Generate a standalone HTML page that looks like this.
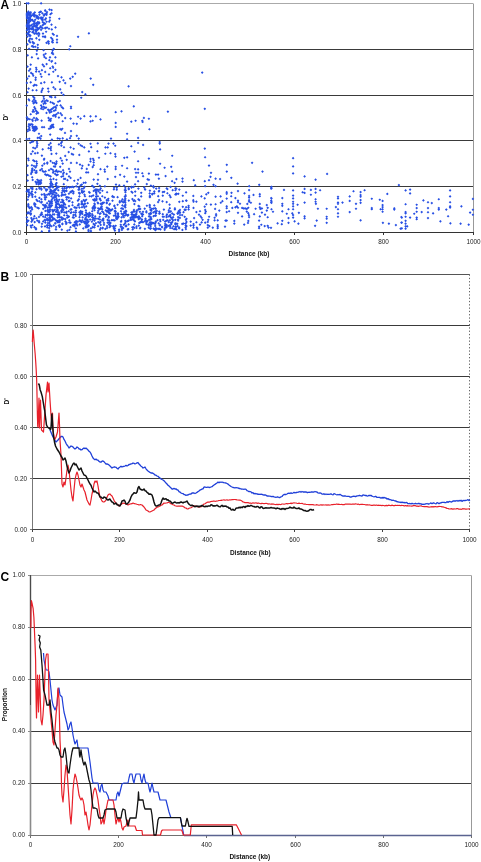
<!DOCTYPE html>
<html><head><meta charset="utf-8"><title>Figure</title>
<style>
html,body{margin:0;padding:0;background:#fff;}
body{width:481px;height:862px;overflow:hidden;font-family:"Liberation Sans",sans-serif;}
svg{display:block;will-change:transform;opacity:0.999;}
text{font-family:"Liberation Sans",sans-serif;fill:#111;}
.t{font-size:6.4px;fill:#222;}
.b{font-size:6.5px;font-weight:bold;}
.L{font-size:12px;font-weight:bold;fill:#000;}
</style></head><body>
<svg width="481" height="862" viewBox="0 0 481 862">
<rect width="481" height="862" fill="#fff"/>

<g id="panelA">
<line x1="26.5" x2="473.0" y1="186.5" y2="186.5" stroke="#3a3a3a" stroke-width="1"/>
<line x1="26.5" x2="473.0" y1="140.5" y2="140.5" stroke="#3a3a3a" stroke-width="1"/>
<line x1="26.5" x2="473.0" y1="95.5" y2="95.5" stroke="#3a3a3a" stroke-width="1"/>
<line x1="26.5" x2="473.0" y1="49.5" y2="49.5" stroke="#3a3a3a" stroke-width="1"/>
<line x1="26.5" x2="473.0" y1="3.5" y2="3.5" stroke="#aaa" stroke-width="1"/>
<line x1="473.5" x2="473.5" y1="3.5" y2="232.5" stroke="#999" stroke-width="1"/>
<line x1="26.5" x2="26.5" y1="3.0" y2="233.0" stroke="#333" stroke-width="1"/>
<line x1="26.0" x2="474.0" y1="232.5" y2="232.5" stroke="#333" stroke-width="1"/>
<line x1="24.0" x2="26.5" y1="232.5" y2="232.5" stroke="#333" stroke-width="1"/>
<text class="t" x="21.30" y="234.50" text-anchor="end">0.0</text>
<line x1="24.0" x2="26.5" y1="186.5" y2="186.5" stroke="#333" stroke-width="1"/>
<text class="t" x="21.30" y="188.50" text-anchor="end">0.2</text>
<line x1="24.0" x2="26.5" y1="140.5" y2="140.5" stroke="#333" stroke-width="1"/>
<text class="t" x="21.30" y="142.50" text-anchor="end">0.4</text>
<line x1="24.0" x2="26.5" y1="95.5" y2="95.5" stroke="#333" stroke-width="1"/>
<text class="t" x="21.30" y="97.50" text-anchor="end">0.6</text>
<line x1="24.0" x2="26.5" y1="49.5" y2="49.5" stroke="#333" stroke-width="1"/>
<text class="t" x="21.30" y="51.50" text-anchor="end">0.8</text>
<line x1="24.0" x2="26.5" y1="3.5" y2="3.5" stroke="#333" stroke-width="1"/>
<text class="t" x="21.30" y="5.50" text-anchor="end">1.0</text>
<line x1="26.5" x2="26.5" y1="232.5" y2="235.0" stroke="#333" stroke-width="1"/>
<text class="t" x="26.50" y="244.40" text-anchor="middle">0</text>
<line x1="115.5" x2="115.5" y1="232.5" y2="235.0" stroke="#333" stroke-width="1"/>
<text class="t" x="115.50" y="244.40" text-anchor="middle">200</text>
<line x1="205.5" x2="205.5" y1="232.5" y2="235.0" stroke="#333" stroke-width="1"/>
<text class="t" x="205.50" y="244.40" text-anchor="middle">400</text>
<line x1="294.5" x2="294.5" y1="232.5" y2="235.0" stroke="#333" stroke-width="1"/>
<text class="t" x="294.50" y="244.40" text-anchor="middle">600</text>
<line x1="383.5" x2="383.5" y1="232.5" y2="235.0" stroke="#333" stroke-width="1"/>
<text class="t" x="383.50" y="244.40" text-anchor="middle">800</text>
<line x1="473.5" x2="473.5" y1="232.5" y2="235.0" stroke="#333" stroke-width="1"/>
<text class="t" x="473.50" y="244.40" text-anchor="middle">1000</text>
<text class="b" x="249" y="256.1" text-anchor="middle">Distance (kb)</text>
<text class="b" transform="translate(7.7,117.3) rotate(-90)" text-anchor="middle">D'</text>
<text class="L" x="0.6" y="9.3">A</text>
<path d="M26.8,2.0l1.35,1.35l-1.35,1.35l-1.35,-1.35zM28.5,2.0l1.35,1.35l-1.35,1.35l-1.35,-1.35zM41.1,2.0l1.35,1.35l-1.35,1.35l-1.35,-1.35zM49.5,8.2l1.35,1.35l-1.35,1.35l-1.35,-1.35zM59.3,17.4l1.35,1.35l-1.35,1.35l-1.35,-1.35zM55.5,26.1l1.35,1.35l-1.35,1.35l-1.35,-1.35zM88.9,32.0l1.35,1.35l-1.35,1.35l-1.35,-1.35zM78.1,35.5l1.35,1.35l-1.35,1.35l-1.35,-1.35zM70.3,44.9l1.35,1.35l-1.35,1.35l-1.35,-1.35zM69.2,48.0l1.35,1.35l-1.35,1.35l-1.35,-1.35zM75.2,72.3l1.35,1.35l-1.35,1.35l-1.35,-1.35zM72.7,75.5l1.35,1.35l-1.35,1.35l-1.35,-1.35zM70.2,77.2l1.35,1.35l-1.35,1.35l-1.35,-1.35zM61.5,76.0l1.35,1.35l-1.35,1.35l-1.35,-1.35zM58.0,74.7l1.35,1.35l-1.35,1.35l-1.35,-1.35zM59.7,80.5l1.35,1.35l-1.35,1.35l-1.35,-1.35zM63.5,79.0l1.35,1.35l-1.35,1.35l-1.35,-1.35zM65.2,81.7l1.35,1.35l-1.35,1.35l-1.35,-1.35zM71.0,84.7l1.35,1.35l-1.35,1.35l-1.35,-1.35zM90.7,77.2l1.35,1.35l-1.35,1.35l-1.35,-1.35zM93.2,83.5l1.35,1.35l-1.35,1.35l-1.35,-1.35zM128.6,85.0l1.35,1.35l-1.35,1.35l-1.35,-1.35zM60.2,88.0l1.35,1.35l-1.35,1.35l-1.35,-1.35zM61.5,91.5l1.35,1.35l-1.35,1.35l-1.35,-1.35zM63.5,93.5l1.35,1.35l-1.35,1.35l-1.35,-1.35zM82.2,90.7l1.35,1.35l-1.35,1.35l-1.35,-1.35zM85.4,93.0l1.35,1.35l-1.35,1.35l-1.35,-1.35zM133.8,105.0l1.35,1.35l-1.35,1.35l-1.35,-1.35zM115.7,110.8l1.35,1.35l-1.35,1.35l-1.35,-1.35zM121.5,110.0l1.35,1.35l-1.35,1.35l-1.35,-1.35zM167.9,110.3l1.35,1.35l-1.35,1.35l-1.35,-1.35zM143.9,116.6l1.35,1.35l-1.35,1.35l-1.35,-1.35zM148.9,117.4l1.35,1.35l-1.35,1.35l-1.35,-1.35zM135.6,119.4l1.35,1.35l-1.35,1.35l-1.35,-1.35zM131.3,120.3l1.35,1.35l-1.35,1.35l-1.35,-1.35zM142.3,119.4l1.35,1.35l-1.35,1.35l-1.35,-1.35zM142.6,120.6l1.35,1.35l-1.35,1.35l-1.35,-1.35zM115.7,121.6l1.35,1.35l-1.35,1.35l-1.35,-1.35zM115.7,125.6l1.35,1.35l-1.35,1.35l-1.35,-1.35zM149.4,127.9l1.35,1.35l-1.35,1.35l-1.35,-1.35zM127.1,132.4l1.35,1.35l-1.35,1.35l-1.35,-1.35zM111.0,137.2l1.35,1.35l-1.35,1.35l-1.35,-1.35zM127.1,137.9l1.35,1.35l-1.35,1.35l-1.35,-1.35zM138.1,136.6l1.35,1.35l-1.35,1.35l-1.35,-1.35zM108.5,142.2l1.35,1.35l-1.35,1.35l-1.35,-1.35zM113.5,142.2l1.35,1.35l-1.35,1.35l-1.35,-1.35zM115.2,144.4l1.35,1.35l-1.35,1.35l-1.35,-1.35zM107.7,146.1l1.35,1.35l-1.35,1.35l-1.35,-1.35zM131.3,144.9l1.35,1.35l-1.35,1.35l-1.35,-1.35zM138.1,141.6l1.35,1.35l-1.35,1.35l-1.35,-1.35zM143.1,143.6l1.35,1.35l-1.35,1.35l-1.35,-1.35zM159.7,140.7l1.35,1.35l-1.35,1.35l-1.35,-1.35zM159.7,142.2l1.35,1.35l-1.35,1.35l-1.35,-1.35zM160.1,148.1l1.35,1.35l-1.35,1.35l-1.35,-1.35zM134.6,150.2l1.35,1.35l-1.35,1.35l-1.35,-1.35zM110.5,151.9l1.35,1.35l-1.35,1.35l-1.35,-1.35zM115.2,152.7l1.35,1.35l-1.35,1.35l-1.35,-1.35zM115.5,155.2l1.35,1.35l-1.35,1.35l-1.35,-1.35zM124.3,156.5l1.35,1.35l-1.35,1.35l-1.35,-1.35zM127.1,156.0l1.35,1.35l-1.35,1.35l-1.35,-1.35zM148.9,157.2l1.35,1.35l-1.35,1.35l-1.35,-1.35zM172.2,154.4l1.35,1.35l-1.35,1.35l-1.35,-1.35zM138.1,159.9l1.35,1.35l-1.35,1.35l-1.35,-1.35zM160.1,162.4l1.35,1.35l-1.35,1.35l-1.35,-1.35zM122.1,164.4l1.35,1.35l-1.35,1.35l-1.35,-1.35zM107.3,165.2l1.35,1.35l-1.35,1.35l-1.35,-1.35zM115.7,165.5l1.35,1.35l-1.35,1.35l-1.35,-1.35zM115.7,167.7l1.35,1.35l-1.35,1.35l-1.35,-1.35zM127.1,166.9l1.35,1.35l-1.35,1.35l-1.35,-1.35zM164.6,166.4l1.35,1.35l-1.35,1.35l-1.35,-1.35zM171.2,165.5l1.35,1.35l-1.35,1.35l-1.35,-1.35zM135.1,167.7l1.35,1.35l-1.35,1.35l-1.35,-1.35zM138.1,168.0l1.35,1.35l-1.35,1.35l-1.35,-1.35zM172.1,170.2l1.35,1.35l-1.35,1.35l-1.35,-1.35zM136.0,171.4l1.35,1.35l-1.35,1.35l-1.35,-1.35zM138.1,171.4l1.35,1.35l-1.35,1.35l-1.35,-1.35zM142.3,171.9l1.35,1.35l-1.35,1.35l-1.35,-1.35zM148.9,172.2l1.35,1.35l-1.35,1.35l-1.35,-1.35zM155.9,173.2l1.35,1.35l-1.35,1.35l-1.35,-1.35zM158.1,173.2l1.35,1.35l-1.35,1.35l-1.35,-1.35zM120.1,173.5l1.35,1.35l-1.35,1.35l-1.35,-1.35zM124.3,175.2l1.35,1.35l-1.35,1.35l-1.35,-1.35zM115.2,175.5l1.35,1.35l-1.35,1.35l-1.35,-1.35zM136.0,175.7l1.35,1.35l-1.35,1.35l-1.35,-1.35zM143.1,174.8l1.35,1.35l-1.35,1.35l-1.35,-1.35zM165.6,174.7l1.35,1.35l-1.35,1.35l-1.35,-1.35zM158.9,177.3l1.35,1.35l-1.35,1.35l-1.35,-1.35zM107.7,177.7l1.35,1.35l-1.35,1.35l-1.35,-1.35zM147.6,178.0l1.35,1.35l-1.35,1.35l-1.35,-1.35zM148.9,178.5l1.35,1.35l-1.35,1.35l-1.35,-1.35zM176.4,177.7l1.35,1.35l-1.35,1.35l-1.35,-1.35zM182.5,177.2l1.35,1.35l-1.35,1.35l-1.35,-1.35zM182.5,180.2l1.35,1.35l-1.35,1.35l-1.35,-1.35zM172.1,179.8l1.35,1.35l-1.35,1.35l-1.35,-1.35zM174.6,181.5l1.35,1.35l-1.35,1.35l-1.35,-1.35zM127.1,180.2l1.35,1.35l-1.35,1.35l-1.35,-1.35zM138.1,179.8l1.35,1.35l-1.35,1.35l-1.35,-1.35zM135.1,183.0l1.35,1.35l-1.35,1.35l-1.35,-1.35zM116.0,183.2l1.35,1.35l-1.35,1.35l-1.35,-1.35zM119.3,184.0l1.35,1.35l-1.35,1.35l-1.35,-1.35zM124.0,184.3l1.35,1.35l-1.35,1.35l-1.35,-1.35zM146.8,182.7l1.35,1.35l-1.35,1.35l-1.35,-1.35zM150.9,184.3l1.35,1.35l-1.35,1.35l-1.35,-1.35zM153.4,184.8l1.35,1.35l-1.35,1.35l-1.35,-1.35zM204.8,107.5l1.35,1.35l-1.35,1.35l-1.35,-1.35zM204.8,147.2l1.35,1.35l-1.35,1.35l-1.35,-1.35zM205.1,155.9l1.35,1.35l-1.35,1.35l-1.35,-1.35zM209.0,164.2l1.35,1.35l-1.35,1.35l-1.35,-1.35zM226.8,163.5l1.35,1.35l-1.35,1.35l-1.35,-1.35zM252.1,161.5l1.35,1.35l-1.35,1.35l-1.35,-1.35zM226.8,170.2l1.35,1.35l-1.35,1.35l-1.35,-1.35zM211.0,171.5l1.35,1.35l-1.35,1.35l-1.35,-1.35zM262.5,170.2l1.35,1.35l-1.35,1.35l-1.35,-1.35zM210.5,175.5l1.35,1.35l-1.35,1.35l-1.35,-1.35zM231.3,176.5l1.35,1.35l-1.35,1.35l-1.35,-1.35zM215.6,177.3l1.35,1.35l-1.35,1.35l-1.35,-1.35zM220.1,177.7l1.35,1.35l-1.35,1.35l-1.35,-1.35zM193.8,178.8l1.35,1.35l-1.35,1.35l-1.35,-1.35zM209.0,178.8l1.35,1.35l-1.35,1.35l-1.35,-1.35zM204.8,179.8l1.35,1.35l-1.35,1.35l-1.35,-1.35zM237.6,182.3l1.35,1.35l-1.35,1.35l-1.35,-1.35zM195.2,184.0l1.35,1.35l-1.35,1.35l-1.35,-1.35zM205.1,184.7l1.35,1.35l-1.35,1.35l-1.35,-1.35zM213.5,183.5l1.35,1.35l-1.35,1.35l-1.35,-1.35zM215.6,184.8l1.35,1.35l-1.35,1.35l-1.35,-1.35zM249.2,184.8l1.35,1.35l-1.35,1.35l-1.35,-1.35zM259.2,183.5l1.35,1.35l-1.35,1.35l-1.35,-1.35zM202.2,71.2l1.35,1.35l-1.35,1.35l-1.35,-1.35zM293.1,156.8l1.35,1.35l-1.35,1.35l-1.35,-1.35zM293.1,165.1l1.35,1.35l-1.35,1.35l-1.35,-1.35zM293.1,172.1l1.35,1.35l-1.35,1.35l-1.35,-1.35zM327.1,172.6l1.35,1.35l-1.35,1.35l-1.35,-1.35zM304.6,175.1l1.35,1.35l-1.35,1.35l-1.35,-1.35zM315.6,178.3l1.35,1.35l-1.35,1.35l-1.35,-1.35zM271.5,185.4l1.35,1.35l-1.35,1.35l-1.35,-1.35zM271.5,187.1l1.35,1.35l-1.35,1.35l-1.35,-1.35zM284.0,188.6l1.35,1.35l-1.35,1.35l-1.35,-1.35zM293.1,189.1l1.35,1.35l-1.35,1.35l-1.35,-1.35zM304.6,187.6l1.35,1.35l-1.35,1.35l-1.35,-1.35zM310.9,188.6l1.35,1.35l-1.35,1.35l-1.35,-1.35zM315.6,187.6l1.35,1.35l-1.35,1.35l-1.35,-1.35zM320.1,188.9l1.35,1.35l-1.35,1.35l-1.35,-1.35zM302.6,190.9l1.35,1.35l-1.35,1.35l-1.35,-1.35zM304.6,191.6l1.35,1.35l-1.35,1.35l-1.35,-1.35zM315.6,191.2l1.35,1.35l-1.35,1.35l-1.35,-1.35zM310.9,193.4l1.35,1.35l-1.35,1.35l-1.35,-1.35zM293.1,194.2l1.35,1.35l-1.35,1.35l-1.35,-1.35zM293.1,197.1l1.35,1.35l-1.35,1.35l-1.35,-1.35zM271.5,197.1l1.35,1.35l-1.35,1.35l-1.35,-1.35zM282.3,196.7l1.35,1.35l-1.35,1.35l-1.35,-1.35zM315.6,197.9l1.35,1.35l-1.35,1.35l-1.35,-1.35zM338.0,195.4l1.35,1.35l-1.35,1.35l-1.35,-1.35zM338.0,197.1l1.35,1.35l-1.35,1.35l-1.35,-1.35zM271.5,199.9l1.35,1.35l-1.35,1.35l-1.35,-1.35zM271.5,201.5l1.35,1.35l-1.35,1.35l-1.35,-1.35zM293.1,200.4l1.35,1.35l-1.35,1.35l-1.35,-1.35zM293.1,202.5l1.35,1.35l-1.35,1.35l-1.35,-1.35zM304.6,201.2l1.35,1.35l-1.35,1.35l-1.35,-1.35zM315.6,200.4l1.35,1.35l-1.35,1.35l-1.35,-1.35zM315.9,202.5l1.35,1.35l-1.35,1.35l-1.35,-1.35zM338.0,201.2l1.35,1.35l-1.35,1.35l-1.35,-1.35zM338.0,202.5l1.35,1.35l-1.35,1.35l-1.35,-1.35zM342.5,201.2l1.35,1.35l-1.35,1.35l-1.35,-1.35zM282.3,202.5l1.35,1.35l-1.35,1.35l-1.35,-1.35zM282.3,204.5l1.35,1.35l-1.35,1.35l-1.35,-1.35zM297.6,203.4l1.35,1.35l-1.35,1.35l-1.35,-1.35zM266.8,203.7l1.35,1.35l-1.35,1.35l-1.35,-1.35zM293.1,205.0l1.35,1.35l-1.35,1.35l-1.35,-1.35zM267.7,206.5l1.35,1.35l-1.35,1.35l-1.35,-1.35zM271.5,207.9l1.35,1.35l-1.35,1.35l-1.35,-1.35zM288.5,207.9l1.35,1.35l-1.35,1.35l-1.35,-1.35zM293.1,207.9l1.35,1.35l-1.35,1.35l-1.35,-1.35zM317.9,207.4l1.35,1.35l-1.35,1.35l-1.35,-1.35zM326.7,207.4l1.35,1.35l-1.35,1.35l-1.35,-1.35zM335.9,205.7l1.35,1.35l-1.35,1.35l-1.35,-1.35zM338.0,207.9l1.35,1.35l-1.35,1.35l-1.35,-1.35zM266.8,209.2l1.35,1.35l-1.35,1.35l-1.35,-1.35zM273.0,210.4l1.35,1.35l-1.35,1.35l-1.35,-1.35zM282.3,210.0l1.35,1.35l-1.35,1.35l-1.35,-1.35zM286.8,212.4l1.35,1.35l-1.35,1.35l-1.35,-1.35zM292.3,212.0l1.35,1.35l-1.35,1.35l-1.35,-1.35zM298.9,211.5l1.35,1.35l-1.35,1.35l-1.35,-1.35zM338.0,212.0l1.35,1.35l-1.35,1.35l-1.35,-1.35zM293.1,213.7l1.35,1.35l-1.35,1.35l-1.35,-1.35zM267.7,215.9l1.35,1.35l-1.35,1.35l-1.35,-1.35zM288.5,216.7l1.35,1.35l-1.35,1.35l-1.35,-1.35zM293.1,216.2l1.35,1.35l-1.35,1.35l-1.35,-1.35zM304.6,215.0l1.35,1.35l-1.35,1.35l-1.35,-1.35zM304.6,217.0l1.35,1.35l-1.35,1.35l-1.35,-1.35zM326.7,215.4l1.35,1.35l-1.35,1.35l-1.35,-1.35zM326.7,217.4l1.35,1.35l-1.35,1.35l-1.35,-1.35zM338.0,215.4l1.35,1.35l-1.35,1.35l-1.35,-1.35zM282.3,219.5l1.35,1.35l-1.35,1.35l-1.35,-1.35zM294.6,220.0l1.35,1.35l-1.35,1.35l-1.35,-1.35zM316.7,219.2l1.35,1.35l-1.35,1.35l-1.35,-1.35zM277.6,222.0l1.35,1.35l-1.35,1.35l-1.35,-1.35zM281.8,222.8l1.35,1.35l-1.35,1.35l-1.35,-1.35zM288.5,221.5l1.35,1.35l-1.35,1.35l-1.35,-1.35zM298.4,222.3l1.35,1.35l-1.35,1.35l-1.35,-1.35zM326.7,221.5l1.35,1.35l-1.35,1.35l-1.35,-1.35zM315.1,224.5l1.35,1.35l-1.35,1.35l-1.35,-1.35zM267.7,224.5l1.35,1.35l-1.35,1.35l-1.35,-1.35zM268.5,226.2l1.35,1.35l-1.35,1.35l-1.35,-1.35zM271.0,226.5l1.35,1.35l-1.35,1.35l-1.35,-1.35zM398.9,183.7l1.35,1.35l-1.35,1.35l-1.35,-1.35zM364.6,188.9l1.35,1.35l-1.35,1.35l-1.35,-1.35zM353.5,189.9l1.35,1.35l-1.35,1.35l-1.35,-1.35zM360.6,190.7l1.35,1.35l-1.35,1.35l-1.35,-1.35zM405.6,189.1l1.35,1.35l-1.35,1.35l-1.35,-1.35zM410.1,188.2l1.35,1.35l-1.35,1.35l-1.35,-1.35zM410.1,192.1l1.35,1.35l-1.35,1.35l-1.35,-1.35zM387.3,192.6l1.35,1.35l-1.35,1.35l-1.35,-1.35zM349.7,195.1l1.35,1.35l-1.35,1.35l-1.35,-1.35zM360.6,193.7l1.35,1.35l-1.35,1.35l-1.35,-1.35zM360.6,195.4l1.35,1.35l-1.35,1.35l-1.35,-1.35zM371.8,197.4l1.35,1.35l-1.35,1.35l-1.35,-1.35zM379.8,198.4l1.35,1.35l-1.35,1.35l-1.35,-1.35zM349.7,199.6l1.35,1.35l-1.35,1.35l-1.35,-1.35zM360.6,198.7l1.35,1.35l-1.35,1.35l-1.35,-1.35zM360.6,201.5l1.35,1.35l-1.35,1.35l-1.35,-1.35zM382.6,199.6l1.35,1.35l-1.35,1.35l-1.35,-1.35zM423.4,199.1l1.35,1.35l-1.35,1.35l-1.35,-1.35zM356.0,202.5l1.35,1.35l-1.35,1.35l-1.35,-1.35zM405.6,202.9l1.35,1.35l-1.35,1.35l-1.35,-1.35zM416.7,203.4l1.35,1.35l-1.35,1.35l-1.35,-1.35zM382.6,203.7l1.35,1.35l-1.35,1.35l-1.35,-1.35zM382.6,205.7l1.35,1.35l-1.35,1.35l-1.35,-1.35zM356.0,207.4l1.35,1.35l-1.35,1.35l-1.35,-1.35zM371.8,206.7l1.35,1.35l-1.35,1.35l-1.35,-1.35zM371.8,207.9l1.35,1.35l-1.35,1.35l-1.35,-1.35zM380.6,207.9l1.35,1.35l-1.35,1.35l-1.35,-1.35zM382.6,207.9l1.35,1.35l-1.35,1.35l-1.35,-1.35zM394.3,207.0l1.35,1.35l-1.35,1.35l-1.35,-1.35zM394.3,208.2l1.35,1.35l-1.35,1.35l-1.35,-1.35zM416.7,206.7l1.35,1.35l-1.35,1.35l-1.35,-1.35zM349.7,210.7l1.35,1.35l-1.35,1.35l-1.35,-1.35zM382.6,210.4l1.35,1.35l-1.35,1.35l-1.35,-1.35zM405.6,210.7l1.35,1.35l-1.35,1.35l-1.35,-1.35zM405.6,212.0l1.35,1.35l-1.35,1.35l-1.35,-1.35zM416.7,210.4l1.35,1.35l-1.35,1.35l-1.35,-1.35zM421.7,210.7l1.35,1.35l-1.35,1.35l-1.35,-1.35zM414.2,212.4l1.35,1.35l-1.35,1.35l-1.35,-1.35zM401.4,215.7l1.35,1.35l-1.35,1.35l-1.35,-1.35zM405.6,215.4l1.35,1.35l-1.35,1.35l-1.35,-1.35zM410.1,216.2l1.35,1.35l-1.35,1.35l-1.35,-1.35zM416.7,216.2l1.35,1.35l-1.35,1.35l-1.35,-1.35zM416.7,217.9l1.35,1.35l-1.35,1.35l-1.35,-1.35zM360.6,219.0l1.35,1.35l-1.35,1.35l-1.35,-1.35zM405.6,219.5l1.35,1.35l-1.35,1.35l-1.35,-1.35zM401.4,221.2l1.35,1.35l-1.35,1.35l-1.35,-1.35zM382.9,221.5l1.35,1.35l-1.35,1.35l-1.35,-1.35zM388.9,222.3l1.35,1.35l-1.35,1.35l-1.35,-1.35zM405.6,222.3l1.35,1.35l-1.35,1.35l-1.35,-1.35zM395.9,223.7l1.35,1.35l-1.35,1.35l-1.35,-1.35zM405.6,225.0l1.35,1.35l-1.35,1.35l-1.35,-1.35zM407.2,225.0l1.35,1.35l-1.35,1.35l-1.35,-1.35zM400.6,227.3l1.35,1.35l-1.35,1.35l-1.35,-1.35zM405.6,227.3l1.35,1.35l-1.35,1.35l-1.35,-1.35zM428.0,200.9l1.35,1.35l-1.35,1.35l-1.35,-1.35zM431.8,201.7l1.35,1.35l-1.35,1.35l-1.35,-1.35zM438.8,197.9l1.35,1.35l-1.35,1.35l-1.35,-1.35zM450.1,189.1l1.35,1.35l-1.35,1.35l-1.35,-1.35zM450.1,195.1l1.35,1.35l-1.35,1.35l-1.35,-1.35zM450.1,200.9l1.35,1.35l-1.35,1.35l-1.35,-1.35zM450.1,205.0l1.35,1.35l-1.35,1.35l-1.35,-1.35zM450.1,206.2l1.35,1.35l-1.35,1.35l-1.35,-1.35zM472.9,197.6l1.35,1.35l-1.35,1.35l-1.35,-1.35zM461.4,205.0l1.35,1.35l-1.35,1.35l-1.35,-1.35zM428.0,206.7l1.35,1.35l-1.35,1.35l-1.35,-1.35zM438.8,206.7l1.35,1.35l-1.35,1.35l-1.35,-1.35zM438.8,208.2l1.35,1.35l-1.35,1.35l-1.35,-1.35zM446.3,208.2l1.35,1.35l-1.35,1.35l-1.35,-1.35zM472.9,208.4l1.35,1.35l-1.35,1.35l-1.35,-1.35zM428.0,210.9l1.35,1.35l-1.35,1.35l-1.35,-1.35zM433.1,212.0l1.35,1.35l-1.35,1.35l-1.35,-1.35zM470.1,211.2l1.35,1.35l-1.35,1.35l-1.35,-1.35zM472.9,213.4l1.35,1.35l-1.35,1.35l-1.35,-1.35zM448.1,214.9l1.35,1.35l-1.35,1.35l-1.35,-1.35zM428.0,216.7l1.35,1.35l-1.35,1.35l-1.35,-1.35zM440.4,220.0l1.35,1.35l-1.35,1.35l-1.35,-1.35zM450.4,222.0l1.35,1.35l-1.35,1.35l-1.35,-1.35zM460.6,222.3l1.35,1.35l-1.35,1.35l-1.35,-1.35zM468.7,223.3l1.35,1.35l-1.35,1.35l-1.35,-1.35zM401.8,216.2l1.35,1.35l-1.35,1.35l-1.35,-1.35zM401.8,221.2l1.35,1.35l-1.35,1.35l-1.35,-1.35zM401.8,227.0l1.35,1.35l-1.35,1.35l-1.35,-1.35zM36.9,49.4l1.35,1.35l-1.35,1.35l-1.35,-1.35zM43.6,48.8l1.35,1.35l-1.35,1.35l-1.35,-1.35zM52.7,49.0l1.35,1.35l-1.35,1.35l-1.35,-1.35zM52.3,51.1l1.35,1.35l-1.35,1.35l-1.35,-1.35zM53.1,52.7l1.35,1.35l-1.35,1.35l-1.35,-1.35zM27.7,54.0l1.35,1.35l-1.35,1.35l-1.35,-1.35zM43.8,53.6l1.35,1.35l-1.35,1.35l-1.35,-1.35zM31.9,56.0l1.35,1.35l-1.35,1.35l-1.35,-1.35zM38.1,57.1l1.35,1.35l-1.35,1.35l-1.35,-1.35zM44.4,55.6l1.35,1.35l-1.35,1.35l-1.35,-1.35zM46.0,56.9l1.35,1.35l-1.35,1.35l-1.35,-1.35zM50.0,56.0l1.35,1.35l-1.35,1.35l-1.35,-1.35zM55.4,56.0l1.35,1.35l-1.35,1.35l-1.35,-1.35zM51.5,60.2l1.35,1.35l-1.35,1.35l-1.35,-1.35zM55.4,61.9l1.35,1.35l-1.35,1.35l-1.35,-1.35zM30.7,63.3l1.35,1.35l-1.35,1.35l-1.35,-1.35zM42.7,63.3l1.35,1.35l-1.35,1.35l-1.35,-1.35zM44.0,65.0l1.35,1.35l-1.35,1.35l-1.35,-1.35zM46.6,62.7l1.35,1.35l-1.35,1.35l-1.35,-1.35zM52.7,65.2l1.35,1.35l-1.35,1.35l-1.35,-1.35zM53.1,66.4l1.35,1.35l-1.35,1.35l-1.35,-1.35zM50.2,66.9l1.35,1.35l-1.35,1.35l-1.35,-1.35zM55.4,68.5l1.35,1.35l-1.35,1.35l-1.35,-1.35zM36.1,66.4l1.35,1.35l-1.35,1.35l-1.35,-1.35zM36.5,68.1l1.35,1.35l-1.35,1.35l-1.35,-1.35zM36.1,70.2l1.35,1.35l-1.35,1.35l-1.35,-1.35zM30.2,67.7l1.35,1.35l-1.35,1.35l-1.35,-1.35zM29.0,69.4l1.35,1.35l-1.35,1.35l-1.35,-1.35zM41.9,68.8l1.35,1.35l-1.35,1.35l-1.35,-1.35zM45.2,70.6l1.35,1.35l-1.35,1.35l-1.35,-1.35zM31.1,71.6l1.35,1.35l-1.35,1.35l-1.35,-1.35zM32.7,72.7l1.35,1.35l-1.35,1.35l-1.35,-1.35zM33.2,74.4l1.35,1.35l-1.35,1.35l-1.35,-1.35zM40.6,72.7l1.35,1.35l-1.35,1.35l-1.35,-1.35zM49.0,73.1l1.35,1.35l-1.35,1.35l-1.35,-1.35zM29.0,74.9l1.35,1.35l-1.35,1.35l-1.35,-1.35zM27.3,77.3l1.35,1.35l-1.35,1.35l-1.35,-1.35zM41.5,75.4l1.35,1.35l-1.35,1.35l-1.35,-1.35zM35.6,78.5l1.35,1.35l-1.35,1.35l-1.35,-1.35zM30.7,81.0l1.35,1.35l-1.35,1.35l-1.35,-1.35zM41.1,81.8l1.35,1.35l-1.35,1.35l-1.35,-1.35zM44.4,81.0l1.35,1.35l-1.35,1.35l-1.35,-1.35zM51.9,81.0l1.35,1.35l-1.35,1.35l-1.35,-1.35zM34.8,83.5l1.35,1.35l-1.35,1.35l-1.35,-1.35zM33.6,84.3l1.35,1.35l-1.35,1.35l-1.35,-1.35zM36.5,83.9l1.35,1.35l-1.35,1.35l-1.35,-1.35zM28.6,87.2l1.35,1.35l-1.35,1.35l-1.35,-1.35zM32.7,88.9l1.35,1.35l-1.35,1.35l-1.35,-1.35zM36.5,88.9l1.35,1.35l-1.35,1.35l-1.35,-1.35zM42.7,87.2l1.35,1.35l-1.35,1.35l-1.35,-1.35zM41.9,88.9l1.35,1.35l-1.35,1.35l-1.35,-1.35zM41.5,90.6l1.35,1.35l-1.35,1.35l-1.35,-1.35zM48.1,87.2l1.35,1.35l-1.35,1.35l-1.35,-1.35zM48.5,90.2l1.35,1.35l-1.35,1.35l-1.35,-1.35zM53.5,86.0l1.35,1.35l-1.35,1.35l-1.35,-1.35zM55.2,87.7l1.35,1.35l-1.35,1.35l-1.35,-1.35zM33.2,95.4l1.35,1.35l-1.35,1.35l-1.35,-1.35zM34.4,96.6l1.35,1.35l-1.35,1.35l-1.35,-1.35zM34.0,98.3l1.35,1.35l-1.35,1.35l-1.35,-1.35zM32.7,100.0l1.35,1.35l-1.35,1.35l-1.35,-1.35zM34.8,100.8l1.35,1.35l-1.35,1.35l-1.35,-1.35zM36.5,101.6l1.35,1.35l-1.35,1.35l-1.35,-1.35zM33.6,102.0l1.35,1.35l-1.35,1.35l-1.35,-1.35zM35.6,99.6l1.35,1.35l-1.35,1.35l-1.35,-1.35zM43.6,95.4l1.35,1.35l-1.35,1.35l-1.35,-1.35zM44.0,97.5l1.35,1.35l-1.35,1.35l-1.35,-1.35zM42.7,99.6l1.35,1.35l-1.35,1.35l-1.35,-1.35zM44.8,100.0l1.35,1.35l-1.35,1.35l-1.35,-1.35zM46.5,99.1l1.35,1.35l-1.35,1.35l-1.35,-1.35zM47.7,99.6l1.35,1.35l-1.35,1.35l-1.35,-1.35zM44.4,101.6l1.35,1.35l-1.35,1.35l-1.35,-1.35zM45.6,102.0l1.35,1.35l-1.35,1.35l-1.35,-1.35zM41.9,100.4l1.35,1.35l-1.35,1.35l-1.35,-1.35zM43.6,102.5l1.35,1.35l-1.35,1.35l-1.35,-1.35zM51.5,95.8l1.35,1.35l-1.35,1.35l-1.35,-1.35zM55.2,95.8l1.35,1.35l-1.35,1.35l-1.35,-1.35zM50.6,100.8l1.35,1.35l-1.35,1.35l-1.35,-1.35zM52.7,101.6l1.35,1.35l-1.35,1.35l-1.35,-1.35zM54.0,102.5l1.35,1.35l-1.35,1.35l-1.35,-1.35zM58.1,100.4l1.35,1.35l-1.35,1.35l-1.35,-1.35zM59.8,99.6l1.35,1.35l-1.35,1.35l-1.35,-1.35zM60.6,104.1l1.35,1.35l-1.35,1.35l-1.35,-1.35zM61.9,105.8l1.35,1.35l-1.35,1.35l-1.35,-1.35zM63.1,107.0l1.35,1.35l-1.35,1.35l-1.35,-1.35zM34.4,105.8l1.35,1.35l-1.35,1.35l-1.35,-1.35zM35.2,107.5l1.35,1.35l-1.35,1.35l-1.35,-1.35zM33.2,108.7l1.35,1.35l-1.35,1.35l-1.35,-1.35zM34.0,110.4l1.35,1.35l-1.35,1.35l-1.35,-1.35zM36.1,109.5l1.35,1.35l-1.35,1.35l-1.35,-1.35zM37.3,110.8l1.35,1.35l-1.35,1.35l-1.35,-1.35zM38.1,111.6l1.35,1.35l-1.35,1.35l-1.35,-1.35zM36.5,112.4l1.35,1.35l-1.35,1.35l-1.35,-1.35zM32.7,110.4l1.35,1.35l-1.35,1.35l-1.35,-1.35zM30.7,112.9l1.35,1.35l-1.35,1.35l-1.35,-1.35zM41.1,104.1l1.35,1.35l-1.35,1.35l-1.35,-1.35zM41.9,105.8l1.35,1.35l-1.35,1.35l-1.35,-1.35zM43.6,105.4l1.35,1.35l-1.35,1.35l-1.35,-1.35zM44.8,106.6l1.35,1.35l-1.35,1.35l-1.35,-1.35zM43.1,107.9l1.35,1.35l-1.35,1.35l-1.35,-1.35zM46.0,106.2l1.35,1.35l-1.35,1.35l-1.35,-1.35zM48.1,108.3l1.35,1.35l-1.35,1.35l-1.35,-1.35zM49.0,109.5l1.35,1.35l-1.35,1.35l-1.35,-1.35zM50.2,108.7l1.35,1.35l-1.35,1.35l-1.35,-1.35zM51.5,107.9l1.35,1.35l-1.35,1.35l-1.35,-1.35zM52.7,107.0l1.35,1.35l-1.35,1.35l-1.35,-1.35zM53.5,106.2l1.35,1.35l-1.35,1.35l-1.35,-1.35zM55.2,105.4l1.35,1.35l-1.35,1.35l-1.35,-1.35zM56.0,106.6l1.35,1.35l-1.35,1.35l-1.35,-1.35zM55.6,108.7l1.35,1.35l-1.35,1.35l-1.35,-1.35zM54.0,109.5l1.35,1.35l-1.35,1.35l-1.35,-1.35zM51.5,110.4l1.35,1.35l-1.35,1.35l-1.35,-1.35zM49.8,111.2l1.35,1.35l-1.35,1.35l-1.35,-1.35zM56.9,104.1l1.35,1.35l-1.35,1.35l-1.35,-1.35zM46.5,111.6l1.35,1.35l-1.35,1.35l-1.35,-1.35zM54.0,113.7l1.35,1.35l-1.35,1.35l-1.35,-1.35zM55.2,114.1l1.35,1.35l-1.35,1.35l-1.35,-1.35zM56.4,112.9l1.35,1.35l-1.35,1.35l-1.35,-1.35zM55.6,115.4l1.35,1.35l-1.35,1.35l-1.35,-1.35zM58.1,111.6l1.35,1.35l-1.35,1.35l-1.35,-1.35zM60.6,112.0l1.35,1.35l-1.35,1.35l-1.35,-1.35zM61.9,113.7l1.35,1.35l-1.35,1.35l-1.35,-1.35zM58.9,116.2l1.35,1.35l-1.35,1.35l-1.35,-1.35zM53.1,114.5l1.35,1.35l-1.35,1.35l-1.35,-1.35zM26.9,115.8l1.35,1.35l-1.35,1.35l-1.35,-1.35zM28.2,117.4l1.35,1.35l-1.35,1.35l-1.35,-1.35zM29.8,117.9l1.35,1.35l-1.35,1.35l-1.35,-1.35zM32.3,118.3l1.35,1.35l-1.35,1.35l-1.35,-1.35zM34.0,116.6l1.35,1.35l-1.35,1.35l-1.35,-1.35zM36.5,117.0l1.35,1.35l-1.35,1.35l-1.35,-1.35zM37.7,118.3l1.35,1.35l-1.35,1.35l-1.35,-1.35zM32.7,119.5l1.35,1.35l-1.35,1.35l-1.35,-1.35zM35.6,119.1l1.35,1.35l-1.35,1.35l-1.35,-1.35zM27.3,118.3l1.35,1.35l-1.35,1.35l-1.35,-1.35zM41.6,119.3l1.35,1.35l-1.35,1.35l-1.35,-1.35zM48.5,116.6l1.35,1.35l-1.35,1.35l-1.35,-1.35zM49.8,118.3l1.35,1.35l-1.35,1.35l-1.35,-1.35zM51.0,117.4l1.35,1.35l-1.35,1.35l-1.35,-1.35zM50.6,119.5l1.35,1.35l-1.35,1.35l-1.35,-1.35zM49.0,119.1l1.35,1.35l-1.35,1.35l-1.35,-1.35zM29.0,122.8l1.35,1.35l-1.35,1.35l-1.35,-1.35zM30.2,123.7l1.35,1.35l-1.35,1.35l-1.35,-1.35zM28.6,124.9l1.35,1.35l-1.35,1.35l-1.35,-1.35zM29.4,126.6l1.35,1.35l-1.35,1.35l-1.35,-1.35zM28.2,128.3l1.35,1.35l-1.35,1.35l-1.35,-1.35zM27.7,129.9l1.35,1.35l-1.35,1.35l-1.35,-1.35zM29.8,128.7l1.35,1.35l-1.35,1.35l-1.35,-1.35zM31.1,122.8l1.35,1.35l-1.35,1.35l-1.35,-1.35zM32.7,126.6l1.35,1.35l-1.35,1.35l-1.35,-1.35zM34.0,125.8l1.35,1.35l-1.35,1.35l-1.35,-1.35zM35.2,125.3l1.35,1.35l-1.35,1.35l-1.35,-1.35zM36.5,125.8l1.35,1.35l-1.35,1.35l-1.35,-1.35zM33.6,127.8l1.35,1.35l-1.35,1.35l-1.35,-1.35zM34.8,127.4l1.35,1.35l-1.35,1.35l-1.35,-1.35zM36.1,127.0l1.35,1.35l-1.35,1.35l-1.35,-1.35zM33.2,129.1l1.35,1.35l-1.35,1.35l-1.35,-1.35zM34.4,129.5l1.35,1.35l-1.35,1.35l-1.35,-1.35zM35.6,128.7l1.35,1.35l-1.35,1.35l-1.35,-1.35zM36.9,127.4l1.35,1.35l-1.35,1.35l-1.35,-1.35zM42.1,125.8l1.35,1.35l-1.35,1.35l-1.35,-1.35zM44.1,125.8l1.35,1.35l-1.35,1.35l-1.35,-1.35zM49.0,127.4l1.35,1.35l-1.35,1.35l-1.35,-1.35zM50.2,127.0l1.35,1.35l-1.35,1.35l-1.35,-1.35zM51.5,126.2l1.35,1.35l-1.35,1.35l-1.35,-1.35zM52.7,124.9l1.35,1.35l-1.35,1.35l-1.35,-1.35zM53.1,123.3l1.35,1.35l-1.35,1.35l-1.35,-1.35zM51.9,123.7l1.35,1.35l-1.35,1.35l-1.35,-1.35zM50.6,124.9l1.35,1.35l-1.35,1.35l-1.35,-1.35zM53.5,125.8l1.35,1.35l-1.35,1.35l-1.35,-1.35zM60.2,127.8l1.35,1.35l-1.35,1.35l-1.35,-1.35zM61.4,128.3l1.35,1.35l-1.35,1.35l-1.35,-1.35zM62.3,127.4l1.35,1.35l-1.35,1.35l-1.35,-1.35zM62.7,119.9l1.35,1.35l-1.35,1.35l-1.35,-1.35zM39.0,132.4l1.35,1.35l-1.35,1.35l-1.35,-1.35zM50.2,133.2l1.35,1.35l-1.35,1.35l-1.35,-1.35zM37.7,136.6l1.35,1.35l-1.35,1.35l-1.35,-1.35zM39.4,136.2l1.35,1.35l-1.35,1.35l-1.35,-1.35zM40.6,137.4l1.35,1.35l-1.35,1.35l-1.35,-1.35zM51.9,138.2l1.35,1.35l-1.35,1.35l-1.35,-1.35zM57.7,137.0l1.35,1.35l-1.35,1.35l-1.35,-1.35zM59.8,137.4l1.35,1.35l-1.35,1.35l-1.35,-1.35zM62.7,137.0l1.35,1.35l-1.35,1.35l-1.35,-1.35zM65.2,116.7l1.35,1.35l-1.35,1.35l-1.35,-1.35zM65.0,131.6l1.35,1.35l-1.35,1.35l-1.35,-1.35zM26.8,104.2l1.35,1.35l-1.35,1.35l-1.35,-1.35zM26.8,137.7l1.35,1.35l-1.35,1.35l-1.35,-1.35zM81.2,96.4l1.35,1.35l-1.35,1.35l-1.35,-1.35zM71.0,105.4l1.35,1.35l-1.35,1.35l-1.35,-1.35zM71.0,106.9l1.35,1.35l-1.35,1.35l-1.35,-1.35zM78.1,115.4l1.35,1.35l-1.35,1.35l-1.35,-1.35zM84.3,114.8l1.35,1.35l-1.35,1.35l-1.35,-1.35zM90.5,115.0l1.35,1.35l-1.35,1.35l-1.35,-1.35zM95.9,115.0l1.35,1.35l-1.35,1.35l-1.35,-1.35zM70.6,117.2l1.35,1.35l-1.35,1.35l-1.35,-1.35zM80.6,117.2l1.35,1.35l-1.35,1.35l-1.35,-1.35zM100.5,118.1l1.35,1.35l-1.35,1.35l-1.35,-1.35zM90.5,120.1l1.35,1.35l-1.35,1.35l-1.35,-1.35zM92.7,119.4l1.35,1.35l-1.35,1.35l-1.35,-1.35zM73.5,122.2l1.35,1.35l-1.35,1.35l-1.35,-1.35zM76.8,122.5l1.35,1.35l-1.35,1.35l-1.35,-1.35zM71.0,129.7l1.35,1.35l-1.35,1.35l-1.35,-1.35zM71.0,134.7l1.35,1.35l-1.35,1.35l-1.35,-1.35zM76.8,134.5l1.35,1.35l-1.35,1.35l-1.35,-1.35zM78.7,137.2l1.35,1.35l-1.35,1.35l-1.35,-1.35zM66.9,138.1l1.35,1.35l-1.35,1.35l-1.35,-1.35zM70.0,136.8l1.35,1.35l-1.35,1.35l-1.35,-1.35zM30.2,141.4l1.35,1.35l-1.35,1.35l-1.35,-1.35zM31.9,140.6l1.35,1.35l-1.35,1.35l-1.35,-1.35zM33.2,140.1l1.35,1.35l-1.35,1.35l-1.35,-1.35zM36.9,140.6l1.35,1.35l-1.35,1.35l-1.35,-1.35zM37.3,142.2l1.35,1.35l-1.35,1.35l-1.35,-1.35zM37.1,143.9l1.35,1.35l-1.35,1.35l-1.35,-1.35zM36.9,145.6l1.35,1.35l-1.35,1.35l-1.35,-1.35zM49.0,143.5l1.35,1.35l-1.35,1.35l-1.35,-1.35zM50.6,141.8l1.35,1.35l-1.35,1.35l-1.35,-1.35zM51.0,145.6l1.35,1.35l-1.35,1.35l-1.35,-1.35zM48.5,146.8l1.35,1.35l-1.35,1.35l-1.35,-1.35zM58.9,143.1l1.35,1.35l-1.35,1.35l-1.35,-1.35zM61.0,141.8l1.35,1.35l-1.35,1.35l-1.35,-1.35zM61.4,144.3l1.35,1.35l-1.35,1.35l-1.35,-1.35zM61.9,140.6l1.35,1.35l-1.35,1.35l-1.35,-1.35zM33.2,146.4l1.35,1.35l-1.35,1.35l-1.35,-1.35zM32.7,150.1l1.35,1.35l-1.35,1.35l-1.35,-1.35zM31.1,152.6l1.35,1.35l-1.35,1.35l-1.35,-1.35zM37.7,151.6l1.35,1.35l-1.35,1.35l-1.35,-1.35zM42.7,148.0l1.35,1.35l-1.35,1.35l-1.35,-1.35zM41.9,154.3l1.35,1.35l-1.35,1.35l-1.35,-1.35zM51.0,148.9l1.35,1.35l-1.35,1.35l-1.35,-1.35zM51.5,152.6l1.35,1.35l-1.35,1.35l-1.35,-1.35zM56.3,152.2l1.35,1.35l-1.35,1.35l-1.35,-1.35zM50.6,147.2l1.35,1.35l-1.35,1.35l-1.35,-1.35zM28.2,157.2l1.35,1.35l-1.35,1.35l-1.35,-1.35zM28.6,158.9l1.35,1.35l-1.35,1.35l-1.35,-1.35zM33.2,158.9l1.35,1.35l-1.35,1.35l-1.35,-1.35zM34.4,159.7l1.35,1.35l-1.35,1.35l-1.35,-1.35zM36.5,160.1l1.35,1.35l-1.35,1.35l-1.35,-1.35zM44.0,158.3l1.35,1.35l-1.35,1.35l-1.35,-1.35zM50.6,159.7l1.35,1.35l-1.35,1.35l-1.35,-1.35zM52.7,161.4l1.35,1.35l-1.35,1.35l-1.35,-1.35zM54.4,161.8l1.35,1.35l-1.35,1.35l-1.35,-1.35zM60.6,156.8l1.35,1.35l-1.35,1.35l-1.35,-1.35zM61.9,159.3l1.35,1.35l-1.35,1.35l-1.35,-1.35zM62.7,162.2l1.35,1.35l-1.35,1.35l-1.35,-1.35zM36.9,162.2l1.35,1.35l-1.35,1.35l-1.35,-1.35zM44.4,162.2l1.35,1.35l-1.35,1.35l-1.35,-1.35zM31.9,163.9l1.35,1.35l-1.35,1.35l-1.35,-1.35zM34.0,164.7l1.35,1.35l-1.35,1.35l-1.35,-1.35zM36.5,164.3l1.35,1.35l-1.35,1.35l-1.35,-1.35zM42.3,164.3l1.35,1.35l-1.35,1.35l-1.35,-1.35zM54.0,165.1l1.35,1.35l-1.35,1.35l-1.35,-1.35zM60.2,165.5l1.35,1.35l-1.35,1.35l-1.35,-1.35zM32.3,167.2l1.35,1.35l-1.35,1.35l-1.35,-1.35zM31.9,169.3l1.35,1.35l-1.35,1.35l-1.35,-1.35zM31.5,170.9l1.35,1.35l-1.35,1.35l-1.35,-1.35zM34.4,168.8l1.35,1.35l-1.35,1.35l-1.35,-1.35zM36.5,169.7l1.35,1.35l-1.35,1.35l-1.35,-1.35zM40.2,168.8l1.35,1.35l-1.35,1.35l-1.35,-1.35zM41.9,167.6l1.35,1.35l-1.35,1.35l-1.35,-1.35zM42.7,169.7l1.35,1.35l-1.35,1.35l-1.35,-1.35zM44.0,170.5l1.35,1.35l-1.35,1.35l-1.35,-1.35zM45.6,170.1l1.35,1.35l-1.35,1.35l-1.35,-1.35zM49.0,168.8l1.35,1.35l-1.35,1.35l-1.35,-1.35zM51.0,167.6l1.35,1.35l-1.35,1.35l-1.35,-1.35zM52.7,168.4l1.35,1.35l-1.35,1.35l-1.35,-1.35zM53.5,170.1l1.35,1.35l-1.35,1.35l-1.35,-1.35zM55.6,169.7l1.35,1.35l-1.35,1.35l-1.35,-1.35zM57.3,170.5l1.35,1.35l-1.35,1.35l-1.35,-1.35zM58.9,170.1l1.35,1.35l-1.35,1.35l-1.35,-1.35zM61.0,170.5l1.35,1.35l-1.35,1.35l-1.35,-1.35zM63.1,168.8l1.35,1.35l-1.35,1.35l-1.35,-1.35zM53.1,171.3l1.35,1.35l-1.35,1.35l-1.35,-1.35zM31.1,172.6l1.35,1.35l-1.35,1.35l-1.35,-1.35zM36.5,171.3l1.35,1.35l-1.35,1.35l-1.35,-1.35zM45.2,173.0l1.35,1.35l-1.35,1.35l-1.35,-1.35zM46.5,173.8l1.35,1.35l-1.35,1.35l-1.35,-1.35zM47.7,173.4l1.35,1.35l-1.35,1.35l-1.35,-1.35zM49.0,174.3l1.35,1.35l-1.35,1.35l-1.35,-1.35zM50.6,175.1l1.35,1.35l-1.35,1.35l-1.35,-1.35zM63.1,172.6l1.35,1.35l-1.35,1.35l-1.35,-1.35zM63.1,174.7l1.35,1.35l-1.35,1.35l-1.35,-1.35zM53.5,177.6l1.35,1.35l-1.35,1.35l-1.35,-1.35zM27.7,179.2l1.35,1.35l-1.35,1.35l-1.35,-1.35zM32.7,178.6l1.35,1.35l-1.35,1.35l-1.35,-1.35zM37.3,178.4l1.35,1.35l-1.35,1.35l-1.35,-1.35zM39.0,179.2l1.35,1.35l-1.35,1.35l-1.35,-1.35zM41.1,178.8l1.35,1.35l-1.35,1.35l-1.35,-1.35zM51.0,178.4l1.35,1.35l-1.35,1.35l-1.35,-1.35zM35.6,180.5l1.35,1.35l-1.35,1.35l-1.35,-1.35zM36.9,181.3l1.35,1.35l-1.35,1.35l-1.35,-1.35zM38.1,180.5l1.35,1.35l-1.35,1.35l-1.35,-1.35zM39.4,181.3l1.35,1.35l-1.35,1.35l-1.35,-1.35zM40.6,180.5l1.35,1.35l-1.35,1.35l-1.35,-1.35zM36.5,182.6l1.35,1.35l-1.35,1.35l-1.35,-1.35zM38.6,183.0l1.35,1.35l-1.35,1.35l-1.35,-1.35zM40.2,182.6l1.35,1.35l-1.35,1.35l-1.35,-1.35zM41.1,181.7l1.35,1.35l-1.35,1.35l-1.35,-1.35zM51.0,180.5l1.35,1.35l-1.35,1.35l-1.35,-1.35zM51.9,182.2l1.35,1.35l-1.35,1.35l-1.35,-1.35zM50.6,183.8l1.35,1.35l-1.35,1.35l-1.35,-1.35zM52.7,183.4l1.35,1.35l-1.35,1.35l-1.35,-1.35zM55.6,183.4l1.35,1.35l-1.35,1.35l-1.35,-1.35zM51.5,185.1l1.35,1.35l-1.35,1.35l-1.35,-1.35zM58.9,185.5l1.35,1.35l-1.35,1.35l-1.35,-1.35zM78.7,142.4l1.35,1.35l-1.35,1.35l-1.35,-1.35zM80.6,143.9l1.35,1.35l-1.35,1.35l-1.35,-1.35zM82.2,144.9l1.35,1.35l-1.35,1.35l-1.35,-1.35zM84.3,146.1l1.35,1.35l-1.35,1.35l-1.35,-1.35zM90.5,142.4l1.35,1.35l-1.35,1.35l-1.35,-1.35zM91.2,145.8l1.35,1.35l-1.35,1.35l-1.35,-1.35zM97.8,142.0l1.35,1.35l-1.35,1.35l-1.35,-1.35zM105.5,146.1l1.35,1.35l-1.35,1.35l-1.35,-1.35zM70.6,146.1l1.35,1.35l-1.35,1.35l-1.35,-1.35zM73.7,147.4l1.35,1.35l-1.35,1.35l-1.35,-1.35zM68.7,150.7l1.35,1.35l-1.35,1.35l-1.35,-1.35zM71.8,152.6l1.35,1.35l-1.35,1.35l-1.35,-1.35zM73.1,153.2l1.35,1.35l-1.35,1.35l-1.35,-1.35zM79.3,153.6l1.35,1.35l-1.35,1.35l-1.35,-1.35zM88.9,150.1l1.35,1.35l-1.35,1.35l-1.35,-1.35zM97.4,149.9l1.35,1.35l-1.35,1.35l-1.35,-1.35zM105.3,152.4l1.35,1.35l-1.35,1.35l-1.35,-1.35zM90.5,157.6l1.35,1.35l-1.35,1.35l-1.35,-1.35zM93.0,157.4l1.35,1.35l-1.35,1.35l-1.35,-1.35zM93.7,158.8l1.35,1.35l-1.35,1.35l-1.35,-1.35zM90.5,160.1l1.35,1.35l-1.35,1.35l-1.35,-1.35zM93.7,161.1l1.35,1.35l-1.35,1.35l-1.35,-1.35zM99.0,156.4l1.35,1.35l-1.35,1.35l-1.35,-1.35zM71.0,161.6l1.35,1.35l-1.35,1.35l-1.35,-1.35zM76.8,161.6l1.35,1.35l-1.35,1.35l-1.35,-1.35zM80.0,163.2l1.35,1.35l-1.35,1.35l-1.35,-1.35zM82.4,164.5l1.35,1.35l-1.35,1.35l-1.35,-1.35zM81.8,167.0l1.35,1.35l-1.35,1.35l-1.35,-1.35zM88.7,163.6l1.35,1.35l-1.35,1.35l-1.35,-1.35zM93.7,163.8l1.35,1.35l-1.35,1.35l-1.35,-1.35zM92.7,165.7l1.35,1.35l-1.35,1.35l-1.35,-1.35zM69.0,167.6l1.35,1.35l-1.35,1.35l-1.35,-1.35zM70.0,170.3l1.35,1.35l-1.35,1.35l-1.35,-1.35zM86.8,167.6l1.35,1.35l-1.35,1.35l-1.35,-1.35zM86.2,171.1l1.35,1.35l-1.35,1.35l-1.35,-1.35zM88.1,171.1l1.35,1.35l-1.35,1.35l-1.35,-1.35zM100.5,167.8l1.35,1.35l-1.35,1.35l-1.35,-1.35zM104.6,168.2l1.35,1.35l-1.35,1.35l-1.35,-1.35zM104.9,170.3l1.35,1.35l-1.35,1.35l-1.35,-1.35zM69.0,175.1l1.35,1.35l-1.35,1.35l-1.35,-1.35zM70.6,176.6l1.35,1.35l-1.35,1.35l-1.35,-1.35zM98.0,172.8l1.35,1.35l-1.35,1.35l-1.35,-1.35zM67.5,178.8l1.35,1.35l-1.35,1.35l-1.35,-1.35zM74.3,179.4l1.35,1.35l-1.35,1.35l-1.35,-1.35zM78.1,178.5l1.35,1.35l-1.35,1.35l-1.35,-1.35zM80.6,176.6l1.35,1.35l-1.35,1.35l-1.35,-1.35zM93.7,178.2l1.35,1.35l-1.35,1.35l-1.35,-1.35zM98.0,178.5l1.35,1.35l-1.35,1.35l-1.35,-1.35zM77.5,182.3l1.35,1.35l-1.35,1.35l-1.35,-1.35zM83.7,181.5l1.35,1.35l-1.35,1.35l-1.35,-1.35zM85.6,181.3l1.35,1.35l-1.35,1.35l-1.35,-1.35zM81.8,183.2l1.35,1.35l-1.35,1.35l-1.35,-1.35zM80.6,184.0l1.35,1.35l-1.35,1.35l-1.35,-1.35zM97.4,182.5l1.35,1.35l-1.35,1.35l-1.35,-1.35zM92.2,184.4l1.35,1.35l-1.35,1.35l-1.35,-1.35zM99.9,184.4l1.35,1.35l-1.35,1.35l-1.35,-1.35zM104.9,185.0l1.35,1.35l-1.35,1.35l-1.35,-1.35zM76.2,185.0l1.35,1.35l-1.35,1.35l-1.35,-1.35zM208.3,191.5l1.35,1.35l-1.35,1.35l-1.35,-1.35zM206.3,193.0l1.35,1.35l-1.35,1.35l-1.35,-1.35zM193.3,194.6l1.35,1.35l-1.35,1.35l-1.35,-1.35zM201.4,195.1l1.35,1.35l-1.35,1.35l-1.35,-1.35zM215.6,195.3l1.35,1.35l-1.35,1.35l-1.35,-1.35zM220.6,195.1l1.35,1.35l-1.35,1.35l-1.35,-1.35zM226.7,190.8l1.35,1.35l-1.35,1.35l-1.35,-1.35zM226.7,192.5l1.35,1.35l-1.35,1.35l-1.35,-1.35zM231.5,191.5l1.35,1.35l-1.35,1.35l-1.35,-1.35zM231.2,194.9l1.35,1.35l-1.35,1.35l-1.35,-1.35zM204.7,197.0l1.35,1.35l-1.35,1.35l-1.35,-1.35zM226.7,197.2l1.35,1.35l-1.35,1.35l-1.35,-1.35zM235.4,196.7l1.35,1.35l-1.35,1.35l-1.35,-1.35zM193.3,198.8l1.35,1.35l-1.35,1.35l-1.35,-1.35zM193.5,200.3l1.35,1.35l-1.35,1.35l-1.35,-1.35zM196.4,200.3l1.35,1.35l-1.35,1.35l-1.35,-1.35zM222.4,199.8l1.35,1.35l-1.35,1.35l-1.35,-1.35zM220.8,201.4l1.35,1.35l-1.35,1.35l-1.35,-1.35zM231.2,200.8l1.35,1.35l-1.35,1.35l-1.35,-1.35zM186.5,199.3l1.35,1.35l-1.35,1.35l-1.35,-1.35zM206.3,202.9l1.35,1.35l-1.35,1.35l-1.35,-1.35zM210.9,203.2l1.35,1.35l-1.35,1.35l-1.35,-1.35zM215.6,202.9l1.35,1.35l-1.35,1.35l-1.35,-1.35zM188.6,204.5l1.35,1.35l-1.35,1.35l-1.35,-1.35zM188.6,206.0l1.35,1.35l-1.35,1.35l-1.35,-1.35zM188.6,208.1l1.35,1.35l-1.35,1.35l-1.35,-1.35zM204.7,205.3l1.35,1.35l-1.35,1.35l-1.35,-1.35zM226.7,205.0l1.35,1.35l-1.35,1.35l-1.35,-1.35zM226.7,206.8l1.35,1.35l-1.35,1.35l-1.35,-1.35zM232.3,206.6l1.35,1.35l-1.35,1.35l-1.35,-1.35zM235.4,206.0l1.35,1.35l-1.35,1.35l-1.35,-1.35zM193.5,206.6l1.35,1.35l-1.35,1.35l-1.35,-1.35zM215.1,207.6l1.35,1.35l-1.35,1.35l-1.35,-1.35zM205.2,208.6l1.35,1.35l-1.35,1.35l-1.35,-1.35zM205.8,210.2l1.35,1.35l-1.35,1.35l-1.35,-1.35zM200.0,209.9l1.35,1.35l-1.35,1.35l-1.35,-1.35zM196.4,210.7l1.35,1.35l-1.35,1.35l-1.35,-1.35zM219.3,209.2l1.35,1.35l-1.35,1.35l-1.35,-1.35zM229.1,209.9l1.35,1.35l-1.35,1.35l-1.35,-1.35zM226.7,210.7l1.35,1.35l-1.35,1.35l-1.35,-1.35zM205.2,211.8l1.35,1.35l-1.35,1.35l-1.35,-1.35zM199.0,213.3l1.35,1.35l-1.35,1.35l-1.35,-1.35zM216.1,212.8l1.35,1.35l-1.35,1.35l-1.35,-1.35zM216.1,214.4l1.35,1.35l-1.35,1.35l-1.35,-1.35zM200.6,214.9l1.35,1.35l-1.35,1.35l-1.35,-1.35zM201.6,216.4l1.35,1.35l-1.35,1.35l-1.35,-1.35zM209.1,215.4l1.35,1.35l-1.35,1.35l-1.35,-1.35zM194.1,216.7l1.35,1.35l-1.35,1.35l-1.35,-1.35zM214.6,216.4l1.35,1.35l-1.35,1.35l-1.35,-1.35zM186.5,217.5l1.35,1.35l-1.35,1.35l-1.35,-1.35zM202.6,218.5l1.35,1.35l-1.35,1.35l-1.35,-1.35zM208.3,218.5l1.35,1.35l-1.35,1.35l-1.35,-1.35zM214.6,219.0l1.35,1.35l-1.35,1.35l-1.35,-1.35zM217.7,219.0l1.35,1.35l-1.35,1.35l-1.35,-1.35zM225.5,219.2l1.35,1.35l-1.35,1.35l-1.35,-1.35zM226.7,219.2l1.35,1.35l-1.35,1.35l-1.35,-1.35zM234.3,219.6l1.35,1.35l-1.35,1.35l-1.35,-1.35zM190.7,220.3l1.35,1.35l-1.35,1.35l-1.35,-1.35zM196.4,220.9l1.35,1.35l-1.35,1.35l-1.35,-1.35zM201.6,221.1l1.35,1.35l-1.35,1.35l-1.35,-1.35zM205.2,221.3l1.35,1.35l-1.35,1.35l-1.35,-1.35zM207.8,220.6l1.35,1.35l-1.35,1.35l-1.35,-1.35zM186.5,220.6l1.35,1.35l-1.35,1.35l-1.35,-1.35zM234.3,222.2l1.35,1.35l-1.35,1.35l-1.35,-1.35zM193.5,222.7l1.35,1.35l-1.35,1.35l-1.35,-1.35zM200.0,223.2l1.35,1.35l-1.35,1.35l-1.35,-1.35zM190.7,224.2l1.35,1.35l-1.35,1.35l-1.35,-1.35zM193.5,224.2l1.35,1.35l-1.35,1.35l-1.35,-1.35zM207.8,223.7l1.35,1.35l-1.35,1.35l-1.35,-1.35zM209.4,224.7l1.35,1.35l-1.35,1.35l-1.35,-1.35zM217.7,223.7l1.35,1.35l-1.35,1.35l-1.35,-1.35zM217.7,225.3l1.35,1.35l-1.35,1.35l-1.35,-1.35zM225.0,225.3l1.35,1.35l-1.35,1.35l-1.35,-1.35zM186.5,224.7l1.35,1.35l-1.35,1.35l-1.35,-1.35zM196.9,226.3l1.35,1.35l-1.35,1.35l-1.35,-1.35zM197.4,227.6l1.35,1.35l-1.35,1.35l-1.35,-1.35zM193.5,226.3l1.35,1.35l-1.35,1.35l-1.35,-1.35zM207.8,226.3l1.35,1.35l-1.35,1.35l-1.35,-1.35zM212.8,226.3l1.35,1.35l-1.35,1.35l-1.35,-1.35zM217.7,226.8l1.35,1.35l-1.35,1.35l-1.35,-1.35zM238.0,189.7l1.35,1.35l-1.35,1.35l-1.35,-1.35zM249.1,188.7l1.35,1.35l-1.35,1.35l-1.35,-1.35zM244.5,192.0l1.35,1.35l-1.35,1.35l-1.35,-1.35zM253.5,193.6l1.35,1.35l-1.35,1.35l-1.35,-1.35zM259.8,192.8l1.35,1.35l-1.35,1.35l-1.35,-1.35zM259.8,194.9l1.35,1.35l-1.35,1.35l-1.35,-1.35zM249.1,194.6l1.35,1.35l-1.35,1.35l-1.35,-1.35zM249.1,196.2l1.35,1.35l-1.35,1.35l-1.35,-1.35zM271.2,186.3l1.35,1.35l-1.35,1.35l-1.35,-1.35zM271.2,187.3l1.35,1.35l-1.35,1.35l-1.35,-1.35zM271.2,196.7l1.35,1.35l-1.35,1.35l-1.35,-1.35zM238.0,199.3l1.35,1.35l-1.35,1.35l-1.35,-1.35zM238.0,200.8l1.35,1.35l-1.35,1.35l-1.35,-1.35zM249.1,198.8l1.35,1.35l-1.35,1.35l-1.35,-1.35zM249.1,200.3l1.35,1.35l-1.35,1.35l-1.35,-1.35zM250.9,201.4l1.35,1.35l-1.35,1.35l-1.35,-1.35zM271.2,199.3l1.35,1.35l-1.35,1.35l-1.35,-1.35zM271.2,201.2l1.35,1.35l-1.35,1.35l-1.35,-1.35zM240.0,202.4l1.35,1.35l-1.35,1.35l-1.35,-1.35zM247.3,202.6l1.35,1.35l-1.35,1.35l-1.35,-1.35zM259.8,202.6l1.35,1.35l-1.35,1.35l-1.35,-1.35zM236.9,205.0l1.35,1.35l-1.35,1.35l-1.35,-1.35zM238.0,206.4l1.35,1.35l-1.35,1.35l-1.35,-1.35zM242.1,206.6l1.35,1.35l-1.35,1.35l-1.35,-1.35zM243.7,207.1l1.35,1.35l-1.35,1.35l-1.35,-1.35zM245.2,207.1l1.35,1.35l-1.35,1.35l-1.35,-1.35zM246.8,207.6l1.35,1.35l-1.35,1.35l-1.35,-1.35zM248.3,206.4l1.35,1.35l-1.35,1.35l-1.35,-1.35zM255.6,207.4l1.35,1.35l-1.35,1.35l-1.35,-1.35zM259.8,206.0l1.35,1.35l-1.35,1.35l-1.35,-1.35zM260.3,207.6l1.35,1.35l-1.35,1.35l-1.35,-1.35zM261.9,207.1l1.35,1.35l-1.35,1.35l-1.35,-1.35zM238.0,211.5l1.35,1.35l-1.35,1.35l-1.35,-1.35zM246.8,210.2l1.35,1.35l-1.35,1.35l-1.35,-1.35zM248.3,211.8l1.35,1.35l-1.35,1.35l-1.35,-1.35zM254.1,212.8l1.35,1.35l-1.35,1.35l-1.35,-1.35zM261.9,211.2l1.35,1.35l-1.35,1.35l-1.35,-1.35zM265.0,213.3l1.35,1.35l-1.35,1.35l-1.35,-1.35zM242.1,215.1l1.35,1.35l-1.35,1.35l-1.35,-1.35zM248.9,213.8l1.35,1.35l-1.35,1.35l-1.35,-1.35zM249.1,215.7l1.35,1.35l-1.35,1.35l-1.35,-1.35zM259.8,215.1l1.35,1.35l-1.35,1.35l-1.35,-1.35zM248.3,219.6l1.35,1.35l-1.35,1.35l-1.35,-1.35zM248.0,221.6l1.35,1.35l-1.35,1.35l-1.35,-1.35zM259.1,219.2l1.35,1.35l-1.35,1.35l-1.35,-1.35zM244.2,223.2l1.35,1.35l-1.35,1.35l-1.35,-1.35zM261.3,223.4l1.35,1.35l-1.35,1.35l-1.35,-1.35zM259.1,225.3l1.35,1.35l-1.35,1.35l-1.35,-1.35zM259.1,226.8l1.35,1.35l-1.35,1.35l-1.35,-1.35zM264.7,224.7l1.35,1.35l-1.35,1.35l-1.35,-1.35zM28.2,19.5l1.35,1.35l-1.35,1.35l-1.35,-1.35zM27.0,12.0l1.35,1.35l-1.35,1.35l-1.35,-1.35zM27.0,24.2l1.35,1.35l-1.35,1.35l-1.35,-1.35zM27.0,32.4l1.35,1.35l-1.35,1.35l-1.35,-1.35zM27.7,20.5l1.35,1.35l-1.35,1.35l-1.35,-1.35zM27.1,23.4l1.35,1.35l-1.35,1.35l-1.35,-1.35zM27.0,12.7l1.35,1.35l-1.35,1.35l-1.35,-1.35zM27.0,15.2l1.35,1.35l-1.35,1.35l-1.35,-1.35zM27.0,25.3l1.35,1.35l-1.35,1.35l-1.35,-1.35zM30.8,24.3l1.35,1.35l-1.35,1.35l-1.35,-1.35zM30.8,10.9l1.35,1.35l-1.35,1.35l-1.35,-1.35zM30.8,15.2l1.35,1.35l-1.35,1.35l-1.35,-1.35zM29.1,16.9l1.35,1.35l-1.35,1.35l-1.35,-1.35zM27.4,23.9l1.35,1.35l-1.35,1.35l-1.35,-1.35zM29.2,12.2l1.35,1.35l-1.35,1.35l-1.35,-1.35zM29.2,19.0l1.35,1.35l-1.35,1.35l-1.35,-1.35zM29.1,23.8l1.35,1.35l-1.35,1.35l-1.35,-1.35zM29.4,26.7l1.35,1.35l-1.35,1.35l-1.35,-1.35zM29.4,20.3l1.35,1.35l-1.35,1.35l-1.35,-1.35zM28.1,32.7l1.35,1.35l-1.35,1.35l-1.35,-1.35zM28.1,18.7l1.35,1.35l-1.35,1.35l-1.35,-1.35zM28.1,15.9l1.35,1.35l-1.35,1.35l-1.35,-1.35zM27.6,11.7l1.35,1.35l-1.35,1.35l-1.35,-1.35zM28.1,31.5l1.35,1.35l-1.35,1.35l-1.35,-1.35zM28.1,27.9l1.35,1.35l-1.35,1.35l-1.35,-1.35zM28.0,12.6l1.35,1.35l-1.35,1.35l-1.35,-1.35zM28.6,13.4l1.35,1.35l-1.35,1.35l-1.35,-1.35zM28.6,21.9l1.35,1.35l-1.35,1.35l-1.35,-1.35zM27.0,28.8l1.35,1.35l-1.35,1.35l-1.35,-1.35zM29.2,18.2l1.35,1.35l-1.35,1.35l-1.35,-1.35zM29.2,18.4l1.35,1.35l-1.35,1.35l-1.35,-1.35zM28.9,11.4l1.35,1.35l-1.35,1.35l-1.35,-1.35zM28.9,12.0l1.35,1.35l-1.35,1.35l-1.35,-1.35zM27.9,11.2l1.35,1.35l-1.35,1.35l-1.35,-1.35zM29.7,34.5l1.35,1.35l-1.35,1.35l-1.35,-1.35zM29.7,30.2l1.35,1.35l-1.35,1.35l-1.35,-1.35zM29.7,16.8l1.35,1.35l-1.35,1.35l-1.35,-1.35zM28.4,10.2l1.35,1.35l-1.35,1.35l-1.35,-1.35zM28.4,21.2l1.35,1.35l-1.35,1.35l-1.35,-1.35zM27.5,22.0l1.35,1.35l-1.35,1.35l-1.35,-1.35zM27.7,12.9l1.35,1.35l-1.35,1.35l-1.35,-1.35zM27.7,15.8l1.35,1.35l-1.35,1.35l-1.35,-1.35zM28.4,11.7l1.35,1.35l-1.35,1.35l-1.35,-1.35zM28.4,20.9l1.35,1.35l-1.35,1.35l-1.35,-1.35zM29.1,30.1l1.35,1.35l-1.35,1.35l-1.35,-1.35zM30.4,27.3l1.35,1.35l-1.35,1.35l-1.35,-1.35zM30.4,34.3l1.35,1.35l-1.35,1.35l-1.35,-1.35zM29.7,33.6l1.35,1.35l-1.35,1.35l-1.35,-1.35zM29.7,13.4l1.35,1.35l-1.35,1.35l-1.35,-1.35zM27.5,26.1l1.35,1.35l-1.35,1.35l-1.35,-1.35zM26.9,14.2l1.35,1.35l-1.35,1.35l-1.35,-1.35zM26.9,16.7l1.35,1.35l-1.35,1.35l-1.35,-1.35zM26.9,13.3l1.35,1.35l-1.35,1.35l-1.35,-1.35zM29.0,23.8l1.35,1.35l-1.35,1.35l-1.35,-1.35zM29.0,33.5l1.35,1.35l-1.35,1.35l-1.35,-1.35zM29.0,26.9l1.35,1.35l-1.35,1.35l-1.35,-1.35zM29.0,26.0l1.35,1.35l-1.35,1.35l-1.35,-1.35zM29.0,28.1l1.35,1.35l-1.35,1.35l-1.35,-1.35zM29.0,21.1l1.35,1.35l-1.35,1.35l-1.35,-1.35zM30.5,19.5l1.35,1.35l-1.35,1.35l-1.35,-1.35zM30.5,19.6l1.35,1.35l-1.35,1.35l-1.35,-1.35zM30.5,12.2l1.35,1.35l-1.35,1.35l-1.35,-1.35zM29.5,14.4l1.35,1.35l-1.35,1.35l-1.35,-1.35zM30.9,13.7l1.35,1.35l-1.35,1.35l-1.35,-1.35zM30.9,18.2l1.35,1.35l-1.35,1.35l-1.35,-1.35zM27.0,23.8l1.35,1.35l-1.35,1.35l-1.35,-1.35zM29.1,25.0l1.35,1.35l-1.35,1.35l-1.35,-1.35zM29.1,11.4l1.35,1.35l-1.35,1.35l-1.35,-1.35zM27.7,13.4l1.35,1.35l-1.35,1.35l-1.35,-1.35zM27.7,16.0l1.35,1.35l-1.35,1.35l-1.35,-1.35zM28.3,21.5l1.35,1.35l-1.35,1.35l-1.35,-1.35zM28.3,12.5l1.35,1.35l-1.35,1.35l-1.35,-1.35zM28.8,21.7l1.35,1.35l-1.35,1.35l-1.35,-1.35zM28.8,17.4l1.35,1.35l-1.35,1.35l-1.35,-1.35zM27.4,28.2l1.35,1.35l-1.35,1.35l-1.35,-1.35zM34.4,22.0l1.35,1.35l-1.35,1.35l-1.35,-1.35zM32.4,18.6l1.35,1.35l-1.35,1.35l-1.35,-1.35zM32.4,25.8l1.35,1.35l-1.35,1.35l-1.35,-1.35zM32.4,30.8l1.35,1.35l-1.35,1.35l-1.35,-1.35zM36.3,32.2l1.35,1.35l-1.35,1.35l-1.35,-1.35zM36.3,29.6l1.35,1.35l-1.35,1.35l-1.35,-1.35zM35.9,22.1l1.35,1.35l-1.35,1.35l-1.35,-1.35zM35.9,30.6l1.35,1.35l-1.35,1.35l-1.35,-1.35zM33.5,22.4l1.35,1.35l-1.35,1.35l-1.35,-1.35zM36.5,24.7l1.35,1.35l-1.35,1.35l-1.35,-1.35zM36.5,24.1l1.35,1.35l-1.35,1.35l-1.35,-1.35zM36.5,28.4l1.35,1.35l-1.35,1.35l-1.35,-1.35zM36.7,15.0l1.35,1.35l-1.35,1.35l-1.35,-1.35zM34.4,32.4l1.35,1.35l-1.35,1.35l-1.35,-1.35zM36.5,16.4l1.35,1.35l-1.35,1.35l-1.35,-1.35zM36.5,25.9l1.35,1.35l-1.35,1.35l-1.35,-1.35zM37.7,28.4l1.35,1.35l-1.35,1.35l-1.35,-1.35zM37.7,26.6l1.35,1.35l-1.35,1.35l-1.35,-1.35zM33.4,12.4l1.35,1.35l-1.35,1.35l-1.35,-1.35zM33.4,12.9l1.35,1.35l-1.35,1.35l-1.35,-1.35zM34.3,15.1l1.35,1.35l-1.35,1.35l-1.35,-1.35zM34.3,24.4l1.35,1.35l-1.35,1.35l-1.35,-1.35zM37.3,21.2l1.35,1.35l-1.35,1.35l-1.35,-1.35zM35.6,29.0l1.35,1.35l-1.35,1.35l-1.35,-1.35zM31.8,27.9l1.35,1.35l-1.35,1.35l-1.35,-1.35zM31.8,27.2l1.35,1.35l-1.35,1.35l-1.35,-1.35zM34.3,20.2l1.35,1.35l-1.35,1.35l-1.35,-1.35zM35.5,28.3l1.35,1.35l-1.35,1.35l-1.35,-1.35zM37.8,20.8l1.35,1.35l-1.35,1.35l-1.35,-1.35zM37.8,27.0l1.35,1.35l-1.35,1.35l-1.35,-1.35zM31.6,14.4l1.35,1.35l-1.35,1.35l-1.35,-1.35zM31.9,23.6l1.35,1.35l-1.35,1.35l-1.35,-1.35zM34.3,24.1l1.35,1.35l-1.35,1.35l-1.35,-1.35zM35.2,25.1l1.35,1.35l-1.35,1.35l-1.35,-1.35zM35.2,18.4l1.35,1.35l-1.35,1.35l-1.35,-1.35zM34.8,11.1l1.35,1.35l-1.35,1.35l-1.35,-1.35zM36.6,22.2l1.35,1.35l-1.35,1.35l-1.35,-1.35zM37.5,32.4l1.35,1.35l-1.35,1.35l-1.35,-1.35zM37.5,14.9l1.35,1.35l-1.35,1.35l-1.35,-1.35zM37.1,16.2l1.35,1.35l-1.35,1.35l-1.35,-1.35zM33.1,27.5l1.35,1.35l-1.35,1.35l-1.35,-1.35zM33.3,19.9l1.35,1.35l-1.35,1.35l-1.35,-1.35zM33.3,13.5l1.35,1.35l-1.35,1.35l-1.35,-1.35zM33.3,30.7l1.35,1.35l-1.35,1.35l-1.35,-1.35zM33.5,25.2l1.35,1.35l-1.35,1.35l-1.35,-1.35zM33.5,28.6l1.35,1.35l-1.35,1.35l-1.35,-1.35zM34.6,13.5l1.35,1.35l-1.35,1.35l-1.35,-1.35zM34.6,14.0l1.35,1.35l-1.35,1.35l-1.35,-1.35zM34.6,21.9l1.35,1.35l-1.35,1.35l-1.35,-1.35zM37.1,24.0l1.35,1.35l-1.35,1.35l-1.35,-1.35zM36.4,14.4l1.35,1.35l-1.35,1.35l-1.35,-1.35zM34.3,22.9l1.35,1.35l-1.35,1.35l-1.35,-1.35zM42.6,18.8l1.35,1.35l-1.35,1.35l-1.35,-1.35zM42.6,17.8l1.35,1.35l-1.35,1.35l-1.35,-1.35zM42.6,24.0l1.35,1.35l-1.35,1.35l-1.35,-1.35zM50.4,12.9l1.35,1.35l-1.35,1.35l-1.35,-1.35zM41.9,18.3l1.35,1.35l-1.35,1.35l-1.35,-1.35zM45.9,17.0l1.35,1.35l-1.35,1.35l-1.35,-1.35zM46.6,20.4l1.35,1.35l-1.35,1.35l-1.35,-1.35zM46.6,11.8l1.35,1.35l-1.35,1.35l-1.35,-1.35zM46.6,13.5l1.35,1.35l-1.35,1.35l-1.35,-1.35zM45.1,18.3l1.35,1.35l-1.35,1.35l-1.35,-1.35zM45.1,12.9l1.35,1.35l-1.35,1.35l-1.35,-1.35zM45.3,27.0l1.35,1.35l-1.35,1.35l-1.35,-1.35zM45.3,26.4l1.35,1.35l-1.35,1.35l-1.35,-1.35zM40.8,10.5l1.35,1.35l-1.35,1.35l-1.35,-1.35zM40.8,10.2l1.35,1.35l-1.35,1.35l-1.35,-1.35zM44.2,21.7l1.35,1.35l-1.35,1.35l-1.35,-1.35zM44.0,21.7l1.35,1.35l-1.35,1.35l-1.35,-1.35zM49.0,27.4l1.35,1.35l-1.35,1.35l-1.35,-1.35zM47.0,10.7l1.35,1.35l-1.35,1.35l-1.35,-1.35zM47.0,26.2l1.35,1.35l-1.35,1.35l-1.35,-1.35zM51.5,23.3l1.35,1.35l-1.35,1.35l-1.35,-1.35zM39.3,11.1l1.35,1.35l-1.35,1.35l-1.35,-1.35zM39.3,21.7l1.35,1.35l-1.35,1.35l-1.35,-1.35zM41.1,28.5l1.35,1.35l-1.35,1.35l-1.35,-1.35zM41.1,16.1l1.35,1.35l-1.35,1.35l-1.35,-1.35zM43.9,14.3l1.35,1.35l-1.35,1.35l-1.35,-1.35zM43.9,22.8l1.35,1.35l-1.35,1.35l-1.35,-1.35zM38.3,17.3l1.35,1.35l-1.35,1.35l-1.35,-1.35zM38.3,22.4l1.35,1.35l-1.35,1.35l-1.35,-1.35zM38.3,15.7l1.35,1.35l-1.35,1.35l-1.35,-1.35zM45.2,18.4l1.35,1.35l-1.35,1.35l-1.35,-1.35zM45.2,9.0l1.35,1.35l-1.35,1.35l-1.35,-1.35zM51.8,28.1l1.35,1.35l-1.35,1.35l-1.35,-1.35zM39.5,13.4l1.35,1.35l-1.35,1.35l-1.35,-1.35zM39.5,26.7l1.35,1.35l-1.35,1.35l-1.35,-1.35zM40.5,24.9l1.35,1.35l-1.35,1.35l-1.35,-1.35zM49.9,16.2l1.35,1.35l-1.35,1.35l-1.35,-1.35zM49.9,18.9l1.35,1.35l-1.35,1.35l-1.35,-1.35zM45.2,22.4l1.35,1.35l-1.35,1.35l-1.35,-1.35zM45.2,9.5l1.35,1.35l-1.35,1.35l-1.35,-1.35zM38.8,16.6l1.35,1.35l-1.35,1.35l-1.35,-1.35zM39.0,21.0l1.35,1.35l-1.35,1.35l-1.35,-1.35zM49.2,20.4l1.35,1.35l-1.35,1.35l-1.35,-1.35zM41.1,25.8l1.35,1.35l-1.35,1.35l-1.35,-1.35zM41.1,17.2l1.35,1.35l-1.35,1.35l-1.35,-1.35zM42.7,16.4l1.35,1.35l-1.35,1.35l-1.35,-1.35zM42.7,26.9l1.35,1.35l-1.35,1.35l-1.35,-1.35zM42.7,20.7l1.35,1.35l-1.35,1.35l-1.35,-1.35zM38.6,27.4l1.35,1.35l-1.35,1.35l-1.35,-1.35zM51.6,8.7l1.35,1.35l-1.35,1.35l-1.35,-1.35zM51.6,11.9l1.35,1.35l-1.35,1.35l-1.35,-1.35zM42.4,18.8l1.35,1.35l-1.35,1.35l-1.35,-1.35zM42.4,12.0l1.35,1.35l-1.35,1.35l-1.35,-1.35zM44.2,13.3l1.35,1.35l-1.35,1.35l-1.35,-1.35zM36.4,37.0l1.35,1.35l-1.35,1.35l-1.35,-1.35zM36.4,36.8l1.35,1.35l-1.35,1.35l-1.35,-1.35zM34.0,41.8l1.35,1.35l-1.35,1.35l-1.35,-1.35zM32.0,37.7l1.35,1.35l-1.35,1.35l-1.35,-1.35zM32.0,44.8l1.35,1.35l-1.35,1.35l-1.35,-1.35zM33.5,42.1l1.35,1.35l-1.35,1.35l-1.35,-1.35zM33.5,45.5l1.35,1.35l-1.35,1.35l-1.35,-1.35zM37.8,43.5l1.35,1.35l-1.35,1.35l-1.35,-1.35zM37.8,46.5l1.35,1.35l-1.35,1.35l-1.35,-1.35zM32.7,40.7l1.35,1.35l-1.35,1.35l-1.35,-1.35zM32.8,45.0l1.35,1.35l-1.35,1.35l-1.35,-1.35zM30.1,41.0l1.35,1.35l-1.35,1.35l-1.35,-1.35zM30.1,37.2l1.35,1.35l-1.35,1.35l-1.35,-1.35zM35.3,45.4l1.35,1.35l-1.35,1.35l-1.35,-1.35zM48.7,40.3l1.35,1.35l-1.35,1.35l-1.35,-1.35zM48.7,42.2l1.35,1.35l-1.35,1.35l-1.35,-1.35zM38.7,31.7l1.35,1.35l-1.35,1.35l-1.35,-1.35zM45.1,35.8l1.35,1.35l-1.35,1.35l-1.35,-1.35zM45.1,35.1l1.35,1.35l-1.35,1.35l-1.35,-1.35zM53.8,33.4l1.35,1.35l-1.35,1.35l-1.35,-1.35zM53.8,47.5l1.35,1.35l-1.35,1.35l-1.35,-1.35zM43.0,32.2l1.35,1.35l-1.35,1.35l-1.35,-1.35zM43.0,35.2l1.35,1.35l-1.35,1.35l-1.35,-1.35zM39.3,38.5l1.35,1.35l-1.35,1.35l-1.35,-1.35zM39.3,32.6l1.35,1.35l-1.35,1.35l-1.35,-1.35zM46.1,30.4l1.35,1.35l-1.35,1.35l-1.35,-1.35zM51.1,36.4l1.35,1.35l-1.35,1.35l-1.35,-1.35zM38.7,34.5l1.35,1.35l-1.35,1.35l-1.35,-1.35zM48.1,40.1l1.35,1.35l-1.35,1.35l-1.35,-1.35zM46.5,41.5l1.35,1.35l-1.35,1.35l-1.35,-1.35zM29.1,39.7l1.35,1.35l-1.35,1.35l-1.35,-1.35zM29.1,38.9l1.35,1.35l-1.35,1.35l-1.35,-1.35zM29.1,47.5l1.35,1.35l-1.35,1.35l-1.35,-1.35zM27.4,43.0l1.35,1.35l-1.35,1.35l-1.35,-1.35zM27.4,35.2l1.35,1.35l-1.35,1.35l-1.35,-1.35zM57.0,34.6l1.35,1.35l-1.35,1.35l-1.35,-1.35zM57.0,38.3l1.35,1.35l-1.35,1.35l-1.35,-1.35zM57.0,41.1l1.35,1.35l-1.35,1.35l-1.35,-1.35zM52.8,39.0l1.35,1.35l-1.35,1.35l-1.35,-1.35zM52.8,32.5l1.35,1.35l-1.35,1.35l-1.35,-1.35zM52.8,41.1l1.35,1.35l-1.35,1.35l-1.35,-1.35zM52.1,40.6l1.35,1.35l-1.35,1.35l-1.35,-1.35zM52.1,37.5l1.35,1.35l-1.35,1.35l-1.35,-1.35zM45.6,52.4l1.35,1.35l-1.35,1.35l-1.35,-1.35zM27.6,90.9l1.35,1.35l-1.35,1.35l-1.35,-1.35zM27.6,65.2l1.35,1.35l-1.35,1.35l-1.35,-1.35zM35.7,76.3l1.35,1.35l-1.35,1.35l-1.35,-1.35zM39.1,70.2l1.35,1.35l-1.35,1.35l-1.35,-1.35zM26.9,81.6l1.35,1.35l-1.35,1.35l-1.35,-1.35zM36.7,52.7l1.35,1.35l-1.35,1.35l-1.35,-1.35zM52.0,59.7l1.35,1.35l-1.35,1.35l-1.35,-1.35zM52.0,51.9l1.35,1.35l-1.35,1.35l-1.35,-1.35zM49.3,58.8l1.35,1.35l-1.35,1.35l-1.35,-1.35zM53.3,70.4l1.35,1.35l-1.35,1.35l-1.35,-1.35zM41.2,134.7l1.35,1.35l-1.35,1.35l-1.35,-1.35zM41.2,107.3l1.35,1.35l-1.35,1.35l-1.35,-1.35zM28.7,98.1l1.35,1.35l-1.35,1.35l-1.35,-1.35zM32.5,123.3l1.35,1.35l-1.35,1.35l-1.35,-1.35zM32.5,125.1l1.35,1.35l-1.35,1.35l-1.35,-1.35zM50.0,95.2l1.35,1.35l-1.35,1.35l-1.35,-1.35zM29.2,137.4l1.35,1.35l-1.35,1.35l-1.35,-1.35zM29.2,99.0l1.35,1.35l-1.35,1.35l-1.35,-1.35zM35.1,147.0l1.35,1.35l-1.35,1.35l-1.35,-1.35zM35.1,152.0l1.35,1.35l-1.35,1.35l-1.35,-1.35zM44.2,157.5l1.35,1.35l-1.35,1.35l-1.35,-1.35zM44.2,162.5l1.35,1.35l-1.35,1.35l-1.35,-1.35zM47.3,162.2l1.35,1.35l-1.35,1.35l-1.35,-1.35zM47.3,161.2l1.35,1.35l-1.35,1.35l-1.35,-1.35zM27.6,164.3l1.35,1.35l-1.35,1.35l-1.35,-1.35zM27.6,173.8l1.35,1.35l-1.35,1.35l-1.35,-1.35zM63.8,171.2l1.35,1.35l-1.35,1.35l-1.35,-1.35zM63.8,182.8l1.35,1.35l-1.35,1.35l-1.35,-1.35zM61.4,175.4l1.35,1.35l-1.35,1.35l-1.35,-1.35zM32.2,168.4l1.35,1.35l-1.35,1.35l-1.35,-1.35zM32.2,170.6l1.35,1.35l-1.35,1.35l-1.35,-1.35zM32.2,175.9l1.35,1.35l-1.35,1.35l-1.35,-1.35zM50.4,182.2l1.35,1.35l-1.35,1.35l-1.35,-1.35zM50.4,178.1l1.35,1.35l-1.35,1.35l-1.35,-1.35zM35.6,171.3l1.35,1.35l-1.35,1.35l-1.35,-1.35zM35.6,166.1l1.35,1.35l-1.35,1.35l-1.35,-1.35zM66.7,158.5l1.35,1.35l-1.35,1.35l-1.35,-1.35zM66.7,172.6l1.35,1.35l-1.35,1.35l-1.35,-1.35zM65.2,154.6l1.35,1.35l-1.35,1.35l-1.35,-1.35zM65.2,177.6l1.35,1.35l-1.35,1.35l-1.35,-1.35zM64.0,177.6l1.35,1.35l-1.35,1.35l-1.35,-1.35zM64.0,145.9l1.35,1.35l-1.35,1.35l-1.35,-1.35zM45.3,203.7l1.35,1.35l-1.35,1.35l-1.35,-1.35zM32.6,186.7l1.35,1.35l-1.35,1.35l-1.35,-1.35zM32.6,193.3l1.35,1.35l-1.35,1.35l-1.35,-1.35zM44.2,192.7l1.35,1.35l-1.35,1.35l-1.35,-1.35zM35.4,202.8l1.35,1.35l-1.35,1.35l-1.35,-1.35zM35.4,191.1l1.35,1.35l-1.35,1.35l-1.35,-1.35zM27.8,198.3l1.35,1.35l-1.35,1.35l-1.35,-1.35zM27.8,188.4l1.35,1.35l-1.35,1.35l-1.35,-1.35zM46.2,195.8l1.35,1.35l-1.35,1.35l-1.35,-1.35zM46.2,189.2l1.35,1.35l-1.35,1.35l-1.35,-1.35zM34.3,203.4l1.35,1.35l-1.35,1.35l-1.35,-1.35zM34.3,201.9l1.35,1.35l-1.35,1.35l-1.35,-1.35zM39.4,196.6l1.35,1.35l-1.35,1.35l-1.35,-1.35zM39.4,200.0l1.35,1.35l-1.35,1.35l-1.35,-1.35zM39.4,186.4l1.35,1.35l-1.35,1.35l-1.35,-1.35zM41.4,197.9l1.35,1.35l-1.35,1.35l-1.35,-1.35zM41.4,188.2l1.35,1.35l-1.35,1.35l-1.35,-1.35zM44.2,186.3l1.35,1.35l-1.35,1.35l-1.35,-1.35zM44.2,204.3l1.35,1.35l-1.35,1.35l-1.35,-1.35zM29.3,193.8l1.35,1.35l-1.35,1.35l-1.35,-1.35zM29.3,191.1l1.35,1.35l-1.35,1.35l-1.35,-1.35zM31.9,193.6l1.35,1.35l-1.35,1.35l-1.35,-1.35zM31.9,190.2l1.35,1.35l-1.35,1.35l-1.35,-1.35zM36.5,187.8l1.35,1.35l-1.35,1.35l-1.35,-1.35zM36.5,198.5l1.35,1.35l-1.35,1.35l-1.35,-1.35zM28.3,203.8l1.35,1.35l-1.35,1.35l-1.35,-1.35zM28.3,195.5l1.35,1.35l-1.35,1.35l-1.35,-1.35zM28.3,189.8l1.35,1.35l-1.35,1.35l-1.35,-1.35zM44.9,194.1l1.35,1.35l-1.35,1.35l-1.35,-1.35zM44.9,196.5l1.35,1.35l-1.35,1.35l-1.35,-1.35zM31.7,192.3l1.35,1.35l-1.35,1.35l-1.35,-1.35zM28.6,192.9l1.35,1.35l-1.35,1.35l-1.35,-1.35zM43.0,203.4l1.35,1.35l-1.35,1.35l-1.35,-1.35zM41.8,193.2l1.35,1.35l-1.35,1.35l-1.35,-1.35zM41.8,200.6l1.35,1.35l-1.35,1.35l-1.35,-1.35zM31.0,192.2l1.35,1.35l-1.35,1.35l-1.35,-1.35zM31.0,186.6l1.35,1.35l-1.35,1.35l-1.35,-1.35zM32.4,187.9l1.35,1.35l-1.35,1.35l-1.35,-1.35zM32.4,195.6l1.35,1.35l-1.35,1.35l-1.35,-1.35zM39.4,187.2l1.35,1.35l-1.35,1.35l-1.35,-1.35zM44.7,193.5l1.35,1.35l-1.35,1.35l-1.35,-1.35zM44.7,194.4l1.35,1.35l-1.35,1.35l-1.35,-1.35zM45.9,187.9l1.35,1.35l-1.35,1.35l-1.35,-1.35zM35.3,205.1l1.35,1.35l-1.35,1.35l-1.35,-1.35zM35.3,195.3l1.35,1.35l-1.35,1.35l-1.35,-1.35zM28.3,202.8l1.35,1.35l-1.35,1.35l-1.35,-1.35zM28.3,205.2l1.35,1.35l-1.35,1.35l-1.35,-1.35zM28.3,190.4l1.35,1.35l-1.35,1.35l-1.35,-1.35zM29.0,188.5l1.35,1.35l-1.35,1.35l-1.35,-1.35zM46.2,204.6l1.35,1.35l-1.35,1.35l-1.35,-1.35zM41.2,187.1l1.35,1.35l-1.35,1.35l-1.35,-1.35zM41.2,201.2l1.35,1.35l-1.35,1.35l-1.35,-1.35zM26.8,190.1l1.35,1.35l-1.35,1.35l-1.35,-1.35zM45.2,205.0l1.35,1.35l-1.35,1.35l-1.35,-1.35zM45.2,198.1l1.35,1.35l-1.35,1.35l-1.35,-1.35zM37.4,199.6l1.35,1.35l-1.35,1.35l-1.35,-1.35zM29.0,211.9l1.35,1.35l-1.35,1.35l-1.35,-1.35zM45.7,213.7l1.35,1.35l-1.35,1.35l-1.35,-1.35zM31.3,205.8l1.35,1.35l-1.35,1.35l-1.35,-1.35zM31.3,216.7l1.35,1.35l-1.35,1.35l-1.35,-1.35zM31.3,226.1l1.35,1.35l-1.35,1.35l-1.35,-1.35zM32.4,218.9l1.35,1.35l-1.35,1.35l-1.35,-1.35zM32.4,223.8l1.35,1.35l-1.35,1.35l-1.35,-1.35zM36.3,216.9l1.35,1.35l-1.35,1.35l-1.35,-1.35zM27.4,220.1l1.35,1.35l-1.35,1.35l-1.35,-1.35zM27.4,212.0l1.35,1.35l-1.35,1.35l-1.35,-1.35zM27.2,223.8l1.35,1.35l-1.35,1.35l-1.35,-1.35zM27.2,219.0l1.35,1.35l-1.35,1.35l-1.35,-1.35zM28.4,219.4l1.35,1.35l-1.35,1.35l-1.35,-1.35zM45.3,215.8l1.35,1.35l-1.35,1.35l-1.35,-1.35zM40.7,213.1l1.35,1.35l-1.35,1.35l-1.35,-1.35zM40.7,213.8l1.35,1.35l-1.35,1.35l-1.35,-1.35zM26.9,220.8l1.35,1.35l-1.35,1.35l-1.35,-1.35zM26.9,216.0l1.35,1.35l-1.35,1.35l-1.35,-1.35zM30.9,212.1l1.35,1.35l-1.35,1.35l-1.35,-1.35zM43.2,215.2l1.35,1.35l-1.35,1.35l-1.35,-1.35zM32.1,208.0l1.35,1.35l-1.35,1.35l-1.35,-1.35zM32.1,218.5l1.35,1.35l-1.35,1.35l-1.35,-1.35zM39.0,215.6l1.35,1.35l-1.35,1.35l-1.35,-1.35zM45.0,225.1l1.35,1.35l-1.35,1.35l-1.35,-1.35zM29.7,206.9l1.35,1.35l-1.35,1.35l-1.35,-1.35zM29.7,206.2l1.35,1.35l-1.35,1.35l-1.35,-1.35zM38.7,206.8l1.35,1.35l-1.35,1.35l-1.35,-1.35zM38.7,207.0l1.35,1.35l-1.35,1.35l-1.35,-1.35zM34.7,220.7l1.35,1.35l-1.35,1.35l-1.35,-1.35zM34.7,226.1l1.35,1.35l-1.35,1.35l-1.35,-1.35zM45.4,209.6l1.35,1.35l-1.35,1.35l-1.35,-1.35zM45.4,219.1l1.35,1.35l-1.35,1.35l-1.35,-1.35zM37.3,206.4l1.35,1.35l-1.35,1.35l-1.35,-1.35zM37.3,219.3l1.35,1.35l-1.35,1.35l-1.35,-1.35zM34.4,225.8l1.35,1.35l-1.35,1.35l-1.35,-1.35zM34.4,214.8l1.35,1.35l-1.35,1.35l-1.35,-1.35zM29.0,211.5l1.35,1.35l-1.35,1.35l-1.35,-1.35zM33.8,217.2l1.35,1.35l-1.35,1.35l-1.35,-1.35zM42.0,213.0l1.35,1.35l-1.35,1.35l-1.35,-1.35zM42.0,222.5l1.35,1.35l-1.35,1.35l-1.35,-1.35zM43.2,207.5l1.35,1.35l-1.35,1.35l-1.35,-1.35zM43.2,220.1l1.35,1.35l-1.35,1.35l-1.35,-1.35zM30.7,224.5l1.35,1.35l-1.35,1.35l-1.35,-1.35zM30.7,209.7l1.35,1.35l-1.35,1.35l-1.35,-1.35zM30.7,213.2l1.35,1.35l-1.35,1.35l-1.35,-1.35zM44.7,218.6l1.35,1.35l-1.35,1.35l-1.35,-1.35zM31.8,206.6l1.35,1.35l-1.35,1.35l-1.35,-1.35zM31.8,206.5l1.35,1.35l-1.35,1.35l-1.35,-1.35zM28.1,211.0l1.35,1.35l-1.35,1.35l-1.35,-1.35zM41.7,212.7l1.35,1.35l-1.35,1.35l-1.35,-1.35zM41.7,211.3l1.35,1.35l-1.35,1.35l-1.35,-1.35zM41.7,225.3l1.35,1.35l-1.35,1.35l-1.35,-1.35zM39.1,221.0l1.35,1.35l-1.35,1.35l-1.35,-1.35zM39.1,219.8l1.35,1.35l-1.35,1.35l-1.35,-1.35zM45.3,205.8l1.35,1.35l-1.35,1.35l-1.35,-1.35zM45.3,221.2l1.35,1.35l-1.35,1.35l-1.35,-1.35zM45.1,206.2l1.35,1.35l-1.35,1.35l-1.35,-1.35zM31.5,220.3l1.35,1.35l-1.35,1.35l-1.35,-1.35zM56.1,201.5l1.35,1.35l-1.35,1.35l-1.35,-1.35zM56.1,204.0l1.35,1.35l-1.35,1.35l-1.35,-1.35zM63.1,204.3l1.35,1.35l-1.35,1.35l-1.35,-1.35zM50.5,202.1l1.35,1.35l-1.35,1.35l-1.35,-1.35zM50.5,201.1l1.35,1.35l-1.35,1.35l-1.35,-1.35zM58.9,202.9l1.35,1.35l-1.35,1.35l-1.35,-1.35zM58.9,194.7l1.35,1.35l-1.35,1.35l-1.35,-1.35zM62.5,187.0l1.35,1.35l-1.35,1.35l-1.35,-1.35zM62.5,189.4l1.35,1.35l-1.35,1.35l-1.35,-1.35zM62.5,200.7l1.35,1.35l-1.35,1.35l-1.35,-1.35zM51.7,198.6l1.35,1.35l-1.35,1.35l-1.35,-1.35zM56.4,192.0l1.35,1.35l-1.35,1.35l-1.35,-1.35zM56.4,205.3l1.35,1.35l-1.35,1.35l-1.35,-1.35zM56.4,203.4l1.35,1.35l-1.35,1.35l-1.35,-1.35zM66.6,198.1l1.35,1.35l-1.35,1.35l-1.35,-1.35zM66.6,189.6l1.35,1.35l-1.35,1.35l-1.35,-1.35zM55.2,188.9l1.35,1.35l-1.35,1.35l-1.35,-1.35zM55.2,188.1l1.35,1.35l-1.35,1.35l-1.35,-1.35zM56.0,200.6l1.35,1.35l-1.35,1.35l-1.35,-1.35zM63.7,201.3l1.35,1.35l-1.35,1.35l-1.35,-1.35zM52.7,196.9l1.35,1.35l-1.35,1.35l-1.35,-1.35zM52.7,193.0l1.35,1.35l-1.35,1.35l-1.35,-1.35zM61.6,194.3l1.35,1.35l-1.35,1.35l-1.35,-1.35zM50.5,188.5l1.35,1.35l-1.35,1.35l-1.35,-1.35zM64.5,189.2l1.35,1.35l-1.35,1.35l-1.35,-1.35zM64.5,186.7l1.35,1.35l-1.35,1.35l-1.35,-1.35zM64.5,190.5l1.35,1.35l-1.35,1.35l-1.35,-1.35zM51.7,190.1l1.35,1.35l-1.35,1.35l-1.35,-1.35zM51.7,201.8l1.35,1.35l-1.35,1.35l-1.35,-1.35zM51.7,198.7l1.35,1.35l-1.35,1.35l-1.35,-1.35zM66.6,185.4l1.35,1.35l-1.35,1.35l-1.35,-1.35zM64.5,202.5l1.35,1.35l-1.35,1.35l-1.35,-1.35zM65.1,203.2l1.35,1.35l-1.35,1.35l-1.35,-1.35zM51.5,189.2l1.35,1.35l-1.35,1.35l-1.35,-1.35zM66.3,189.3l1.35,1.35l-1.35,1.35l-1.35,-1.35zM66.3,186.9l1.35,1.35l-1.35,1.35l-1.35,-1.35zM66.3,195.8l1.35,1.35l-1.35,1.35l-1.35,-1.35zM50.4,190.7l1.35,1.35l-1.35,1.35l-1.35,-1.35zM50.4,201.2l1.35,1.35l-1.35,1.35l-1.35,-1.35zM50.4,204.6l1.35,1.35l-1.35,1.35l-1.35,-1.35zM48.9,199.8l1.35,1.35l-1.35,1.35l-1.35,-1.35zM48.9,192.5l1.35,1.35l-1.35,1.35l-1.35,-1.35zM48.9,186.1l1.35,1.35l-1.35,1.35l-1.35,-1.35zM53.6,189.5l1.35,1.35l-1.35,1.35l-1.35,-1.35zM51.9,200.3l1.35,1.35l-1.35,1.35l-1.35,-1.35zM51.9,204.0l1.35,1.35l-1.35,1.35l-1.35,-1.35zM51.9,202.0l1.35,1.35l-1.35,1.35l-1.35,-1.35zM63.2,199.2l1.35,1.35l-1.35,1.35l-1.35,-1.35zM63.2,189.1l1.35,1.35l-1.35,1.35l-1.35,-1.35zM53.0,186.0l1.35,1.35l-1.35,1.35l-1.35,-1.35zM56.7,186.6l1.35,1.35l-1.35,1.35l-1.35,-1.35zM56.7,187.4l1.35,1.35l-1.35,1.35l-1.35,-1.35zM54.7,188.5l1.35,1.35l-1.35,1.35l-1.35,-1.35zM54.7,196.2l1.35,1.35l-1.35,1.35l-1.35,-1.35zM54.7,198.7l1.35,1.35l-1.35,1.35l-1.35,-1.35zM54.8,193.7l1.35,1.35l-1.35,1.35l-1.35,-1.35zM54.8,191.1l1.35,1.35l-1.35,1.35l-1.35,-1.35zM53.0,191.7l1.35,1.35l-1.35,1.35l-1.35,-1.35zM58.1,193.8l1.35,1.35l-1.35,1.35l-1.35,-1.35zM58.1,185.7l1.35,1.35l-1.35,1.35l-1.35,-1.35zM62.1,198.5l1.35,1.35l-1.35,1.35l-1.35,-1.35zM62.1,193.3l1.35,1.35l-1.35,1.35l-1.35,-1.35zM54.9,194.2l1.35,1.35l-1.35,1.35l-1.35,-1.35zM49.9,202.1l1.35,1.35l-1.35,1.35l-1.35,-1.35zM54.9,194.8l1.35,1.35l-1.35,1.35l-1.35,-1.35zM54.9,188.7l1.35,1.35l-1.35,1.35l-1.35,-1.35zM47.1,188.3l1.35,1.35l-1.35,1.35l-1.35,-1.35zM47.1,201.8l1.35,1.35l-1.35,1.35l-1.35,-1.35zM47.1,193.4l1.35,1.35l-1.35,1.35l-1.35,-1.35zM58.3,200.4l1.35,1.35l-1.35,1.35l-1.35,-1.35zM58.3,188.9l1.35,1.35l-1.35,1.35l-1.35,-1.35zM53.8,196.0l1.35,1.35l-1.35,1.35l-1.35,-1.35zM65.3,193.2l1.35,1.35l-1.35,1.35l-1.35,-1.35zM61.9,191.5l1.35,1.35l-1.35,1.35l-1.35,-1.35zM63.5,205.3l1.35,1.35l-1.35,1.35l-1.35,-1.35zM56.5,197.7l1.35,1.35l-1.35,1.35l-1.35,-1.35zM59.5,203.8l1.35,1.35l-1.35,1.35l-1.35,-1.35zM59.2,198.4l1.35,1.35l-1.35,1.35l-1.35,-1.35zM63.9,193.6l1.35,1.35l-1.35,1.35l-1.35,-1.35zM63.9,202.6l1.35,1.35l-1.35,1.35l-1.35,-1.35zM63.4,217.3l1.35,1.35l-1.35,1.35l-1.35,-1.35zM47.6,208.9l1.35,1.35l-1.35,1.35l-1.35,-1.35zM47.6,213.1l1.35,1.35l-1.35,1.35l-1.35,-1.35zM47.6,208.8l1.35,1.35l-1.35,1.35l-1.35,-1.35zM66.2,206.6l1.35,1.35l-1.35,1.35l-1.35,-1.35zM58.0,219.4l1.35,1.35l-1.35,1.35l-1.35,-1.35zM53.3,218.0l1.35,1.35l-1.35,1.35l-1.35,-1.35zM53.3,217.0l1.35,1.35l-1.35,1.35l-1.35,-1.35zM59.3,219.0l1.35,1.35l-1.35,1.35l-1.35,-1.35zM59.3,212.0l1.35,1.35l-1.35,1.35l-1.35,-1.35zM51.8,219.2l1.35,1.35l-1.35,1.35l-1.35,-1.35zM51.8,214.9l1.35,1.35l-1.35,1.35l-1.35,-1.35zM55.6,205.8l1.35,1.35l-1.35,1.35l-1.35,-1.35zM66.5,210.5l1.35,1.35l-1.35,1.35l-1.35,-1.35zM66.5,221.3l1.35,1.35l-1.35,1.35l-1.35,-1.35zM62.4,222.8l1.35,1.35l-1.35,1.35l-1.35,-1.35zM62.4,222.3l1.35,1.35l-1.35,1.35l-1.35,-1.35zM54.8,208.4l1.35,1.35l-1.35,1.35l-1.35,-1.35zM55.4,222.1l1.35,1.35l-1.35,1.35l-1.35,-1.35zM56.9,206.6l1.35,1.35l-1.35,1.35l-1.35,-1.35zM49.4,221.6l1.35,1.35l-1.35,1.35l-1.35,-1.35zM49.4,216.2l1.35,1.35l-1.35,1.35l-1.35,-1.35zM47.9,224.0l1.35,1.35l-1.35,1.35l-1.35,-1.35zM47.9,219.1l1.35,1.35l-1.35,1.35l-1.35,-1.35zM47.9,221.7l1.35,1.35l-1.35,1.35l-1.35,-1.35zM47.3,226.1l1.35,1.35l-1.35,1.35l-1.35,-1.35zM61.4,209.7l1.35,1.35l-1.35,1.35l-1.35,-1.35zM66.4,211.6l1.35,1.35l-1.35,1.35l-1.35,-1.35zM66.4,222.3l1.35,1.35l-1.35,1.35l-1.35,-1.35zM62.7,207.1l1.35,1.35l-1.35,1.35l-1.35,-1.35zM53.8,209.0l1.35,1.35l-1.35,1.35l-1.35,-1.35zM53.8,224.0l1.35,1.35l-1.35,1.35l-1.35,-1.35zM52.3,208.7l1.35,1.35l-1.35,1.35l-1.35,-1.35zM52.3,216.0l1.35,1.35l-1.35,1.35l-1.35,-1.35zM65.2,217.8l1.35,1.35l-1.35,1.35l-1.35,-1.35zM59.1,212.3l1.35,1.35l-1.35,1.35l-1.35,-1.35zM47.5,214.0l1.35,1.35l-1.35,1.35l-1.35,-1.35zM59.5,219.6l1.35,1.35l-1.35,1.35l-1.35,-1.35zM59.5,224.0l1.35,1.35l-1.35,1.35l-1.35,-1.35zM50.2,208.1l1.35,1.35l-1.35,1.35l-1.35,-1.35zM50.2,216.6l1.35,1.35l-1.35,1.35l-1.35,-1.35zM59.5,225.5l1.35,1.35l-1.35,1.35l-1.35,-1.35zM59.5,215.0l1.35,1.35l-1.35,1.35l-1.35,-1.35zM57.2,210.9l1.35,1.35l-1.35,1.35l-1.35,-1.35zM57.5,220.8l1.35,1.35l-1.35,1.35l-1.35,-1.35zM57.5,213.3l1.35,1.35l-1.35,1.35l-1.35,-1.35zM54.3,217.5l1.35,1.35l-1.35,1.35l-1.35,-1.35zM54.3,213.1l1.35,1.35l-1.35,1.35l-1.35,-1.35zM62.1,210.4l1.35,1.35l-1.35,1.35l-1.35,-1.35zM62.1,218.3l1.35,1.35l-1.35,1.35l-1.35,-1.35zM66.0,222.5l1.35,1.35l-1.35,1.35l-1.35,-1.35zM66.0,210.9l1.35,1.35l-1.35,1.35l-1.35,-1.35zM59.6,224.7l1.35,1.35l-1.35,1.35l-1.35,-1.35zM59.6,224.0l1.35,1.35l-1.35,1.35l-1.35,-1.35zM59.6,220.7l1.35,1.35l-1.35,1.35l-1.35,-1.35zM61.7,208.8l1.35,1.35l-1.35,1.35l-1.35,-1.35zM59.1,214.3l1.35,1.35l-1.35,1.35l-1.35,-1.35zM59.1,213.2l1.35,1.35l-1.35,1.35l-1.35,-1.35zM47.8,210.4l1.35,1.35l-1.35,1.35l-1.35,-1.35zM47.8,219.1l1.35,1.35l-1.35,1.35l-1.35,-1.35zM47.2,217.3l1.35,1.35l-1.35,1.35l-1.35,-1.35zM52.9,213.0l1.35,1.35l-1.35,1.35l-1.35,-1.35zM52.9,210.3l1.35,1.35l-1.35,1.35l-1.35,-1.35zM52.9,217.7l1.35,1.35l-1.35,1.35l-1.35,-1.35zM58.6,213.2l1.35,1.35l-1.35,1.35l-1.35,-1.35zM63.4,208.5l1.35,1.35l-1.35,1.35l-1.35,-1.35zM65.5,220.2l1.35,1.35l-1.35,1.35l-1.35,-1.35zM55.8,218.8l1.35,1.35l-1.35,1.35l-1.35,-1.35zM64.2,213.9l1.35,1.35l-1.35,1.35l-1.35,-1.35zM64.2,211.1l1.35,1.35l-1.35,1.35l-1.35,-1.35zM47.0,224.0l1.35,1.35l-1.35,1.35l-1.35,-1.35zM47.0,217.9l1.35,1.35l-1.35,1.35l-1.35,-1.35zM47.0,217.6l1.35,1.35l-1.35,1.35l-1.35,-1.35zM58.8,220.7l1.35,1.35l-1.35,1.35l-1.35,-1.35zM58.8,210.8l1.35,1.35l-1.35,1.35l-1.35,-1.35zM58.8,224.2l1.35,1.35l-1.35,1.35l-1.35,-1.35zM47.7,206.3l1.35,1.35l-1.35,1.35l-1.35,-1.35zM47.7,209.5l1.35,1.35l-1.35,1.35l-1.35,-1.35zM47.7,209.0l1.35,1.35l-1.35,1.35l-1.35,-1.35zM65.0,206.0l1.35,1.35l-1.35,1.35l-1.35,-1.35zM57.8,208.7l1.35,1.35l-1.35,1.35l-1.35,-1.35zM50.8,218.9l1.35,1.35l-1.35,1.35l-1.35,-1.35zM50.8,219.0l1.35,1.35l-1.35,1.35l-1.35,-1.35zM50.8,214.2l1.35,1.35l-1.35,1.35l-1.35,-1.35zM79.1,191.7l1.35,1.35l-1.35,1.35l-1.35,-1.35zM79.1,191.5l1.35,1.35l-1.35,1.35l-1.35,-1.35zM79.1,186.3l1.35,1.35l-1.35,1.35l-1.35,-1.35zM84.6,199.9l1.35,1.35l-1.35,1.35l-1.35,-1.35zM84.6,185.5l1.35,1.35l-1.35,1.35l-1.35,-1.35zM83.7,187.0l1.35,1.35l-1.35,1.35l-1.35,-1.35zM83.7,198.7l1.35,1.35l-1.35,1.35l-1.35,-1.35zM70.3,190.7l1.35,1.35l-1.35,1.35l-1.35,-1.35zM79.7,192.2l1.35,1.35l-1.35,1.35l-1.35,-1.35zM81.8,199.9l1.35,1.35l-1.35,1.35l-1.35,-1.35zM81.8,190.8l1.35,1.35l-1.35,1.35l-1.35,-1.35zM77.9,199.3l1.35,1.35l-1.35,1.35l-1.35,-1.35zM77.9,204.1l1.35,1.35l-1.35,1.35l-1.35,-1.35zM86.2,198.4l1.35,1.35l-1.35,1.35l-1.35,-1.35zM86.2,205.0l1.35,1.35l-1.35,1.35l-1.35,-1.35zM71.1,185.7l1.35,1.35l-1.35,1.35l-1.35,-1.35zM71.1,190.7l1.35,1.35l-1.35,1.35l-1.35,-1.35zM71.1,190.2l1.35,1.35l-1.35,1.35l-1.35,-1.35zM81.7,200.6l1.35,1.35l-1.35,1.35l-1.35,-1.35zM73.3,192.1l1.35,1.35l-1.35,1.35l-1.35,-1.35zM73.3,190.2l1.35,1.35l-1.35,1.35l-1.35,-1.35zM85.0,194.9l1.35,1.35l-1.35,1.35l-1.35,-1.35zM85.0,202.5l1.35,1.35l-1.35,1.35l-1.35,-1.35zM85.0,199.6l1.35,1.35l-1.35,1.35l-1.35,-1.35zM84.0,204.8l1.35,1.35l-1.35,1.35l-1.35,-1.35zM84.0,190.1l1.35,1.35l-1.35,1.35l-1.35,-1.35zM84.5,193.3l1.35,1.35l-1.35,1.35l-1.35,-1.35zM78.5,203.9l1.35,1.35l-1.35,1.35l-1.35,-1.35zM78.5,188.3l1.35,1.35l-1.35,1.35l-1.35,-1.35zM78.5,185.9l1.35,1.35l-1.35,1.35l-1.35,-1.35zM68.9,192.4l1.35,1.35l-1.35,1.35l-1.35,-1.35zM69.6,186.0l1.35,1.35l-1.35,1.35l-1.35,-1.35zM69.6,199.6l1.35,1.35l-1.35,1.35l-1.35,-1.35zM81.5,202.8l1.35,1.35l-1.35,1.35l-1.35,-1.35zM82.0,202.0l1.35,1.35l-1.35,1.35l-1.35,-1.35zM83.2,203.3l1.35,1.35l-1.35,1.35l-1.35,-1.35zM81.9,187.5l1.35,1.35l-1.35,1.35l-1.35,-1.35zM81.9,189.5l1.35,1.35l-1.35,1.35l-1.35,-1.35zM69.0,204.7l1.35,1.35l-1.35,1.35l-1.35,-1.35zM85.0,202.2l1.35,1.35l-1.35,1.35l-1.35,-1.35zM79.4,195.1l1.35,1.35l-1.35,1.35l-1.35,-1.35zM79.4,188.1l1.35,1.35l-1.35,1.35l-1.35,-1.35zM82.6,191.4l1.35,1.35l-1.35,1.35l-1.35,-1.35zM73.5,185.8l1.35,1.35l-1.35,1.35l-1.35,-1.35zM73.5,190.6l1.35,1.35l-1.35,1.35l-1.35,-1.35zM72.5,203.9l1.35,1.35l-1.35,1.35l-1.35,-1.35zM72.5,201.0l1.35,1.35l-1.35,1.35l-1.35,-1.35zM78.8,202.7l1.35,1.35l-1.35,1.35l-1.35,-1.35zM78.8,198.0l1.35,1.35l-1.35,1.35l-1.35,-1.35zM67.4,186.0l1.35,1.35l-1.35,1.35l-1.35,-1.35zM67.4,195.9l1.35,1.35l-1.35,1.35l-1.35,-1.35zM68.8,199.7l1.35,1.35l-1.35,1.35l-1.35,-1.35zM68.8,196.3l1.35,1.35l-1.35,1.35l-1.35,-1.35zM71.1,197.1l1.35,1.35l-1.35,1.35l-1.35,-1.35zM72.5,185.4l1.35,1.35l-1.35,1.35l-1.35,-1.35zM72.5,189.5l1.35,1.35l-1.35,1.35l-1.35,-1.35zM82.0,205.8l1.35,1.35l-1.35,1.35l-1.35,-1.35zM76.6,219.9l1.35,1.35l-1.35,1.35l-1.35,-1.35zM76.6,222.6l1.35,1.35l-1.35,1.35l-1.35,-1.35zM86.1,212.8l1.35,1.35l-1.35,1.35l-1.35,-1.35zM86.1,222.7l1.35,1.35l-1.35,1.35l-1.35,-1.35zM86.1,211.1l1.35,1.35l-1.35,1.35l-1.35,-1.35zM85.7,222.4l1.35,1.35l-1.35,1.35l-1.35,-1.35zM85.7,224.9l1.35,1.35l-1.35,1.35l-1.35,-1.35zM71.4,208.0l1.35,1.35l-1.35,1.35l-1.35,-1.35zM79.5,215.8l1.35,1.35l-1.35,1.35l-1.35,-1.35zM86.6,221.8l1.35,1.35l-1.35,1.35l-1.35,-1.35zM86.6,218.6l1.35,1.35l-1.35,1.35l-1.35,-1.35zM86.6,213.0l1.35,1.35l-1.35,1.35l-1.35,-1.35zM74.8,223.9l1.35,1.35l-1.35,1.35l-1.35,-1.35zM74.8,221.0l1.35,1.35l-1.35,1.35l-1.35,-1.35zM75.2,213.3l1.35,1.35l-1.35,1.35l-1.35,-1.35zM72.9,224.1l1.35,1.35l-1.35,1.35l-1.35,-1.35zM72.9,216.0l1.35,1.35l-1.35,1.35l-1.35,-1.35zM74.4,225.0l1.35,1.35l-1.35,1.35l-1.35,-1.35zM69.3,221.1l1.35,1.35l-1.35,1.35l-1.35,-1.35zM69.3,221.1l1.35,1.35l-1.35,1.35l-1.35,-1.35zM69.3,218.9l1.35,1.35l-1.35,1.35l-1.35,-1.35zM73.8,216.4l1.35,1.35l-1.35,1.35l-1.35,-1.35zM73.8,223.5l1.35,1.35l-1.35,1.35l-1.35,-1.35zM75.8,220.9l1.35,1.35l-1.35,1.35l-1.35,-1.35zM75.8,209.2l1.35,1.35l-1.35,1.35l-1.35,-1.35zM75.8,214.7l1.35,1.35l-1.35,1.35l-1.35,-1.35zM82.3,210.5l1.35,1.35l-1.35,1.35l-1.35,-1.35zM82.3,212.6l1.35,1.35l-1.35,1.35l-1.35,-1.35zM82.3,218.9l1.35,1.35l-1.35,1.35l-1.35,-1.35zM80.7,209.7l1.35,1.35l-1.35,1.35l-1.35,-1.35zM80.7,211.9l1.35,1.35l-1.35,1.35l-1.35,-1.35zM80.7,220.1l1.35,1.35l-1.35,1.35l-1.35,-1.35zM83.7,220.5l1.35,1.35l-1.35,1.35l-1.35,-1.35zM86.3,218.0l1.35,1.35l-1.35,1.35l-1.35,-1.35zM86.3,212.9l1.35,1.35l-1.35,1.35l-1.35,-1.35zM71.5,211.0l1.35,1.35l-1.35,1.35l-1.35,-1.35zM85.9,209.1l1.35,1.35l-1.35,1.35l-1.35,-1.35zM80.0,213.6l1.35,1.35l-1.35,1.35l-1.35,-1.35zM86.5,220.7l1.35,1.35l-1.35,1.35l-1.35,-1.35zM86.5,214.6l1.35,1.35l-1.35,1.35l-1.35,-1.35zM70.7,211.5l1.35,1.35l-1.35,1.35l-1.35,-1.35zM84.5,206.4l1.35,1.35l-1.35,1.35l-1.35,-1.35zM84.5,213.9l1.35,1.35l-1.35,1.35l-1.35,-1.35zM82.6,216.0l1.35,1.35l-1.35,1.35l-1.35,-1.35zM79.4,206.2l1.35,1.35l-1.35,1.35l-1.35,-1.35zM79.4,211.0l1.35,1.35l-1.35,1.35l-1.35,-1.35zM81.6,220.9l1.35,1.35l-1.35,1.35l-1.35,-1.35zM85.0,220.1l1.35,1.35l-1.35,1.35l-1.35,-1.35zM85.0,217.7l1.35,1.35l-1.35,1.35l-1.35,-1.35zM79.7,219.4l1.35,1.35l-1.35,1.35l-1.35,-1.35zM79.8,223.1l1.35,1.35l-1.35,1.35l-1.35,-1.35zM79.8,219.6l1.35,1.35l-1.35,1.35l-1.35,-1.35zM79.8,218.8l1.35,1.35l-1.35,1.35l-1.35,-1.35zM75.9,211.1l1.35,1.35l-1.35,1.35l-1.35,-1.35zM75.9,220.0l1.35,1.35l-1.35,1.35l-1.35,-1.35zM84.7,221.7l1.35,1.35l-1.35,1.35l-1.35,-1.35zM81.1,210.9l1.35,1.35l-1.35,1.35l-1.35,-1.35zM75.3,206.2l1.35,1.35l-1.35,1.35l-1.35,-1.35zM75.3,223.3l1.35,1.35l-1.35,1.35l-1.35,-1.35zM77.2,224.0l1.35,1.35l-1.35,1.35l-1.35,-1.35zM73.4,213.7l1.35,1.35l-1.35,1.35l-1.35,-1.35zM76.6,206.5l1.35,1.35l-1.35,1.35l-1.35,-1.35zM77.7,220.4l1.35,1.35l-1.35,1.35l-1.35,-1.35zM85.8,216.3l1.35,1.35l-1.35,1.35l-1.35,-1.35zM68.8,215.1l1.35,1.35l-1.35,1.35l-1.35,-1.35zM68.8,209.9l1.35,1.35l-1.35,1.35l-1.35,-1.35zM68.8,215.5l1.35,1.35l-1.35,1.35l-1.35,-1.35zM67.1,216.4l1.35,1.35l-1.35,1.35l-1.35,-1.35zM67.1,214.1l1.35,1.35l-1.35,1.35l-1.35,-1.35zM85.8,226.0l1.35,1.35l-1.35,1.35l-1.35,-1.35zM70.5,221.3l1.35,1.35l-1.35,1.35l-1.35,-1.35zM70.5,208.2l1.35,1.35l-1.35,1.35l-1.35,-1.35zM70.5,225.8l1.35,1.35l-1.35,1.35l-1.35,-1.35zM73.9,210.9l1.35,1.35l-1.35,1.35l-1.35,-1.35zM74.4,206.0l1.35,1.35l-1.35,1.35l-1.35,-1.35zM95.2,198.2l1.35,1.35l-1.35,1.35l-1.35,-1.35zM95.2,199.1l1.35,1.35l-1.35,1.35l-1.35,-1.35zM98.4,189.9l1.35,1.35l-1.35,1.35l-1.35,-1.35zM101.6,205.2l1.35,1.35l-1.35,1.35l-1.35,-1.35zM101.6,205.6l1.35,1.35l-1.35,1.35l-1.35,-1.35zM101.6,205.0l1.35,1.35l-1.35,1.35l-1.35,-1.35zM96.0,188.0l1.35,1.35l-1.35,1.35l-1.35,-1.35zM102.3,194.9l1.35,1.35l-1.35,1.35l-1.35,-1.35zM98.0,202.0l1.35,1.35l-1.35,1.35l-1.35,-1.35zM89.7,194.9l1.35,1.35l-1.35,1.35l-1.35,-1.35zM89.7,191.4l1.35,1.35l-1.35,1.35l-1.35,-1.35zM97.8,201.3l1.35,1.35l-1.35,1.35l-1.35,-1.35zM96.2,190.8l1.35,1.35l-1.35,1.35l-1.35,-1.35zM94.3,205.4l1.35,1.35l-1.35,1.35l-1.35,-1.35zM94.3,199.2l1.35,1.35l-1.35,1.35l-1.35,-1.35zM96.4,192.7l1.35,1.35l-1.35,1.35l-1.35,-1.35zM96.4,198.7l1.35,1.35l-1.35,1.35l-1.35,-1.35zM93.2,194.1l1.35,1.35l-1.35,1.35l-1.35,-1.35zM93.2,198.4l1.35,1.35l-1.35,1.35l-1.35,-1.35zM100.0,188.5l1.35,1.35l-1.35,1.35l-1.35,-1.35zM100.0,191.5l1.35,1.35l-1.35,1.35l-1.35,-1.35zM94.5,202.2l1.35,1.35l-1.35,1.35l-1.35,-1.35zM104.9,196.2l1.35,1.35l-1.35,1.35l-1.35,-1.35zM93.7,185.7l1.35,1.35l-1.35,1.35l-1.35,-1.35zM93.7,185.6l1.35,1.35l-1.35,1.35l-1.35,-1.35zM93.7,204.8l1.35,1.35l-1.35,1.35l-1.35,-1.35zM99.9,197.8l1.35,1.35l-1.35,1.35l-1.35,-1.35zM99.9,197.2l1.35,1.35l-1.35,1.35l-1.35,-1.35zM103.9,201.2l1.35,1.35l-1.35,1.35l-1.35,-1.35zM93.7,189.6l1.35,1.35l-1.35,1.35l-1.35,-1.35zM94.8,188.8l1.35,1.35l-1.35,1.35l-1.35,-1.35zM94.8,203.5l1.35,1.35l-1.35,1.35l-1.35,-1.35zM94.8,197.8l1.35,1.35l-1.35,1.35l-1.35,-1.35zM102.4,201.4l1.35,1.35l-1.35,1.35l-1.35,-1.35zM102.4,202.5l1.35,1.35l-1.35,1.35l-1.35,-1.35zM102.4,189.4l1.35,1.35l-1.35,1.35l-1.35,-1.35zM100.7,187.0l1.35,1.35l-1.35,1.35l-1.35,-1.35zM100.7,202.5l1.35,1.35l-1.35,1.35l-1.35,-1.35zM100.7,199.0l1.35,1.35l-1.35,1.35l-1.35,-1.35zM89.1,190.7l1.35,1.35l-1.35,1.35l-1.35,-1.35zM91.5,195.0l1.35,1.35l-1.35,1.35l-1.35,-1.35zM97.9,194.9l1.35,1.35l-1.35,1.35l-1.35,-1.35zM97.9,188.3l1.35,1.35l-1.35,1.35l-1.35,-1.35zM96.6,188.7l1.35,1.35l-1.35,1.35l-1.35,-1.35zM96.6,197.6l1.35,1.35l-1.35,1.35l-1.35,-1.35zM101.5,202.5l1.35,1.35l-1.35,1.35l-1.35,-1.35zM96.2,195.5l1.35,1.35l-1.35,1.35l-1.35,-1.35zM96.2,191.4l1.35,1.35l-1.35,1.35l-1.35,-1.35zM96.2,194.9l1.35,1.35l-1.35,1.35l-1.35,-1.35zM95.3,189.0l1.35,1.35l-1.35,1.35l-1.35,-1.35zM94.0,185.8l1.35,1.35l-1.35,1.35l-1.35,-1.35zM87.7,201.8l1.35,1.35l-1.35,1.35l-1.35,-1.35zM88.7,215.6l1.35,1.35l-1.35,1.35l-1.35,-1.35zM88.7,224.1l1.35,1.35l-1.35,1.35l-1.35,-1.35zM87.5,218.5l1.35,1.35l-1.35,1.35l-1.35,-1.35zM87.5,212.7l1.35,1.35l-1.35,1.35l-1.35,-1.35zM104.0,212.7l1.35,1.35l-1.35,1.35l-1.35,-1.35zM104.0,221.6l1.35,1.35l-1.35,1.35l-1.35,-1.35zM97.9,211.5l1.35,1.35l-1.35,1.35l-1.35,-1.35zM93.6,217.1l1.35,1.35l-1.35,1.35l-1.35,-1.35zM93.6,222.6l1.35,1.35l-1.35,1.35l-1.35,-1.35zM92.7,214.0l1.35,1.35l-1.35,1.35l-1.35,-1.35zM92.7,216.0l1.35,1.35l-1.35,1.35l-1.35,-1.35zM92.2,212.8l1.35,1.35l-1.35,1.35l-1.35,-1.35zM92.2,209.9l1.35,1.35l-1.35,1.35l-1.35,-1.35zM92.2,215.8l1.35,1.35l-1.35,1.35l-1.35,-1.35zM89.2,212.2l1.35,1.35l-1.35,1.35l-1.35,-1.35zM92.8,225.6l1.35,1.35l-1.35,1.35l-1.35,-1.35zM92.8,207.5l1.35,1.35l-1.35,1.35l-1.35,-1.35zM92.8,226.1l1.35,1.35l-1.35,1.35l-1.35,-1.35zM94.8,223.8l1.35,1.35l-1.35,1.35l-1.35,-1.35zM94.8,216.9l1.35,1.35l-1.35,1.35l-1.35,-1.35zM94.8,206.8l1.35,1.35l-1.35,1.35l-1.35,-1.35zM92.8,206.7l1.35,1.35l-1.35,1.35l-1.35,-1.35zM103.2,218.2l1.35,1.35l-1.35,1.35l-1.35,-1.35zM103.2,219.2l1.35,1.35l-1.35,1.35l-1.35,-1.35zM102.6,218.2l1.35,1.35l-1.35,1.35l-1.35,-1.35zM102.6,218.3l1.35,1.35l-1.35,1.35l-1.35,-1.35zM102.6,218.5l1.35,1.35l-1.35,1.35l-1.35,-1.35zM100.7,223.6l1.35,1.35l-1.35,1.35l-1.35,-1.35zM100.7,207.4l1.35,1.35l-1.35,1.35l-1.35,-1.35zM100.7,206.6l1.35,1.35l-1.35,1.35l-1.35,-1.35zM99.5,207.8l1.35,1.35l-1.35,1.35l-1.35,-1.35zM90.4,214.4l1.35,1.35l-1.35,1.35l-1.35,-1.35zM88.8,213.3l1.35,1.35l-1.35,1.35l-1.35,-1.35zM103.3,217.2l1.35,1.35l-1.35,1.35l-1.35,-1.35zM103.3,211.0l1.35,1.35l-1.35,1.35l-1.35,-1.35zM92.8,206.4l1.35,1.35l-1.35,1.35l-1.35,-1.35zM92.8,206.2l1.35,1.35l-1.35,1.35l-1.35,-1.35zM98.1,224.8l1.35,1.35l-1.35,1.35l-1.35,-1.35zM98.1,206.9l1.35,1.35l-1.35,1.35l-1.35,-1.35zM98.1,217.3l1.35,1.35l-1.35,1.35l-1.35,-1.35zM87.6,221.5l1.35,1.35l-1.35,1.35l-1.35,-1.35zM95.2,214.9l1.35,1.35l-1.35,1.35l-1.35,-1.35zM95.2,206.0l1.35,1.35l-1.35,1.35l-1.35,-1.35zM94.5,226.0l1.35,1.35l-1.35,1.35l-1.35,-1.35zM94.5,219.2l1.35,1.35l-1.35,1.35l-1.35,-1.35zM94.5,208.9l1.35,1.35l-1.35,1.35l-1.35,-1.35zM102.2,207.8l1.35,1.35l-1.35,1.35l-1.35,-1.35zM102.2,218.9l1.35,1.35l-1.35,1.35l-1.35,-1.35zM102.2,210.1l1.35,1.35l-1.35,1.35l-1.35,-1.35zM89.8,214.5l1.35,1.35l-1.35,1.35l-1.35,-1.35zM87.0,225.9l1.35,1.35l-1.35,1.35l-1.35,-1.35zM104.0,223.5l1.35,1.35l-1.35,1.35l-1.35,-1.35zM89.4,211.4l1.35,1.35l-1.35,1.35l-1.35,-1.35zM98.2,220.7l1.35,1.35l-1.35,1.35l-1.35,-1.35zM98.2,209.6l1.35,1.35l-1.35,1.35l-1.35,-1.35zM87.8,220.6l1.35,1.35l-1.35,1.35l-1.35,-1.35zM88.5,220.2l1.35,1.35l-1.35,1.35l-1.35,-1.35zM88.5,215.1l1.35,1.35l-1.35,1.35l-1.35,-1.35zM88.5,224.8l1.35,1.35l-1.35,1.35l-1.35,-1.35zM91.9,220.4l1.35,1.35l-1.35,1.35l-1.35,-1.35zM87.0,223.8l1.35,1.35l-1.35,1.35l-1.35,-1.35zM100.5,207.4l1.35,1.35l-1.35,1.35l-1.35,-1.35zM100.5,212.1l1.35,1.35l-1.35,1.35l-1.35,-1.35zM100.5,220.6l1.35,1.35l-1.35,1.35l-1.35,-1.35zM90.1,218.2l1.35,1.35l-1.35,1.35l-1.35,-1.35zM90.1,212.2l1.35,1.35l-1.35,1.35l-1.35,-1.35zM105.8,215.3l1.35,1.35l-1.35,1.35l-1.35,-1.35zM105.8,209.1l1.35,1.35l-1.35,1.35l-1.35,-1.35zM106.1,213.2l1.35,1.35l-1.35,1.35l-1.35,-1.35zM99.7,215.5l1.35,1.35l-1.35,1.35l-1.35,-1.35zM99.7,221.6l1.35,1.35l-1.35,1.35l-1.35,-1.35zM95.9,221.8l1.35,1.35l-1.35,1.35l-1.35,-1.35zM95.9,217.3l1.35,1.35l-1.35,1.35l-1.35,-1.35zM92.6,218.4l1.35,1.35l-1.35,1.35l-1.35,-1.35zM99.8,212.5l1.35,1.35l-1.35,1.35l-1.35,-1.35zM99.8,218.1l1.35,1.35l-1.35,1.35l-1.35,-1.35zM182.4,228.6l1.35,1.35l-1.35,1.35l-1.35,-1.35zM75.9,230.1l1.35,1.35l-1.35,1.35l-1.35,-1.35zM75.9,227.1l1.35,1.35l-1.35,1.35l-1.35,-1.35zM88.5,228.6l1.35,1.35l-1.35,1.35l-1.35,-1.35zM88.5,229.7l1.35,1.35l-1.35,1.35l-1.35,-1.35zM155.4,228.9l1.35,1.35l-1.35,1.35l-1.35,-1.35zM155.4,227.4l1.35,1.35l-1.35,1.35l-1.35,-1.35zM69.5,228.5l1.35,1.35l-1.35,1.35l-1.35,-1.35zM156.7,227.3l1.35,1.35l-1.35,1.35l-1.35,-1.35zM49.2,226.7l1.35,1.35l-1.35,1.35l-1.35,-1.35zM49.2,230.1l1.35,1.35l-1.35,1.35l-1.35,-1.35zM49.2,229.3l1.35,1.35l-1.35,1.35l-1.35,-1.35zM114.0,227.5l1.35,1.35l-1.35,1.35l-1.35,-1.35zM114.0,226.5l1.35,1.35l-1.35,1.35l-1.35,-1.35zM114.9,227.0l1.35,1.35l-1.35,1.35l-1.35,-1.35zM114.9,229.2l1.35,1.35l-1.35,1.35l-1.35,-1.35zM175.1,227.4l1.35,1.35l-1.35,1.35l-1.35,-1.35zM36.0,228.0l1.35,1.35l-1.35,1.35l-1.35,-1.35zM36.0,227.0l1.35,1.35l-1.35,1.35l-1.35,-1.35zM67.4,229.3l1.35,1.35l-1.35,1.35l-1.35,-1.35zM100.0,228.3l1.35,1.35l-1.35,1.35l-1.35,-1.35zM83.3,227.1l1.35,1.35l-1.35,1.35l-1.35,-1.35zM119.1,229.7l1.35,1.35l-1.35,1.35l-1.35,-1.35zM119.1,228.2l1.35,1.35l-1.35,1.35l-1.35,-1.35zM102.7,227.0l1.35,1.35l-1.35,1.35l-1.35,-1.35zM102.7,227.0l1.35,1.35l-1.35,1.35l-1.35,-1.35zM102.7,226.5l1.35,1.35l-1.35,1.35l-1.35,-1.35zM155.1,227.6l1.35,1.35l-1.35,1.35l-1.35,-1.35zM155.1,228.4l1.35,1.35l-1.35,1.35l-1.35,-1.35zM90.9,229.6l1.35,1.35l-1.35,1.35l-1.35,-1.35zM90.9,227.1l1.35,1.35l-1.35,1.35l-1.35,-1.35zM90.9,229.8l1.35,1.35l-1.35,1.35l-1.35,-1.35zM105.3,227.6l1.35,1.35l-1.35,1.35l-1.35,-1.35zM100.6,226.8l1.35,1.35l-1.35,1.35l-1.35,-1.35zM121.9,227.3l1.35,1.35l-1.35,1.35l-1.35,-1.35zM121.9,228.6l1.35,1.35l-1.35,1.35l-1.35,-1.35zM41.8,230.1l1.35,1.35l-1.35,1.35l-1.35,-1.35zM164.7,228.5l1.35,1.35l-1.35,1.35l-1.35,-1.35zM164.7,227.0l1.35,1.35l-1.35,1.35l-1.35,-1.35zM174.1,227.9l1.35,1.35l-1.35,1.35l-1.35,-1.35zM125.4,202.9l1.35,1.35l-1.35,1.35l-1.35,-1.35zM125.4,206.0l1.35,1.35l-1.35,1.35l-1.35,-1.35zM125.4,190.8l1.35,1.35l-1.35,1.35l-1.35,-1.35zM107.3,206.6l1.35,1.35l-1.35,1.35l-1.35,-1.35zM114.1,186.4l1.35,1.35l-1.35,1.35l-1.35,-1.35zM117.6,195.8l1.35,1.35l-1.35,1.35l-1.35,-1.35zM117.6,203.4l1.35,1.35l-1.35,1.35l-1.35,-1.35zM124.4,199.0l1.35,1.35l-1.35,1.35l-1.35,-1.35zM124.4,205.1l1.35,1.35l-1.35,1.35l-1.35,-1.35zM124.4,200.5l1.35,1.35l-1.35,1.35l-1.35,-1.35zM108.3,197.4l1.35,1.35l-1.35,1.35l-1.35,-1.35zM108.3,199.1l1.35,1.35l-1.35,1.35l-1.35,-1.35zM125.6,193.8l1.35,1.35l-1.35,1.35l-1.35,-1.35zM125.6,194.9l1.35,1.35l-1.35,1.35l-1.35,-1.35zM125.6,188.8l1.35,1.35l-1.35,1.35l-1.35,-1.35zM125.8,189.0l1.35,1.35l-1.35,1.35l-1.35,-1.35zM125.3,186.6l1.35,1.35l-1.35,1.35l-1.35,-1.35zM125.3,197.2l1.35,1.35l-1.35,1.35l-1.35,-1.35zM107.1,190.9l1.35,1.35l-1.35,1.35l-1.35,-1.35zM116.8,186.5l1.35,1.35l-1.35,1.35l-1.35,-1.35zM116.8,188.4l1.35,1.35l-1.35,1.35l-1.35,-1.35zM121.6,199.8l1.35,1.35l-1.35,1.35l-1.35,-1.35zM112.5,194.8l1.35,1.35l-1.35,1.35l-1.35,-1.35zM112.5,199.3l1.35,1.35l-1.35,1.35l-1.35,-1.35zM112.5,195.4l1.35,1.35l-1.35,1.35l-1.35,-1.35zM113.9,188.0l1.35,1.35l-1.35,1.35l-1.35,-1.35zM113.9,195.7l1.35,1.35l-1.35,1.35l-1.35,-1.35zM109.9,202.6l1.35,1.35l-1.35,1.35l-1.35,-1.35zM124.8,195.4l1.35,1.35l-1.35,1.35l-1.35,-1.35zM124.8,188.7l1.35,1.35l-1.35,1.35l-1.35,-1.35zM123.2,226.7l1.35,1.35l-1.35,1.35l-1.35,-1.35zM123.8,223.4l1.35,1.35l-1.35,1.35l-1.35,-1.35zM125.7,224.8l1.35,1.35l-1.35,1.35l-1.35,-1.35zM125.7,220.2l1.35,1.35l-1.35,1.35l-1.35,-1.35zM115.5,213.7l1.35,1.35l-1.35,1.35l-1.35,-1.35zM115.5,211.8l1.35,1.35l-1.35,1.35l-1.35,-1.35zM108.8,209.8l1.35,1.35l-1.35,1.35l-1.35,-1.35zM108.8,211.5l1.35,1.35l-1.35,1.35l-1.35,-1.35zM107.6,218.6l1.35,1.35l-1.35,1.35l-1.35,-1.35zM107.6,209.8l1.35,1.35l-1.35,1.35l-1.35,-1.35zM123.9,215.7l1.35,1.35l-1.35,1.35l-1.35,-1.35zM123.9,212.0l1.35,1.35l-1.35,1.35l-1.35,-1.35zM107.0,224.7l1.35,1.35l-1.35,1.35l-1.35,-1.35zM107.0,213.9l1.35,1.35l-1.35,1.35l-1.35,-1.35zM107.0,210.3l1.35,1.35l-1.35,1.35l-1.35,-1.35zM116.3,216.5l1.35,1.35l-1.35,1.35l-1.35,-1.35zM116.3,217.1l1.35,1.35l-1.35,1.35l-1.35,-1.35zM109.6,208.0l1.35,1.35l-1.35,1.35l-1.35,-1.35zM109.6,225.9l1.35,1.35l-1.35,1.35l-1.35,-1.35zM109.6,221.1l1.35,1.35l-1.35,1.35l-1.35,-1.35zM110.7,224.6l1.35,1.35l-1.35,1.35l-1.35,-1.35zM110.7,209.3l1.35,1.35l-1.35,1.35l-1.35,-1.35zM121.6,216.0l1.35,1.35l-1.35,1.35l-1.35,-1.35zM121.6,212.3l1.35,1.35l-1.35,1.35l-1.35,-1.35zM111.3,208.8l1.35,1.35l-1.35,1.35l-1.35,-1.35zM112.3,208.0l1.35,1.35l-1.35,1.35l-1.35,-1.35zM121.0,209.8l1.35,1.35l-1.35,1.35l-1.35,-1.35zM121.0,220.4l1.35,1.35l-1.35,1.35l-1.35,-1.35zM115.3,214.0l1.35,1.35l-1.35,1.35l-1.35,-1.35zM115.3,209.7l1.35,1.35l-1.35,1.35l-1.35,-1.35zM115.3,206.8l1.35,1.35l-1.35,1.35l-1.35,-1.35zM123.1,212.9l1.35,1.35l-1.35,1.35l-1.35,-1.35zM123.1,214.5l1.35,1.35l-1.35,1.35l-1.35,-1.35zM123.1,207.6l1.35,1.35l-1.35,1.35l-1.35,-1.35zM114.7,219.0l1.35,1.35l-1.35,1.35l-1.35,-1.35zM114.7,209.7l1.35,1.35l-1.35,1.35l-1.35,-1.35zM110.1,222.0l1.35,1.35l-1.35,1.35l-1.35,-1.35zM110.4,224.5l1.35,1.35l-1.35,1.35l-1.35,-1.35zM124.3,223.0l1.35,1.35l-1.35,1.35l-1.35,-1.35zM124.3,210.5l1.35,1.35l-1.35,1.35l-1.35,-1.35zM109.2,219.2l1.35,1.35l-1.35,1.35l-1.35,-1.35zM110.5,221.6l1.35,1.35l-1.35,1.35l-1.35,-1.35zM116.9,217.8l1.35,1.35l-1.35,1.35l-1.35,-1.35zM113.5,224.8l1.35,1.35l-1.35,1.35l-1.35,-1.35zM113.5,225.3l1.35,1.35l-1.35,1.35l-1.35,-1.35zM116.4,215.5l1.35,1.35l-1.35,1.35l-1.35,-1.35zM121.8,225.4l1.35,1.35l-1.35,1.35l-1.35,-1.35zM111.8,218.8l1.35,1.35l-1.35,1.35l-1.35,-1.35zM126.2,210.2l1.35,1.35l-1.35,1.35l-1.35,-1.35zM113.9,225.1l1.35,1.35l-1.35,1.35l-1.35,-1.35zM113.9,214.4l1.35,1.35l-1.35,1.35l-1.35,-1.35zM113.9,226.7l1.35,1.35l-1.35,1.35l-1.35,-1.35zM125.9,209.3l1.35,1.35l-1.35,1.35l-1.35,-1.35zM120.8,223.4l1.35,1.35l-1.35,1.35l-1.35,-1.35zM120.8,225.3l1.35,1.35l-1.35,1.35l-1.35,-1.35zM118.0,213.0l1.35,1.35l-1.35,1.35l-1.35,-1.35zM108.7,216.3l1.35,1.35l-1.35,1.35l-1.35,-1.35zM108.7,207.3l1.35,1.35l-1.35,1.35l-1.35,-1.35zM122.6,207.2l1.35,1.35l-1.35,1.35l-1.35,-1.35zM125.8,220.0l1.35,1.35l-1.35,1.35l-1.35,-1.35zM109.9,212.1l1.35,1.35l-1.35,1.35l-1.35,-1.35zM109.9,224.2l1.35,1.35l-1.35,1.35l-1.35,-1.35zM107.1,226.6l1.35,1.35l-1.35,1.35l-1.35,-1.35zM121.3,207.1l1.35,1.35l-1.35,1.35l-1.35,-1.35zM121.3,219.6l1.35,1.35l-1.35,1.35l-1.35,-1.35zM118.0,211.9l1.35,1.35l-1.35,1.35l-1.35,-1.35zM118.0,216.3l1.35,1.35l-1.35,1.35l-1.35,-1.35zM118.0,214.3l1.35,1.35l-1.35,1.35l-1.35,-1.35zM108.4,207.7l1.35,1.35l-1.35,1.35l-1.35,-1.35zM109.0,219.3l1.35,1.35l-1.35,1.35l-1.35,-1.35zM109.0,223.0l1.35,1.35l-1.35,1.35l-1.35,-1.35zM108.7,215.4l1.35,1.35l-1.35,1.35l-1.35,-1.35zM109.2,211.6l1.35,1.35l-1.35,1.35l-1.35,-1.35zM109.2,211.6l1.35,1.35l-1.35,1.35l-1.35,-1.35zM109.2,221.1l1.35,1.35l-1.35,1.35l-1.35,-1.35zM115.7,210.3l1.35,1.35l-1.35,1.35l-1.35,-1.35zM115.7,224.4l1.35,1.35l-1.35,1.35l-1.35,-1.35zM125.3,221.6l1.35,1.35l-1.35,1.35l-1.35,-1.35zM125.3,219.5l1.35,1.35l-1.35,1.35l-1.35,-1.35zM118.6,215.2l1.35,1.35l-1.35,1.35l-1.35,-1.35zM125.3,214.0l1.35,1.35l-1.35,1.35l-1.35,-1.35zM125.3,211.9l1.35,1.35l-1.35,1.35l-1.35,-1.35zM113.2,224.8l1.35,1.35l-1.35,1.35l-1.35,-1.35zM113.2,218.8l1.35,1.35l-1.35,1.35l-1.35,-1.35zM126.2,224.2l1.35,1.35l-1.35,1.35l-1.35,-1.35zM126.2,224.9l1.35,1.35l-1.35,1.35l-1.35,-1.35zM107.6,209.9l1.35,1.35l-1.35,1.35l-1.35,-1.35zM107.6,221.3l1.35,1.35l-1.35,1.35l-1.35,-1.35zM133.6,199.5l1.35,1.35l-1.35,1.35l-1.35,-1.35zM133.6,185.6l1.35,1.35l-1.35,1.35l-1.35,-1.35zM128.7,186.8l1.35,1.35l-1.35,1.35l-1.35,-1.35zM135.2,199.7l1.35,1.35l-1.35,1.35l-1.35,-1.35zM135.2,190.2l1.35,1.35l-1.35,1.35l-1.35,-1.35zM135.2,194.4l1.35,1.35l-1.35,1.35l-1.35,-1.35zM134.4,198.9l1.35,1.35l-1.35,1.35l-1.35,-1.35zM134.4,202.7l1.35,1.35l-1.35,1.35l-1.35,-1.35zM144.2,186.1l1.35,1.35l-1.35,1.35l-1.35,-1.35zM139.3,205.0l1.35,1.35l-1.35,1.35l-1.35,-1.35zM139.3,198.7l1.35,1.35l-1.35,1.35l-1.35,-1.35zM139.1,198.6l1.35,1.35l-1.35,1.35l-1.35,-1.35zM131.5,185.6l1.35,1.35l-1.35,1.35l-1.35,-1.35zM131.5,190.4l1.35,1.35l-1.35,1.35l-1.35,-1.35zM131.5,186.2l1.35,1.35l-1.35,1.35l-1.35,-1.35zM128.8,199.2l1.35,1.35l-1.35,1.35l-1.35,-1.35zM128.8,187.9l1.35,1.35l-1.35,1.35l-1.35,-1.35zM138.4,204.6l1.35,1.35l-1.35,1.35l-1.35,-1.35zM138.4,187.2l1.35,1.35l-1.35,1.35l-1.35,-1.35zM138.4,198.0l1.35,1.35l-1.35,1.35l-1.35,-1.35zM145.1,188.0l1.35,1.35l-1.35,1.35l-1.35,-1.35zM145.1,188.2l1.35,1.35l-1.35,1.35l-1.35,-1.35zM132.4,197.7l1.35,1.35l-1.35,1.35l-1.35,-1.35zM132.4,191.2l1.35,1.35l-1.35,1.35l-1.35,-1.35zM141.2,191.5l1.35,1.35l-1.35,1.35l-1.35,-1.35zM141.2,195.1l1.35,1.35l-1.35,1.35l-1.35,-1.35zM140.4,220.7l1.35,1.35l-1.35,1.35l-1.35,-1.35zM130.5,216.6l1.35,1.35l-1.35,1.35l-1.35,-1.35zM130.5,218.5l1.35,1.35l-1.35,1.35l-1.35,-1.35zM138.8,224.3l1.35,1.35l-1.35,1.35l-1.35,-1.35zM138.8,207.4l1.35,1.35l-1.35,1.35l-1.35,-1.35zM133.2,217.7l1.35,1.35l-1.35,1.35l-1.35,-1.35zM134.2,215.2l1.35,1.35l-1.35,1.35l-1.35,-1.35zM134.2,226.5l1.35,1.35l-1.35,1.35l-1.35,-1.35zM134.2,210.2l1.35,1.35l-1.35,1.35l-1.35,-1.35zM145.5,218.7l1.35,1.35l-1.35,1.35l-1.35,-1.35zM145.5,217.3l1.35,1.35l-1.35,1.35l-1.35,-1.35zM132.2,213.1l1.35,1.35l-1.35,1.35l-1.35,-1.35zM141.9,218.5l1.35,1.35l-1.35,1.35l-1.35,-1.35zM138.6,216.2l1.35,1.35l-1.35,1.35l-1.35,-1.35zM138.6,208.1l1.35,1.35l-1.35,1.35l-1.35,-1.35zM134.3,214.3l1.35,1.35l-1.35,1.35l-1.35,-1.35zM134.3,223.1l1.35,1.35l-1.35,1.35l-1.35,-1.35zM136.9,215.7l1.35,1.35l-1.35,1.35l-1.35,-1.35zM139.9,221.2l1.35,1.35l-1.35,1.35l-1.35,-1.35zM138.8,224.3l1.35,1.35l-1.35,1.35l-1.35,-1.35zM138.8,217.8l1.35,1.35l-1.35,1.35l-1.35,-1.35zM141.3,212.5l1.35,1.35l-1.35,1.35l-1.35,-1.35zM141.3,220.2l1.35,1.35l-1.35,1.35l-1.35,-1.35zM139.1,215.6l1.35,1.35l-1.35,1.35l-1.35,-1.35zM128.6,223.1l1.35,1.35l-1.35,1.35l-1.35,-1.35zM128.6,219.3l1.35,1.35l-1.35,1.35l-1.35,-1.35zM136.5,210.0l1.35,1.35l-1.35,1.35l-1.35,-1.35zM136.5,224.9l1.35,1.35l-1.35,1.35l-1.35,-1.35zM136.5,212.7l1.35,1.35l-1.35,1.35l-1.35,-1.35zM138.9,214.9l1.35,1.35l-1.35,1.35l-1.35,-1.35zM135.5,212.9l1.35,1.35l-1.35,1.35l-1.35,-1.35zM135.5,214.3l1.35,1.35l-1.35,1.35l-1.35,-1.35zM133.6,218.6l1.35,1.35l-1.35,1.35l-1.35,-1.35zM133.6,215.0l1.35,1.35l-1.35,1.35l-1.35,-1.35zM133.6,213.6l1.35,1.35l-1.35,1.35l-1.35,-1.35zM142.2,214.9l1.35,1.35l-1.35,1.35l-1.35,-1.35zM142.2,213.2l1.35,1.35l-1.35,1.35l-1.35,-1.35zM137.2,216.1l1.35,1.35l-1.35,1.35l-1.35,-1.35zM134.0,208.6l1.35,1.35l-1.35,1.35l-1.35,-1.35zM144.9,227.5l1.35,1.35l-1.35,1.35l-1.35,-1.35zM144.9,219.8l1.35,1.35l-1.35,1.35l-1.35,-1.35zM131.4,211.1l1.35,1.35l-1.35,1.35l-1.35,-1.35zM131.4,215.9l1.35,1.35l-1.35,1.35l-1.35,-1.35zM144.7,207.3l1.35,1.35l-1.35,1.35l-1.35,-1.35zM131.6,213.2l1.35,1.35l-1.35,1.35l-1.35,-1.35zM131.6,218.2l1.35,1.35l-1.35,1.35l-1.35,-1.35zM132.7,228.1l1.35,1.35l-1.35,1.35l-1.35,-1.35zM132.7,217.8l1.35,1.35l-1.35,1.35l-1.35,-1.35zM132.7,217.8l1.35,1.35l-1.35,1.35l-1.35,-1.35zM140.2,216.7l1.35,1.35l-1.35,1.35l-1.35,-1.35zM140.2,207.6l1.35,1.35l-1.35,1.35l-1.35,-1.35zM140.0,227.0l1.35,1.35l-1.35,1.35l-1.35,-1.35zM140.0,221.2l1.35,1.35l-1.35,1.35l-1.35,-1.35zM137.0,215.5l1.35,1.35l-1.35,1.35l-1.35,-1.35zM136.5,226.6l1.35,1.35l-1.35,1.35l-1.35,-1.35zM136.5,210.1l1.35,1.35l-1.35,1.35l-1.35,-1.35zM136.5,210.8l1.35,1.35l-1.35,1.35l-1.35,-1.35zM134.9,216.2l1.35,1.35l-1.35,1.35l-1.35,-1.35zM134.9,220.1l1.35,1.35l-1.35,1.35l-1.35,-1.35zM146.4,221.5l1.35,1.35l-1.35,1.35l-1.35,-1.35zM146.4,222.7l1.35,1.35l-1.35,1.35l-1.35,-1.35zM128.3,213.6l1.35,1.35l-1.35,1.35l-1.35,-1.35zM128.3,227.7l1.35,1.35l-1.35,1.35l-1.35,-1.35zM143.0,210.5l1.35,1.35l-1.35,1.35l-1.35,-1.35zM143.0,220.8l1.35,1.35l-1.35,1.35l-1.35,-1.35zM143.0,213.1l1.35,1.35l-1.35,1.35l-1.35,-1.35zM133.4,225.8l1.35,1.35l-1.35,1.35l-1.35,-1.35zM133.4,215.8l1.35,1.35l-1.35,1.35l-1.35,-1.35zM133.4,210.1l1.35,1.35l-1.35,1.35l-1.35,-1.35zM132.3,211.2l1.35,1.35l-1.35,1.35l-1.35,-1.35zM132.3,225.9l1.35,1.35l-1.35,1.35l-1.35,-1.35zM132.3,215.6l1.35,1.35l-1.35,1.35l-1.35,-1.35zM127.7,219.7l1.35,1.35l-1.35,1.35l-1.35,-1.35zM127.7,214.3l1.35,1.35l-1.35,1.35l-1.35,-1.35zM127.7,228.0l1.35,1.35l-1.35,1.35l-1.35,-1.35zM139.2,221.6l1.35,1.35l-1.35,1.35l-1.35,-1.35zM126.7,213.3l1.35,1.35l-1.35,1.35l-1.35,-1.35zM140.3,226.4l1.35,1.35l-1.35,1.35l-1.35,-1.35zM134.5,219.3l1.35,1.35l-1.35,1.35l-1.35,-1.35zM139.9,210.5l1.35,1.35l-1.35,1.35l-1.35,-1.35zM141.9,212.4l1.35,1.35l-1.35,1.35l-1.35,-1.35zM141.9,220.6l1.35,1.35l-1.35,1.35l-1.35,-1.35zM141.9,218.1l1.35,1.35l-1.35,1.35l-1.35,-1.35zM146.4,211.0l1.35,1.35l-1.35,1.35l-1.35,-1.35zM146.4,219.6l1.35,1.35l-1.35,1.35l-1.35,-1.35zM146.4,209.9l1.35,1.35l-1.35,1.35l-1.35,-1.35zM136.9,209.0l1.35,1.35l-1.35,1.35l-1.35,-1.35zM136.9,208.9l1.35,1.35l-1.35,1.35l-1.35,-1.35zM149.9,195.8l1.35,1.35l-1.35,1.35l-1.35,-1.35zM149.9,195.4l1.35,1.35l-1.35,1.35l-1.35,-1.35zM149.9,194.6l1.35,1.35l-1.35,1.35l-1.35,-1.35zM162.5,200.0l1.35,1.35l-1.35,1.35l-1.35,-1.35zM158.1,200.7l1.35,1.35l-1.35,1.35l-1.35,-1.35zM153.6,186.1l1.35,1.35l-1.35,1.35l-1.35,-1.35zM159.1,186.7l1.35,1.35l-1.35,1.35l-1.35,-1.35zM159.1,189.5l1.35,1.35l-1.35,1.35l-1.35,-1.35zM159.1,198.7l1.35,1.35l-1.35,1.35l-1.35,-1.35zM146.9,204.4l1.35,1.35l-1.35,1.35l-1.35,-1.35zM158.2,194.8l1.35,1.35l-1.35,1.35l-1.35,-1.35zM158.9,190.1l1.35,1.35l-1.35,1.35l-1.35,-1.35zM149.7,203.6l1.35,1.35l-1.35,1.35l-1.35,-1.35zM149.7,192.1l1.35,1.35l-1.35,1.35l-1.35,-1.35zM149.7,204.6l1.35,1.35l-1.35,1.35l-1.35,-1.35zM162.8,194.3l1.35,1.35l-1.35,1.35l-1.35,-1.35zM162.8,190.7l1.35,1.35l-1.35,1.35l-1.35,-1.35zM164.2,190.5l1.35,1.35l-1.35,1.35l-1.35,-1.35zM154.3,190.1l1.35,1.35l-1.35,1.35l-1.35,-1.35zM154.3,192.0l1.35,1.35l-1.35,1.35l-1.35,-1.35zM154.3,204.1l1.35,1.35l-1.35,1.35l-1.35,-1.35zM156.2,187.2l1.35,1.35l-1.35,1.35l-1.35,-1.35zM149.9,189.3l1.35,1.35l-1.35,1.35l-1.35,-1.35zM149.9,206.1l1.35,1.35l-1.35,1.35l-1.35,-1.35zM152.3,193.1l1.35,1.35l-1.35,1.35l-1.35,-1.35zM152.3,192.5l1.35,1.35l-1.35,1.35l-1.35,-1.35zM163.9,215.4l1.35,1.35l-1.35,1.35l-1.35,-1.35zM163.9,208.2l1.35,1.35l-1.35,1.35l-1.35,-1.35zM149.0,218.6l1.35,1.35l-1.35,1.35l-1.35,-1.35zM149.0,215.0l1.35,1.35l-1.35,1.35l-1.35,-1.35zM155.8,211.8l1.35,1.35l-1.35,1.35l-1.35,-1.35zM155.8,207.5l1.35,1.35l-1.35,1.35l-1.35,-1.35zM159.8,224.0l1.35,1.35l-1.35,1.35l-1.35,-1.35zM159.8,211.9l1.35,1.35l-1.35,1.35l-1.35,-1.35zM149.1,212.5l1.35,1.35l-1.35,1.35l-1.35,-1.35zM163.2,218.6l1.35,1.35l-1.35,1.35l-1.35,-1.35zM155.8,210.2l1.35,1.35l-1.35,1.35l-1.35,-1.35zM153.6,214.8l1.35,1.35l-1.35,1.35l-1.35,-1.35zM153.6,227.3l1.35,1.35l-1.35,1.35l-1.35,-1.35zM150.7,217.6l1.35,1.35l-1.35,1.35l-1.35,-1.35zM150.7,211.6l1.35,1.35l-1.35,1.35l-1.35,-1.35zM155.6,226.9l1.35,1.35l-1.35,1.35l-1.35,-1.35zM166.5,226.0l1.35,1.35l-1.35,1.35l-1.35,-1.35zM166.5,219.3l1.35,1.35l-1.35,1.35l-1.35,-1.35zM166.5,214.6l1.35,1.35l-1.35,1.35l-1.35,-1.35zM151.4,217.7l1.35,1.35l-1.35,1.35l-1.35,-1.35zM151.4,209.4l1.35,1.35l-1.35,1.35l-1.35,-1.35zM151.4,222.8l1.35,1.35l-1.35,1.35l-1.35,-1.35zM160.1,218.4l1.35,1.35l-1.35,1.35l-1.35,-1.35zM151.9,207.4l1.35,1.35l-1.35,1.35l-1.35,-1.35zM151.9,222.1l1.35,1.35l-1.35,1.35l-1.35,-1.35zM149.4,215.1l1.35,1.35l-1.35,1.35l-1.35,-1.35zM148.2,223.4l1.35,1.35l-1.35,1.35l-1.35,-1.35zM151.1,220.9l1.35,1.35l-1.35,1.35l-1.35,-1.35zM148.7,226.3l1.35,1.35l-1.35,1.35l-1.35,-1.35zM148.7,224.0l1.35,1.35l-1.35,1.35l-1.35,-1.35zM148.7,223.0l1.35,1.35l-1.35,1.35l-1.35,-1.35zM150.4,208.6l1.35,1.35l-1.35,1.35l-1.35,-1.35zM150.4,212.9l1.35,1.35l-1.35,1.35l-1.35,-1.35zM162.8,212.8l1.35,1.35l-1.35,1.35l-1.35,-1.35zM162.8,215.4l1.35,1.35l-1.35,1.35l-1.35,-1.35zM164.7,226.8l1.35,1.35l-1.35,1.35l-1.35,-1.35zM150.0,221.3l1.35,1.35l-1.35,1.35l-1.35,-1.35zM150.0,221.0l1.35,1.35l-1.35,1.35l-1.35,-1.35zM153.5,207.3l1.35,1.35l-1.35,1.35l-1.35,-1.35zM153.5,221.8l1.35,1.35l-1.35,1.35l-1.35,-1.35zM155.8,214.3l1.35,1.35l-1.35,1.35l-1.35,-1.35zM155.8,220.2l1.35,1.35l-1.35,1.35l-1.35,-1.35zM150.1,212.5l1.35,1.35l-1.35,1.35l-1.35,-1.35zM158.7,222.0l1.35,1.35l-1.35,1.35l-1.35,-1.35zM147.3,219.8l1.35,1.35l-1.35,1.35l-1.35,-1.35zM155.1,210.1l1.35,1.35l-1.35,1.35l-1.35,-1.35zM155.1,222.6l1.35,1.35l-1.35,1.35l-1.35,-1.35zM157.5,218.8l1.35,1.35l-1.35,1.35l-1.35,-1.35zM151.1,222.1l1.35,1.35l-1.35,1.35l-1.35,-1.35zM151.1,212.2l1.35,1.35l-1.35,1.35l-1.35,-1.35zM155.2,214.2l1.35,1.35l-1.35,1.35l-1.35,-1.35zM155.2,206.8l1.35,1.35l-1.35,1.35l-1.35,-1.35zM155.2,224.6l1.35,1.35l-1.35,1.35l-1.35,-1.35zM162.0,226.0l1.35,1.35l-1.35,1.35l-1.35,-1.35zM162.0,225.5l1.35,1.35l-1.35,1.35l-1.35,-1.35zM158.2,227.6l1.35,1.35l-1.35,1.35l-1.35,-1.35zM160.1,223.7l1.35,1.35l-1.35,1.35l-1.35,-1.35zM150.7,222.8l1.35,1.35l-1.35,1.35l-1.35,-1.35zM150.7,208.6l1.35,1.35l-1.35,1.35l-1.35,-1.35zM160.4,228.1l1.35,1.35l-1.35,1.35l-1.35,-1.35zM160.4,219.9l1.35,1.35l-1.35,1.35l-1.35,-1.35zM150.9,208.7l1.35,1.35l-1.35,1.35l-1.35,-1.35zM150.9,227.0l1.35,1.35l-1.35,1.35l-1.35,-1.35zM150.9,215.8l1.35,1.35l-1.35,1.35l-1.35,-1.35zM165.1,222.6l1.35,1.35l-1.35,1.35l-1.35,-1.35zM165.1,224.5l1.35,1.35l-1.35,1.35l-1.35,-1.35zM165.1,220.2l1.35,1.35l-1.35,1.35l-1.35,-1.35zM155.6,221.2l1.35,1.35l-1.35,1.35l-1.35,-1.35zM150.6,224.9l1.35,1.35l-1.35,1.35l-1.35,-1.35zM150.6,223.4l1.35,1.35l-1.35,1.35l-1.35,-1.35zM150.6,217.2l1.35,1.35l-1.35,1.35l-1.35,-1.35zM150.3,212.3l1.35,1.35l-1.35,1.35l-1.35,-1.35zM150.3,218.4l1.35,1.35l-1.35,1.35l-1.35,-1.35zM150.3,227.5l1.35,1.35l-1.35,1.35l-1.35,-1.35zM159.3,212.3l1.35,1.35l-1.35,1.35l-1.35,-1.35zM159.3,227.4l1.35,1.35l-1.35,1.35l-1.35,-1.35zM159.3,210.3l1.35,1.35l-1.35,1.35l-1.35,-1.35zM153.4,211.1l1.35,1.35l-1.35,1.35l-1.35,-1.35zM152.7,221.4l1.35,1.35l-1.35,1.35l-1.35,-1.35zM156.2,211.8l1.35,1.35l-1.35,1.35l-1.35,-1.35zM156.2,211.9l1.35,1.35l-1.35,1.35l-1.35,-1.35zM156.8,209.6l1.35,1.35l-1.35,1.35l-1.35,-1.35zM179.3,188.2l1.35,1.35l-1.35,1.35l-1.35,-1.35zM179.3,200.5l1.35,1.35l-1.35,1.35l-1.35,-1.35zM178.3,192.5l1.35,1.35l-1.35,1.35l-1.35,-1.35zM182.8,194.4l1.35,1.35l-1.35,1.35l-1.35,-1.35zM182.8,205.5l1.35,1.35l-1.35,1.35l-1.35,-1.35zM182.8,199.8l1.35,1.35l-1.35,1.35l-1.35,-1.35zM169.6,203.3l1.35,1.35l-1.35,1.35l-1.35,-1.35zM169.6,194.0l1.35,1.35l-1.35,1.35l-1.35,-1.35zM170.6,185.6l1.35,1.35l-1.35,1.35l-1.35,-1.35zM170.6,195.8l1.35,1.35l-1.35,1.35l-1.35,-1.35zM167.4,191.9l1.35,1.35l-1.35,1.35l-1.35,-1.35zM167.4,187.7l1.35,1.35l-1.35,1.35l-1.35,-1.35zM172.7,188.8l1.35,1.35l-1.35,1.35l-1.35,-1.35zM175.4,193.1l1.35,1.35l-1.35,1.35l-1.35,-1.35zM175.4,188.9l1.35,1.35l-1.35,1.35l-1.35,-1.35zM175.4,186.9l1.35,1.35l-1.35,1.35l-1.35,-1.35zM166.7,187.1l1.35,1.35l-1.35,1.35l-1.35,-1.35zM166.7,200.7l1.35,1.35l-1.35,1.35l-1.35,-1.35zM186.1,191.0l1.35,1.35l-1.35,1.35l-1.35,-1.35zM186.1,199.2l1.35,1.35l-1.35,1.35l-1.35,-1.35zM186.1,205.8l1.35,1.35l-1.35,1.35l-1.35,-1.35zM176.3,192.2l1.35,1.35l-1.35,1.35l-1.35,-1.35zM176.3,193.0l1.35,1.35l-1.35,1.35l-1.35,-1.35zM176.3,187.3l1.35,1.35l-1.35,1.35l-1.35,-1.35zM172.2,226.8l1.35,1.35l-1.35,1.35l-1.35,-1.35zM172.2,220.7l1.35,1.35l-1.35,1.35l-1.35,-1.35zM172.2,212.1l1.35,1.35l-1.35,1.35l-1.35,-1.35zM171.4,222.7l1.35,1.35l-1.35,1.35l-1.35,-1.35zM167.0,224.7l1.35,1.35l-1.35,1.35l-1.35,-1.35zM167.0,213.1l1.35,1.35l-1.35,1.35l-1.35,-1.35zM170.2,224.8l1.35,1.35l-1.35,1.35l-1.35,-1.35zM170.2,226.6l1.35,1.35l-1.35,1.35l-1.35,-1.35zM170.2,210.4l1.35,1.35l-1.35,1.35l-1.35,-1.35zM182.2,222.6l1.35,1.35l-1.35,1.35l-1.35,-1.35zM182.2,213.7l1.35,1.35l-1.35,1.35l-1.35,-1.35zM170.2,213.6l1.35,1.35l-1.35,1.35l-1.35,-1.35zM170.2,214.6l1.35,1.35l-1.35,1.35l-1.35,-1.35zM177.5,224.7l1.35,1.35l-1.35,1.35l-1.35,-1.35zM177.5,212.2l1.35,1.35l-1.35,1.35l-1.35,-1.35zM167.7,218.9l1.35,1.35l-1.35,1.35l-1.35,-1.35zM179.1,226.1l1.35,1.35l-1.35,1.35l-1.35,-1.35zM179.1,227.0l1.35,1.35l-1.35,1.35l-1.35,-1.35zM176.4,222.4l1.35,1.35l-1.35,1.35l-1.35,-1.35zM176.4,228.1l1.35,1.35l-1.35,1.35l-1.35,-1.35zM178.6,209.8l1.35,1.35l-1.35,1.35l-1.35,-1.35zM171.0,216.2l1.35,1.35l-1.35,1.35l-1.35,-1.35zM185.9,227.7l1.35,1.35l-1.35,1.35l-1.35,-1.35zM183.5,210.8l1.35,1.35l-1.35,1.35l-1.35,-1.35zM183.5,222.2l1.35,1.35l-1.35,1.35l-1.35,-1.35zM166.6,225.1l1.35,1.35l-1.35,1.35l-1.35,-1.35zM166.6,223.6l1.35,1.35l-1.35,1.35l-1.35,-1.35zM166.6,215.9l1.35,1.35l-1.35,1.35l-1.35,-1.35zM172.2,217.8l1.35,1.35l-1.35,1.35l-1.35,-1.35zM174.9,208.1l1.35,1.35l-1.35,1.35l-1.35,-1.35zM174.9,206.9l1.35,1.35l-1.35,1.35l-1.35,-1.35zM185.6,226.1l1.35,1.35l-1.35,1.35l-1.35,-1.35zM169.8,206.8l1.35,1.35l-1.35,1.35l-1.35,-1.35zM169.8,224.0l1.35,1.35l-1.35,1.35l-1.35,-1.35zM180.0,210.9l1.35,1.35l-1.35,1.35l-1.35,-1.35zM180.0,208.6l1.35,1.35l-1.35,1.35l-1.35,-1.35zM180.0,213.7l1.35,1.35l-1.35,1.35l-1.35,-1.35zM175.7,226.2l1.35,1.35l-1.35,1.35l-1.35,-1.35zM175.7,225.3l1.35,1.35l-1.35,1.35l-1.35,-1.35zM175.7,227.6l1.35,1.35l-1.35,1.35l-1.35,-1.35zM185.7,208.5l1.35,1.35l-1.35,1.35l-1.35,-1.35zM185.7,224.1l1.35,1.35l-1.35,1.35l-1.35,-1.35zM185.7,222.2l1.35,1.35l-1.35,1.35l-1.35,-1.35zM173.1,218.8l1.35,1.35l-1.35,1.35l-1.35,-1.35zM173.1,215.8l1.35,1.35l-1.35,1.35l-1.35,-1.35zM173.9,213.2l1.35,1.35l-1.35,1.35l-1.35,-1.35zM173.4,224.9l1.35,1.35l-1.35,1.35l-1.35,-1.35zM170.9,221.5l1.35,1.35l-1.35,1.35l-1.35,-1.35zM170.9,209.9l1.35,1.35l-1.35,1.35l-1.35,-1.35zM178.1,219.2l1.35,1.35l-1.35,1.35l-1.35,-1.35zM178.1,215.7l1.35,1.35l-1.35,1.35l-1.35,-1.35zM178.1,218.1l1.35,1.35l-1.35,1.35l-1.35,-1.35zM177.8,212.3l1.35,1.35l-1.35,1.35l-1.35,-1.35zM177.8,211.6l1.35,1.35l-1.35,1.35l-1.35,-1.35zM185.9,218.5l1.35,1.35l-1.35,1.35l-1.35,-1.35zM168.7,220.7l1.35,1.35l-1.35,1.35l-1.35,-1.35zM168.7,210.8l1.35,1.35l-1.35,1.35l-1.35,-1.35zM179.9,211.6l1.35,1.35l-1.35,1.35l-1.35,-1.35zM179.9,216.6l1.35,1.35l-1.35,1.35l-1.35,-1.35zM177.3,222.5l1.35,1.35l-1.35,1.35l-1.35,-1.35zM184.7,208.5l1.35,1.35l-1.35,1.35l-1.35,-1.35zM184.7,215.5l1.35,1.35l-1.35,1.35l-1.35,-1.35zM184.7,208.3l1.35,1.35l-1.35,1.35l-1.35,-1.35zM175.3,218.5l1.35,1.35l-1.35,1.35l-1.35,-1.35zM175.3,222.0l1.35,1.35l-1.35,1.35l-1.35,-1.35zM175.3,222.9l1.35,1.35l-1.35,1.35l-1.35,-1.35zM168.8,208.9l1.35,1.35l-1.35,1.35l-1.35,-1.35zM168.8,224.5l1.35,1.35l-1.35,1.35l-1.35,-1.35zM168.8,215.1l1.35,1.35l-1.35,1.35l-1.35,-1.35zM169.9,218.8l1.35,1.35l-1.35,1.35l-1.35,-1.35zM123.2,201.0l1.35,1.35l-1.35,1.35l-1.35,-1.35zM119.8,199.8l1.35,1.35l-1.35,1.35l-1.35,-1.35zM119.8,201.0l1.35,1.35l-1.35,1.35l-1.35,-1.35zM106.8,206.3l1.35,1.35l-1.35,1.35l-1.35,-1.35zM106.8,201.8l1.35,1.35l-1.35,1.35l-1.35,-1.35zM106.8,198.7l1.35,1.35l-1.35,1.35l-1.35,-1.35zM109.4,203.2l1.35,1.35l-1.35,1.35l-1.35,-1.35zM125.3,198.7l1.35,1.35l-1.35,1.35l-1.35,-1.35zM125.3,204.2l1.35,1.35l-1.35,1.35l-1.35,-1.35zM125.3,200.8l1.35,1.35l-1.35,1.35l-1.35,-1.35zM114.4,204.9l1.35,1.35l-1.35,1.35l-1.35,-1.35zM114.4,204.3l1.35,1.35l-1.35,1.35l-1.35,-1.35zM106.8,198.8l1.35,1.35l-1.35,1.35l-1.35,-1.35zM106.8,201.0l1.35,1.35l-1.35,1.35l-1.35,-1.35zM122.4,204.1l1.35,1.35l-1.35,1.35l-1.35,-1.35zM122.4,198.0l1.35,1.35l-1.35,1.35l-1.35,-1.35zM50.8,200.2l1.35,1.35l-1.35,1.35l-1.35,-1.35zM50.0,190.3l1.35,1.35l-1.35,1.35l-1.35,-1.35zM50.0,223.6l1.35,1.35l-1.35,1.35l-1.35,-1.35zM50.0,213.3l1.35,1.35l-1.35,1.35l-1.35,-1.35zM49.8,214.1l1.35,1.35l-1.35,1.35l-1.35,-1.35zM49.1,203.7l1.35,1.35l-1.35,1.35l-1.35,-1.35zM49.1,218.1l1.35,1.35l-1.35,1.35l-1.35,-1.35zM49.1,205.7l1.35,1.35l-1.35,1.35l-1.35,-1.35zM49.2,193.2l1.35,1.35l-1.35,1.35l-1.35,-1.35zM49.2,208.4l1.35,1.35l-1.35,1.35l-1.35,-1.35zM49.9,219.9l1.35,1.35l-1.35,1.35l-1.35,-1.35zM49.9,209.8l1.35,1.35l-1.35,1.35l-1.35,-1.35zM49.8,224.5l1.35,1.35l-1.35,1.35l-1.35,-1.35zM49.8,186.2l1.35,1.35l-1.35,1.35l-1.35,-1.35zM50.0,205.6l1.35,1.35l-1.35,1.35l-1.35,-1.35zM50.5,218.5l1.35,1.35l-1.35,1.35l-1.35,-1.35zM49.1,211.1l1.35,1.35l-1.35,1.35l-1.35,-1.35zM50.9,201.7l1.35,1.35l-1.35,1.35l-1.35,-1.35zM50.9,205.2l1.35,1.35l-1.35,1.35l-1.35,-1.35zM50.9,192.1l1.35,1.35l-1.35,1.35l-1.35,-1.35zM51.5,195.0l1.35,1.35l-1.35,1.35l-1.35,-1.35zM51.5,224.9l1.35,1.35l-1.35,1.35l-1.35,-1.35zM56.6,181.7l1.35,1.35l-1.35,1.35l-1.35,-1.35zM56.6,173.8l1.35,1.35l-1.35,1.35l-1.35,-1.35zM57.7,202.4l1.35,1.35l-1.35,1.35l-1.35,-1.35zM57.7,173.4l1.35,1.35l-1.35,1.35l-1.35,-1.35zM57.7,216.0l1.35,1.35l-1.35,1.35l-1.35,-1.35zM57.2,199.0l1.35,1.35l-1.35,1.35l-1.35,-1.35zM57.2,185.8l1.35,1.35l-1.35,1.35l-1.35,-1.35zM56.1,182.1l1.35,1.35l-1.35,1.35l-1.35,-1.35zM56.5,160.1l1.35,1.35l-1.35,1.35l-1.35,-1.35zM56.4,161.8l1.35,1.35l-1.35,1.35l-1.35,-1.35zM56.4,168.9l1.35,1.35l-1.35,1.35l-1.35,-1.35zM56.4,205.6l1.35,1.35l-1.35,1.35l-1.35,-1.35zM55.8,163.1l1.35,1.35l-1.35,1.35l-1.35,-1.35zM55.8,228.0l1.35,1.35l-1.35,1.35l-1.35,-1.35zM56.1,195.6l1.35,1.35l-1.35,1.35l-1.35,-1.35zM56.1,225.6l1.35,1.35l-1.35,1.35l-1.35,-1.35zM56.1,228.1l1.35,1.35l-1.35,1.35l-1.35,-1.35zM55.1,221.8l1.35,1.35l-1.35,1.35l-1.35,-1.35zM55.1,165.3l1.35,1.35l-1.35,1.35l-1.35,-1.35zM55.1,172.6l1.35,1.35l-1.35,1.35l-1.35,-1.35zM56.3,203.1l1.35,1.35l-1.35,1.35l-1.35,-1.35zM56.3,184.1l1.35,1.35l-1.35,1.35l-1.35,-1.35zM56.3,178.4l1.35,1.35l-1.35,1.35l-1.35,-1.35zM57.4,206.3l1.35,1.35l-1.35,1.35l-1.35,-1.35zM55.9,210.4l1.35,1.35l-1.35,1.35l-1.35,-1.35zM55.9,194.3l1.35,1.35l-1.35,1.35l-1.35,-1.35zM56.9,219.8l1.35,1.35l-1.35,1.35l-1.35,-1.35zM56.9,208.7l1.35,1.35l-1.35,1.35l-1.35,-1.35zM60.0,218.8l1.35,1.35l-1.35,1.35l-1.35,-1.35zM60.0,225.2l1.35,1.35l-1.35,1.35l-1.35,-1.35zM61.3,209.7l1.35,1.35l-1.35,1.35l-1.35,-1.35zM61.3,206.0l1.35,1.35l-1.35,1.35l-1.35,-1.35zM61.3,205.7l1.35,1.35l-1.35,1.35l-1.35,-1.35zM60.0,204.8l1.35,1.35l-1.35,1.35l-1.35,-1.35zM61.7,210.8l1.35,1.35l-1.35,1.35l-1.35,-1.35zM61.7,210.5l1.35,1.35l-1.35,1.35l-1.35,-1.35zM61.3,216.3l1.35,1.35l-1.35,1.35l-1.35,-1.35zM59.4,206.2l1.35,1.35l-1.35,1.35l-1.35,-1.35zM59.4,215.8l1.35,1.35l-1.35,1.35l-1.35,-1.35zM61.0,200.9l1.35,1.35l-1.35,1.35l-1.35,-1.35zM61.0,204.4l1.35,1.35l-1.35,1.35l-1.35,-1.35zM61.8,204.0l1.35,1.35l-1.35,1.35l-1.35,-1.35zM61.8,216.1l1.35,1.35l-1.35,1.35l-1.35,-1.35zM61.8,228.3l1.35,1.35l-1.35,1.35l-1.35,-1.35z" fill="#2850e4" stroke="none"/>
</g>
<g id="panelB">
<line x1="32.5" x2="469.8" y1="478.5" y2="478.5" stroke="#3a3a3a" stroke-width="1"/>
<line x1="32.5" x2="469.8" y1="427.5" y2="427.5" stroke="#3a3a3a" stroke-width="1"/>
<line x1="32.5" x2="469.8" y1="376.5" y2="376.5" stroke="#3a3a3a" stroke-width="1"/>
<line x1="32.5" x2="469.8" y1="325.5" y2="325.5" stroke="#3a3a3a" stroke-width="1"/>
<line x1="32.5" x2="469.8" y1="274.5" y2="274.5" stroke="#555" stroke-width="1"/>
<line x1="469.5" x2="469.5" y1="274.5" y2="529.5" stroke="#666" stroke-width="1" stroke-dasharray="1.3,2"/>
<line x1="32.5" x2="32.5" y1="274.0" y2="530.0" stroke="#777" stroke-width="1"/>
<line x1="32.0" x2="470.0" y1="529.5" y2="529.5" stroke="#444" stroke-width="1"/>
<line x1="30.0" x2="32.5" y1="529.5" y2="529.5" stroke="#777" stroke-width="1"/>
<text class="t" x="27.00" y="531.50" text-anchor="end">0.00</text>
<line x1="30.0" x2="32.5" y1="478.5" y2="478.5" stroke="#777" stroke-width="1"/>
<text class="t" x="27.00" y="480.50" text-anchor="end">0.20</text>
<line x1="30.0" x2="32.5" y1="427.5" y2="427.5" stroke="#777" stroke-width="1"/>
<text class="t" x="27.00" y="429.50" text-anchor="end">0.40</text>
<line x1="30.0" x2="32.5" y1="376.5" y2="376.5" stroke="#777" stroke-width="1"/>
<text class="t" x="27.00" y="378.50" text-anchor="end">0.60</text>
<line x1="30.0" x2="32.5" y1="325.5" y2="325.5" stroke="#777" stroke-width="1"/>
<text class="t" x="27.00" y="327.50" text-anchor="end">0.80</text>
<line x1="30.0" x2="32.5" y1="274.5" y2="274.5" stroke="#777" stroke-width="1"/>
<text class="t" x="27.00" y="276.50" text-anchor="end">1.00</text>
<line x1="32.5" x2="32.5" y1="529.5" y2="532.0" stroke="#444" stroke-width="1"/>
<text class="t" x="32.50" y="542.00" text-anchor="middle">0</text>
<line x1="119.5" x2="119.5" y1="529.5" y2="532.0" stroke="#444" stroke-width="1"/>
<text class="t" x="119.50" y="542.00" text-anchor="middle">200</text>
<line x1="207.5" x2="207.5" y1="529.5" y2="532.0" stroke="#444" stroke-width="1"/>
<text class="t" x="207.50" y="542.00" text-anchor="middle">400</text>
<line x1="294.5" x2="294.5" y1="529.5" y2="532.0" stroke="#444" stroke-width="1"/>
<text class="t" x="294.50" y="542.00" text-anchor="middle">600</text>
<line x1="382.5" x2="382.5" y1="529.5" y2="532.0" stroke="#444" stroke-width="1"/>
<text class="t" x="382.50" y="542.00" text-anchor="middle">800</text>
<line x1="469.5" x2="469.5" y1="529.5" y2="532.0" stroke="#444" stroke-width="1"/>
<text class="t" x="469.50" y="542.00" text-anchor="middle">1000</text>
<text class="b" x="250.3" y="555.3" text-anchor="middle">Distance (kb)</text>
<text class="b" transform="translate(9.3,401.3) rotate(-90)" text-anchor="middle">D'</text>
<text class="L" x="0.6" y="281">B</text>
<path d="M49.8,429.4 L53.0,437.0 L56.0,442.0 L58.0,440.0 L61.0,436.5 L62.0,436.3 L63.0,437.0 L64.0,439.4 L65.0,441.0 L66.0,443.3 L67.0,445.0 L68.0,446.2 L69.0,448.0 L70.0,447.0 L71.0,446.0 L72.0,446.4 L73.0,447.0 L74.0,448.2 L75.0,449.0 L76.0,448.3 L77.0,447.0 L78.0,447.5 L79.0,449.0 L80.0,448.9 L81.0,450.0 L82.0,449.7 L83.0,448.6 L84.0,448.0 L85.0,448.6 L86.0,448.1 L87.0,449.0 L88.0,449.9 L89.0,451.3 L90.0,452.0 L91.0,453.7 L92.0,456.0 L93.0,458.0 L94.0,459.0 L95.0,459.8 L96.0,459.1 L97.0,460.0 L98.0,460.1 L99.0,461.4 L100.0,462.0 L101.0,462.2 L102.0,461.2 L103.0,461.0 L104.0,461.7 L105.0,462.9 L106.0,464.0 L107.0,463.8 L108.0,464.3 L109.0,465.0 L110.0,465.9 L111.0,467.0 L112.0,468.0 L113.0,467.3 L114.0,467.0 L115.0,467.0 L116.0,467.3 L117.0,468.3 L118.0,469.0 L119.0,467.7 L120.0,467.0 L121.0,466.2 L122.0,467.0 L123.0,466.5 L124.0,466.4 L125.0,466.0 L126.0,465.3 L127.0,466.0 L128.0,465.5 L129.0,464.3 L130.0,464.5 L131.0,463.8 L132.0,463.8 L133.0,463.0 L134.0,463.4 L135.0,463.9 L136.0,463.5 L137.0,462.9 L138.0,462.5 L139.0,464.1 L140.0,465.0 L141.0,466.2 L142.0,466.8 L143.0,468.0 L144.0,467.6 L145.0,467.0 L146.0,468.8 L147.0,470.1 L148.0,471.0 L149.0,471.7 L150.0,472.4 L151.0,473.0 L152.0,472.8 L153.0,473.4 L154.0,474.0 L155.0,475.0 L156.0,475.2 L157.0,476.0 L158.0,476.3 L159.0,477.4 L160.0,478.0 L161.0,478.9 L162.0,479.5 L163.0,480.0 L164.0,480.8 L165.0,481.9 L166.0,483.0 L167.0,484.0 L168.0,485.3 L169.0,486.0 L170.0,487.0 L171.0,487.9 L172.0,489.0 L173.0,489.0 L174.0,488.4 L175.0,489.0 L176.0,488.8 L177.0,489.9 L178.0,490.0 L179.0,491.6 L180.0,492.1 L181.0,493.0 L182.0,493.4 L183.0,493.6 L184.0,494.5 L185.0,494.7 L186.0,495.4 L187.0,495.0 L188.0,495.0 L189.0,494.4 L190.0,494.0 L191.0,494.1 L192.0,493.0 L193.0,493.0 L194.0,493.0 L195.0,493.5 L196.0,493.0 L197.0,492.4 L198.0,491.6 L199.0,491.0 L200.0,490.1 L201.0,489.7 L202.0,489.0 L203.0,488.9 L204.0,487.1 L205.0,487.0 L206.0,487.3 L207.0,487.4 L208.0,487.0 L209.0,487.5 L210.0,487.3 L211.0,487.0 L212.0,486.7 L213.0,485.7 L214.0,485.0 L215.0,484.4 L216.0,483.6 L217.0,483.0 L218.0,482.1 L219.0,482.8 L220.0,482.0 L221.0,482.3 L222.0,482.0 L223.0,482.5 L224.0,482.7 L225.0,482.8 L226.0,483.0 L227.0,483.5 L228.0,484.1 L229.0,485.0 L230.0,485.7 L231.0,486.5 L232.0,487.0 L233.0,487.5 L234.0,487.6 L235.0,488.0 L236.0,487.5 L237.0,487.9 L238.0,487.9 L239.0,488.5 L240.0,488.5 L241.0,489.0 L242.0,489.1 L243.0,489.2 L244.0,489.3 L245.0,489.0 L246.0,489.4 L247.0,490.7 L248.0,491.0 L249.0,491.7 L250.0,491.5 L251.0,491.9 L252.0,493.0 L253.0,492.7 L254.0,493.8 L255.0,493.4 L256.0,494.0 L257.0,493.7 L258.0,494.4 L259.0,494.2 L260.0,494.5 L261.0,494.1 L262.0,494.3 L263.0,494.9 L264.0,495.0 L265.0,494.9 L266.0,495.2 L267.0,496.0 L268.0,496.0 L269.0,496.1 L270.0,496.1 L271.0,496.5 L272.0,496.7 L273.0,496.3 L274.0,496.9 L275.0,497.1 L276.0,497.3 L277.0,497.0 L278.0,497.0 L279.0,497.5 L280.0,497.6 L281.0,496.8 L282.0,496.5 L283.0,495.2 L284.0,494.5 L285.0,494.5 L286.0,494.5 L287.0,494.0 L288.0,493.3 L289.0,493.1 L290.0,493.5 L291.0,492.9 L292.0,493.4 L293.0,493.0 L294.0,492.4 L295.0,492.9 L296.0,492.5 L297.0,492.5 L298.0,492.2 L299.0,492.0 L300.0,491.5 L301.0,492.2 L302.0,491.5 L303.0,492.0 L304.0,491.9 L305.0,492.0 L306.0,491.8 L307.0,492.5 L308.0,492.5 L309.0,492.2 L310.0,492.3 L311.0,492.0 L312.0,491.8 L313.0,492.2 L314.0,492.0 L315.0,491.5 L316.0,491.8 L317.0,492.0 L318.0,492.9 L319.0,493.1 L320.0,493.0 L321.0,493.1 L322.0,494.1 L323.0,494.0 L324.0,493.8 L325.0,494.5 L326.0,494.0 L327.0,494.5 L328.0,494.2 L329.0,494.5 L330.0,494.2 L331.0,493.9 L332.0,494.5 L333.0,494.8 L334.0,493.6 L335.0,494.0 L336.0,494.5 L337.0,494.9 L338.0,494.5 L339.0,494.8 L340.0,494.4 L341.0,495.0 L342.0,495.7 L343.0,496.1 L344.0,496.0 L345.0,496.0 L346.0,496.2 L347.0,496.3 L348.0,496.4 L349.0,496.4 L350.0,497.0 L351.0,497.1 L352.0,496.7 L353.0,496.3 L354.0,496.1 L355.0,496.5 L356.0,496.5 L357.0,495.9 L358.0,495.9 L359.0,495.5 L360.0,495.5 L361.0,495.9 L362.0,496.0 L363.0,494.9 L364.0,495.1 L365.0,495.5 L366.0,495.3 L367.0,496.1 L368.0,495.8 L369.0,495.3 L370.0,495.5 L371.0,495.4 L372.0,496.1 L373.0,496.5 L374.0,496.8 L375.0,496.5 L376.0,496.5 L377.0,497.4 L378.0,497.3 L379.0,497.3 L380.0,497.5 L381.0,498.2 L382.0,497.4 L383.0,498.1 L384.0,497.4 L385.0,498.0 L386.0,497.9 L387.0,499.1 L388.0,498.6 L389.0,499.5 L390.0,499.5 L391.0,499.9 L392.0,500.5 L393.0,500.2 L394.0,500.5 L395.0,501.0 L396.0,500.9 L397.0,501.8 L398.0,501.7 L399.0,502.3 L400.0,502.0 L401.0,502.7 L402.0,502.0 L403.0,502.7 L404.0,502.3 L405.0,503.0 L406.0,502.5 L407.0,502.7 L408.0,503.7 L409.0,503.7 L410.0,503.5 L411.0,503.9 L412.0,503.3 L413.0,503.6 L414.0,503.8 L415.0,503.5 L416.0,503.5 L417.0,503.8 L418.0,503.5 L419.0,503.4 L420.0,504.0 L421.0,503.7 L422.0,504.5 L423.0,504.1 L424.0,504.5 L425.0,504.0 L426.0,503.8 L427.0,503.5 L428.0,504.0 L429.0,504.0 L430.0,503.5 L431.0,502.9 L432.0,503.7 L433.0,503.0 L434.0,503.0 L435.0,503.5 L436.0,503.9 L437.0,502.7 L438.0,502.9 L439.0,503.7 L440.0,503.0 L441.0,502.8 L442.0,502.3 L443.0,502.3 L444.0,502.3 L445.0,502.5 L446.0,502.6 L447.0,501.6 L448.0,502.4 L449.0,501.6 L450.0,501.5 L451.0,502.0 L452.0,501.8 L453.0,501.0 L454.0,500.8 L455.0,501.0 L456.0,501.0 L457.0,500.5 L458.0,501.2 L459.0,500.4 L460.0,501.0 L461.0,500.3 L462.0,501.4 L463.0,500.5 L464.0,500.7 L465.0,500.5 L466.0,500.3 L467.0,500.1 L468.0,499.7 L469.0,500.6 L470.0,500.0" fill="none" stroke="#1f3fd8" stroke-width="1.3" stroke-linejoin="round"/>
<path d="M32.4,342.0 L32.6,335.0 L33.2,330.2 L34.2,343.3 L35.1,353.3 L35.7,361.6 L36.2,370.0 L36.6,378.2 L36.9,390.0 L37.4,415.0 L37.7,426.0 L38.0,427.0 L39.0,398.0 L39.5,428.0 L40.5,400.0 L41.5,430.0 L43.5,432.0 L46.0,395.0 L47.5,382.0 L48.0,392.0 L49.0,383.0 L50.0,400.0 L51.0,415.0 L52.0,425.0 L52.5,413.0 L53.0,430.0 L54.5,440.0 L56.0,437.0 L57.5,432.0 L59.0,413.0 L59.5,425.0 L60.0,440.0 L61.0,455.0 L62.0,484.0 L63.0,487.0 L64.0,482.0 L65.0,485.0 L66.0,478.0 L67.0,470.0 L68.0,465.0 L69.0,470.0 L70.0,480.0 L71.0,490.0 L72.0,497.0 L73.0,501.0 L74.0,490.0 L75.0,480.0 L76.0,475.0 L77.0,472.0 L78.0,475.0 L79.0,480.0 L80.0,485.0 L81.0,487.0 L82.0,484.0 L83.0,487.0 L84.0,490.0 L85.0,492.0 L86.0,496.0 L87.0,500.0 L88.0,502.0 L89.0,504.0 L90.0,505.0 L91.0,500.0 L92.0,494.0 L93.0,490.0 L94.0,484.0 L95.0,481.0 L96.0,482.0 L97.0,481.0 L98.0,486.0 L99.0,492.0 L100.0,497.0 L102.0,501.0 L103.0,501.8 L104.0,502.0 L105.0,501.3 L106.0,500.0 L107.0,497.2 L108.0,495.0 L109.0,494.2 L110.0,494.0 L111.0,495.2 L112.0,496.0 L113.0,498.0 L114.0,500.2 L115.0,502.0 L116.0,503.1 L117.0,504.0 L118.0,504.9 L119.0,506.0 L120.0,505.0 L121.0,504.4 L122.0,503.7 L123.0,503.0 L124.0,503.4 L125.0,503.4 L126.0,504.0 L127.0,504.5 L128.0,505.0 L129.0,504.4 L130.0,504.0 L131.0,503.8 L132.0,503.7 L133.0,503.0 L134.0,503.6 L135.0,503.7 L136.0,504.0 L137.0,504.3 L138.0,504.5 L139.0,505.0 L140.0,504.7 L141.0,504.7 L142.0,505.0 L143.0,506.0 L144.0,507.0 L145.0,508.4 L146.0,510.0 L147.0,510.4 L148.0,511.0 L149.0,511.8 L150.0,512.0 L151.0,511.5 L152.0,511.0 L153.0,510.5 L154.0,510.0 L155.0,508.8 L156.0,508.0 L157.0,507.2 L158.0,507.0 L159.0,506.4 L160.0,506.0 L161.0,505.2 L162.0,505.0 L163.0,504.0 L164.0,503.0 L165.0,503.3 L166.0,503.0 L167.0,502.9 L168.0,502.5 L169.0,502.5 L170.0,503.0 L171.0,503.8 L172.0,504.0 L173.0,504.7 L174.0,505.0 L175.0,505.7 L176.0,506.0 L177.0,506.3 L178.0,506.0 L179.0,506.2 L180.0,506.0 L181.0,506.2 L182.0,506.0 L183.0,506.4 L184.0,507.0 L185.0,507.8 L186.0,508.0 L187.0,508.8 L188.0,509.0 L189.0,508.3 L190.0,508.0 L191.0,507.7 L192.0,507.0 L193.0,506.7 L194.0,506.0 L195.0,506.0 L196.0,506.0 L197.0,506.5 L198.0,507.0 L199.0,507.0 L200.0,507.0 L201.0,506.8 L202.0,506.0 L203.0,505.0 L204.0,504.0 L205.0,503.7 L206.0,503.0 L207.0,502.4 L208.0,502.0 L209.0,502.1 L210.0,501.9 L211.0,501.5 L212.0,501.3 L213.0,501.2 L214.0,501.0 L215.0,501.3 L216.0,501.2 L217.0,501.0 L218.0,500.8 L219.0,500.5 L220.0,500.5 L221.0,500.2 L222.0,500.3 L223.0,500.0 L224.0,499.8 L225.0,500.3 L226.0,500.0 L227.0,499.8 L228.0,500.3 L229.0,500.0 L230.0,499.7 L231.0,500.0 L232.0,499.5 L233.0,499.6 L234.0,499.5 L235.0,499.5 L236.0,499.7 L237.0,499.9 L238.0,500.0 L239.0,500.1 L240.0,500.0 L241.0,500.5 L242.0,501.1 L243.0,502.0 L244.0,502.2 L245.0,502.6 L246.0,502.5 L247.0,502.7 L248.0,502.5 L249.0,503.1 L250.0,503.0 L251.0,503.2 L252.0,503.3 L253.0,502.8 L254.0,503.2 L255.0,503.0 L256.0,502.8 L257.0,503.3 L258.0,503.1 L259.0,503.2 L260.0,503.5 L261.0,503.8 L262.0,503.2 L263.0,503.5 L264.0,503.7 L265.0,503.5 L266.0,503.4 L267.0,503.5 L268.0,504.1 L269.0,503.8 L270.0,504.0 L271.0,504.3 L272.0,503.9 L273.0,504.2 L274.0,504.2 L275.0,504.5 L276.0,504.6 L277.0,504.2 L278.0,504.8 L279.0,504.2 L280.0,504.5 L281.0,504.6 L282.0,504.0 L283.0,504.0 L284.0,504.3 L285.0,504.0 L286.0,503.7 L287.0,503.6 L288.0,503.8 L289.0,503.5 L290.0,503.5 L291.0,503.1 L292.0,503.6 L293.0,503.0 L294.0,502.8 L295.0,503.0 L296.0,503.0 L297.0,503.3 L298.0,503.5 L299.0,503.1 L300.0,503.5 L301.0,503.5 L302.0,503.4 L303.0,503.8 L304.0,504.1 L305.0,504.0 L306.0,504.3 L307.0,504.5 L308.0,504.5 L309.0,504.7 L310.0,504.5 L311.0,504.7 L312.0,504.7 L313.0,504.6 L314.0,505.0 L315.0,505.0 L316.0,504.9 L317.0,504.7 L318.0,505.0 L319.0,505.3 L320.0,505.0 L321.0,504.7 L322.0,505.1 L323.0,504.9 L324.0,505.0 L325.0,505.0 L326.0,504.8 L327.0,505.3 L328.0,504.8 L329.0,505.1 L330.0,505.0 L331.0,504.8 L332.0,504.5 L333.0,504.7 L334.0,504.3 L335.0,504.5 L336.0,504.2 L337.0,504.2 L338.0,504.3 L339.0,504.2 L340.0,504.5 L340.9,504.5 L341.8,504.4 L342.7,504.7 L343.6,504.6 L344.5,504.6 L345.5,504.0 L346.4,504.1 L347.3,504.0 L348.2,504.2 L349.1,504.1 L350.0,504.0 L350.9,504.3 L351.8,504.2 L352.7,504.0 L353.6,504.1 L354.5,504.2 L355.5,503.9 L356.4,504.0 L357.3,504.3 L358.2,504.1 L359.1,504.6 L360.0,504.5 L360.9,504.4 L361.8,504.3 L362.7,504.4 L363.6,504.5 L364.5,504.5 L365.5,504.8 L366.4,504.8 L367.3,504.7 L368.2,505.0 L369.1,504.8 L370.0,505.0 L370.9,505.3 L371.8,505.4 L372.7,505.3 L373.6,505.1 L374.5,505.2 L375.5,505.3 L376.4,505.0 L377.3,505.3 L378.2,505.4 L379.1,505.2 L380.0,505.5 L380.9,505.2 L381.8,505.7 L382.7,505.4 L383.6,505.5 L384.5,505.8 L385.5,505.6 L386.4,505.4 L387.3,505.8 L388.2,505.4 L389.1,505.2 L390.0,505.5 L390.9,505.6 L391.8,505.2 L392.7,505.4 L393.6,505.7 L394.5,505.6 L395.5,505.2 L396.4,505.5 L397.3,505.4 L398.2,505.5 L399.1,505.3 L400.0,505.5 L400.9,505.6 L401.8,505.3 L402.7,505.5 L403.6,505.6 L404.5,506.0 L405.5,505.5 L406.4,506.0 L407.3,505.6 L408.2,506.0 L409.1,505.9 L410.0,506.0 L410.9,506.0 L411.8,506.2 L412.7,505.9 L413.6,505.7 L414.5,505.7 L415.5,505.7 L416.4,506.2 L417.3,506.1 L418.2,506.3 L419.1,506.1 L420.0,506.0 L421.0,505.8 L422.0,506.3 L423.0,506.5 L424.0,506.6 L425.0,506.5 L426.0,506.6 L427.0,506.6 L428.0,506.8 L429.0,507.1 L430.0,507.0 L431.0,506.7 L432.0,506.8 L433.0,506.7 L434.0,506.9 L435.0,506.5 L436.0,506.7 L437.0,506.8 L438.0,506.7 L439.0,506.4 L440.0,506.5 L441.0,506.5 L442.0,506.9 L443.0,506.9 L444.0,507.2 L445.0,507.5 L446.0,507.9 L447.0,508.4 L448.0,508.5 L449.0,508.9 L450.0,509.0 L451.0,508.7 L452.0,508.9 L453.0,509.3 L454.0,508.8 L455.0,509.0 L456.0,508.9 L457.0,508.7 L458.0,508.7 L459.0,509.3 L460.0,509.0 L460.9,509.3 L461.8,509.1 L462.7,508.7 L463.6,508.9 L464.5,508.8 L465.5,509.1 L466.4,509.1 L467.3,509.0 L468.2,509.0 L469.1,508.7 L470.0,509.0" fill="none" stroke="#e8202a" stroke-width="1.2" stroke-linejoin="round"/>
<path d="M38.4,383.5 L39.3,385.0 L40.2,390.0 L41.0,392.0 L42.3,396.6 L43.2,402.0 L44.0,407.0 L44.8,411.0 L45.6,418.0 L46.5,425.0 L47.5,427.0 L49.0,428.2 L50.5,429.5 L51.0,428.0 L51.5,420.0 L51.9,414.0 L52.3,420.0 L52.8,428.0 L53.5,436.0 L54.5,442.0 L55.5,446.0 L57.0,449.0 L59.0,452.0 L61.0,456.0 L62.0,457.5 L63.0,460.0 L64.0,459.1 L65.0,458.0 L66.0,461.0 L67.0,466.0 L68.0,470.0 L69.0,473.0 L70.0,471.0 L71.0,468.0 L72.0,466.0 L73.0,464.0 L74.0,463.0 L75.0,465.0 L76.0,464.0 L77.0,466.0 L78.0,468.0 L79.0,470.0 L80.0,469.0 L81.0,468.0 L82.0,471.0 L83.0,473.0 L84.0,475.0 L85.0,475.3 L86.0,476.0 L87.0,478.2 L88.0,480.0 L89.0,482.2 L90.0,484.0 L91.0,485.2 L92.0,488.0 L93.0,490.0 L94.0,492.0 L95.0,491.1 L96.0,492.0 L97.0,493.1 L98.0,493.0 L99.0,494.6 L100.0,497.0 L101.0,497.0 L102.0,498.0 L103.0,498.4 L104.0,497.0 L105.0,497.4 L106.0,498.0 L107.0,499.6 L108.0,500.0 L109.0,499.5 L110.0,499.0 L111.0,500.8 L112.0,502.0 L113.0,502.4 L114.0,504.0 L115.0,503.7 L116.0,503.0 L117.0,504.7 L118.0,505.0 L119.0,505.5 L120.0,506.0 L121.0,503.9 L122.0,501.0 L123.0,500.8 L124.0,500.0 L125.0,501.2 L126.0,504.0 L127.0,504.0 L128.0,503.0 L129.0,501.7 L130.0,500.0 L131.0,497.0 L132.0,495.1 L133.0,494.0 L134.0,492.7 L135.0,493.0 L136.0,493.2 L137.0,492.0 L138.0,488.0 L139.0,486.5 L140.0,489.0 L141.0,489.5 L142.0,490.0 L143.0,489.9 L144.0,489.0 L145.0,490.7 L146.0,491.0 L147.0,492.4 L148.0,493.0 L149.0,494.3 L150.0,494.0 L151.0,494.3 L152.0,495.0 L153.0,498.0 L154.0,502.0 L155.0,505.0 L156.0,506.0 L157.0,506.0 L158.0,505.4 L159.0,505.0 L160.0,504.8 L161.0,503.0 L162.0,500.0 L163.0,498.0 L164.0,499.2 L165.0,499.0 L166.0,498.8 L167.0,500.0 L168.0,499.8 L169.0,501.0 L170.0,501.0 L171.0,502.0 L172.0,503.3 L173.0,503.0 L174.0,502.4 L175.0,502.0 L176.0,502.7 L177.0,503.0 L178.0,502.6 L179.0,503.0 L180.0,502.5 L181.0,502.0 L182.0,502.3 L183.0,503.0 L184.0,502.2 L185.0,502.0 L186.0,501.7 L187.0,501.0 L188.0,503.0 L189.0,504.2 L190.0,505.0 L191.0,505.7 L192.0,505.0 L193.0,505.8 L194.0,506.0 L195.0,506.8 L196.0,506.0 L197.0,506.6 L198.0,506.0 L199.0,506.9 L200.0,506.0 L201.0,506.3 L202.0,505.4 L203.0,506.0 L204.0,506.6 L205.0,506.8 L206.0,506.0 L207.0,506.7 L208.0,506.1 L209.0,506.0 L210.0,506.1 L211.0,504.8 L212.0,505.0 L213.0,505.9 L214.0,505.8 L215.0,506.0 L216.0,505.6 L217.0,505.2 L218.0,506.0 L219.0,506.6 L220.0,506.9 L221.0,506.0 L222.0,505.3 L223.0,506.5 L224.0,506.0 L225.0,506.2 L226.0,506.0 L227.0,507.0 L228.0,507.0 L229.0,508.2 L230.0,508.0 L231.0,509.7 L232.0,510.0 L233.0,509.2 L234.0,510.2 L235.0,510.0 L236.0,508.2 L237.0,508.0 L238.0,508.1 L239.0,507.2 L240.0,507.9 L241.0,507.0 L242.0,507.7 L243.0,506.7 L244.0,506.5 L245.0,507.4 L246.0,506.2 L247.0,506.5 L248.0,505.6 L249.0,506.3 L250.0,506.0 L251.0,505.3 L252.0,505.8 L253.0,506.5 L254.0,506.5 L255.0,507.0 L256.0,507.0 L257.0,506.5 L258.0,506.5 L259.0,507.5 L260.0,508.0 L261.0,506.8 L262.0,507.0 L263.0,508.2 L264.0,508.4 L265.0,508.0 L266.0,507.8 L267.0,507.9 L268.0,508.0 L269.0,507.9 L270.0,507.9 L271.0,507.5 L272.0,507.8 L273.0,507.9 L274.0,508.0 L275.0,508.2 L276.0,508.8 L277.0,508.0 L278.0,508.3 L279.0,508.5 L280.0,509.0 L281.0,509.4 L282.0,508.5 L283.0,509.0 L284.0,508.5 L285.0,509.5 L286.0,508.5 L287.0,508.4 L288.0,508.3 L289.0,508.0 L290.0,507.1 L291.0,507.8 L292.0,508.0 L293.0,508.1 L294.0,507.1 L295.0,508.0 L296.0,508.4 L297.0,508.6 L298.0,508.5 L299.0,507.9 L300.0,509.1 L301.0,509.0 L302.0,509.4 L303.0,510.0 L304.0,510.7 L305.0,510.4 L306.0,511.0 L307.0,511.2 L308.0,511.1 L309.0,510.5 L310.0,509.5 L311.0,509.4 L312.0,510.0 L313.0,510.1 L314.0,509.5" fill="none" stroke="#111" stroke-width="1.5" stroke-linejoin="round"/>
</g>
<g id="panelC">
<line x1="30.7" x2="471.4" y1="783.5" y2="783.5" stroke="#3a3a3a" stroke-width="1"/>
<line x1="30.7" x2="471.4" y1="731.5" y2="731.5" stroke="#3a3a3a" stroke-width="1"/>
<line x1="30.7" x2="471.4" y1="679.5" y2="679.5" stroke="#3a3a3a" stroke-width="1"/>
<line x1="30.7" x2="471.4" y1="627.5" y2="627.5" stroke="#3a3a3a" stroke-width="1"/>
<line x1="30.7" x2="471.4" y1="575.5" y2="575.5" stroke="#aaa" stroke-width="1"/>
<line x1="471.5" x2="471.5" y1="575.5" y2="835.5" stroke="#999" stroke-width="1"/>
<line x1="30.5" x2="30.5" y1="575.0" y2="836.0" stroke="#8a8a8a" stroke-width="1.6"/>
<line x1="30.0" x2="472.0" y1="835.5" y2="835.5" stroke="#707070" stroke-width="1"/>
<line x1="28.0" x2="30.5" y1="835.5" y2="835.5" stroke="#8a8a8a" stroke-width="1"/>
<text class="t" x="25.00" y="837.10" text-anchor="end">0.00</text>
<line x1="28.0" x2="30.5" y1="783.5" y2="783.5" stroke="#8a8a8a" stroke-width="1"/>
<text class="t" x="25.00" y="785.10" text-anchor="end">0.20</text>
<line x1="28.0" x2="30.5" y1="731.5" y2="731.5" stroke="#8a8a8a" stroke-width="1"/>
<text class="t" x="25.00" y="733.10" text-anchor="end">0.40</text>
<line x1="28.0" x2="30.5" y1="679.5" y2="679.5" stroke="#8a8a8a" stroke-width="1"/>
<text class="t" x="25.00" y="681.10" text-anchor="end">0.60</text>
<line x1="28.0" x2="30.5" y1="627.5" y2="627.5" stroke="#8a8a8a" stroke-width="1"/>
<text class="t" x="25.00" y="629.10" text-anchor="end">0.80</text>
<line x1="28.0" x2="30.5" y1="575.5" y2="575.5" stroke="#8a8a8a" stroke-width="1"/>
<text class="t" x="25.00" y="577.10" text-anchor="end">1.00</text>
<line x1="30.5" x2="30.5" y1="835.5" y2="838.0" stroke="#707070" stroke-width="1"/>
<text class="t" x="30.50" y="847.10" text-anchor="middle">0</text>
<line x1="118.5" x2="118.5" y1="835.5" y2="838.0" stroke="#707070" stroke-width="1"/>
<text class="t" x="118.50" y="847.10" text-anchor="middle">200</text>
<line x1="206.5" x2="206.5" y1="835.5" y2="838.0" stroke="#707070" stroke-width="1"/>
<text class="t" x="206.50" y="847.10" text-anchor="middle">400</text>
<line x1="295.5" x2="295.5" y1="835.5" y2="838.0" stroke="#707070" stroke-width="1"/>
<text class="t" x="295.50" y="847.10" text-anchor="middle">600</text>
<line x1="383.5" x2="383.5" y1="835.5" y2="838.0" stroke="#707070" stroke-width="1"/>
<text class="t" x="383.50" y="847.10" text-anchor="middle">800</text>
<line x1="471.5" x2="471.5" y1="835.5" y2="838.0" stroke="#707070" stroke-width="1"/>
<text class="t" x="471.50" y="847.10" text-anchor="middle">1000</text>
<line x1="30.5" x2="30.5" y1="575.0" y2="705" stroke="#4a4a4a" stroke-width="1"/>
<text class="b" x="249.8" y="859.3" text-anchor="middle">Distance (kb)</text>
<text class="b" transform="translate(6.7,704.6) rotate(-90)" text-anchor="middle">Proportion</text>
<text class="L" x="0.6" y="581">C</text>
<line x1="184" x2="471.5" y1="835.5" y2="835.5" stroke="#5a6390" stroke-width="1.3"/>
<path d="M43.5,653.0 L44.0,660.0 L45.0,665.0 L46.0,670.0 L48.0,670.0 L49.0,672.0 L50.0,680.0 L51.0,690.0 L52.0,700.0 L53.0,705.0 L55.0,710.0 L57.0,705.0 L58.0,690.0 L59.0,688.0 L60.0,695.0 L62.0,697.0 L63.0,705.0 L64.0,712.0 L65.0,716.0 L66.0,720.0 L67.0,724.0 L68.0,730.0 L69.0,728.0 L70.0,724.0 L71.0,722.0 L72.0,728.0 L73.0,735.0 L74.0,740.0 L75.0,744.0 L76.0,742.0 L77.0,740.0 L78.0,748.0 L79.0,748.0 L88.0,748.0 L89.0,755.0 L90.0,762.0 L91.0,770.0 L92.0,778.0 L93.0,783.0 L98.0,783.0 L99.0,790.0 L100.0,792.0 L101.0,786.0 L102.0,784.0 L103.0,790.0 L104.0,792.0 L106.0,792.0 L108.0,796.0 L109.0,800.0 L116.0,800.0 L117.0,794.0 L118.0,792.0 L119.0,796.0 L120.0,792.0 L121.0,788.0 L122.0,784.0 L124.0,783.0 L128.0,783.0 L129.0,778.0 L130.0,774.0 L132.0,774.0 L133.0,780.0 L134.0,783.0 L135.0,778.0 L136.0,774.0 L140.0,774.0 L141.0,780.0 L142.0,783.0 L143.0,778.0 L144.0,774.0 L145.0,780.0 L146.0,783.0 L148.0,783.0 L149.0,788.0 L150.0,792.0 L151.0,788.0 L152.0,783.0 L153.0,788.0 L154.0,792.0 L158.0,792.0 L159.0,796.0 L160.0,800.0 L166.0,800.0 L167.0,804.0 L168.0,808.0 L169.0,812.0 L170.0,815.0 L170.8,817.5 L180.4,817.5 L182.0,826.0 L183.0,831.0 L183.7,835.0" fill="none" stroke="#1f3fd8" stroke-width="1.2" stroke-linejoin="round"/>
<path d="M30.9,628.0 L31.0,612.0 L31.4,600.6 L32.2,604.0 L33.1,608.3 L33.9,617.5 L34.3,626.6 L34.7,636.6 L35.2,648.0 L35.6,660.0 L35.9,685.0 L36.2,705.0 L36.5,718.0 L37.5,675.0 L38.5,712.0 L39.5,675.0 L41.0,720.0 L42.0,725.0 L43.0,715.0 L44.0,700.0 L45.5,660.0 L46.5,654.0 L48.0,654.0 L48.5,670.0 L49.0,700.0 L50.0,710.0 L51.0,720.0 L52.0,730.0 L53.0,742.0 L54.0,745.0 L55.0,730.0 L56.0,715.0 L57.0,705.0 L58.0,688.0 L59.0,700.0 L59.5,720.0 L60.0,740.0 L61.0,760.0 L61.5,785.0 L62.0,795.0 L63.0,802.0 L64.0,790.0 L65.0,775.0 L66.0,765.0 L67.0,770.0 L68.0,785.0 L69.0,800.0 L70.0,815.0 L71.0,824.0 L72.0,810.0 L73.0,790.0 L74.0,780.0 L75.0,774.0 L76.0,777.0 L77.0,782.0 L78.0,788.0 L79.0,795.0 L80.0,798.0 L81.0,800.0 L82.0,798.0 L83.0,800.0 L84.0,805.0 L85.0,815.0 L86.0,812.0 L87.0,818.0 L88.0,825.0 L89.0,830.0 L90.0,825.0 L91.0,815.0 L92.0,805.0 L93.0,795.0 L94.0,790.0 L95.0,788.0 L96.0,790.0 L97.0,795.0 L98.0,800.0 L99.0,808.0 L100.0,815.0 L101.0,824.0 L102.0,822.0 L103.0,818.0 L104.0,824.0 L105.0,818.0 L106.0,810.0 L107.0,805.0 L108.0,800.0 L113.0,800.0 L114.0,805.0 L115.0,815.0 L116.0,824.0 L117.0,820.0 L118.0,818.0 L119.0,822.0 L120.0,818.0 L121.0,822.0 L122.0,828.0 L123.0,830.0 L124.0,827.0 L126.0,826.0 L127.0,822.0 L128.0,820.0 L129.0,826.0 L135.0,826.0 L136.5,830.5 L142.0,830.5 L142.5,835.0 L160.5,835.0 L161.5,831.0 L162.5,830.0 L181.6,830.0 L182.5,832.0 L183.3,835.0 L190.3,835.0 L190.8,830.0 L191.3,824.8 L236.3,824.8 L238.0,828.0 L241.5,835.0" fill="none" stroke="#e8202a" stroke-width="1.2" stroke-linejoin="round"/>
<path d="M38.0,635.0 L40.0,636.0 L39.2,640.0 L40.3,643.0 L39.6,647.0 L40.8,650.0 L42.0,665.0 L43.0,680.0 L43.6,690.0 L45.0,695.0 L46.0,700.0 L47.0,705.0 L49.0,705.0 L50.0,700.0 L50.5,705.0 L51.0,712.0 L52.0,720.0 L53.0,730.0 L54.0,738.0 L55.0,742.0 L56.0,745.0 L57.0,748.0 L58.0,748.0 L59.0,750.0 L60.0,755.0 L61.0,757.0 L63.0,757.0 L64.0,750.0 L65.0,748.0 L66.0,755.0 L67.0,765.0 L68.0,772.0 L69.0,773.0 L70.0,765.0 L71.0,758.0 L72.0,752.0 L73.0,748.0 L79.0,748.0 L79.5,755.0 L80.0,757.0 L81.0,750.0 L82.0,757.0 L83.0,762.0 L84.0,765.0 L85.0,762.0 L86.0,765.0 L87.0,770.0 L88.0,775.0 L89.0,780.0 L90.0,783.0 L91.0,790.0 L92.0,800.0 L93.0,808.0 L95.0,808.0 L97.0,809.0 L98.0,815.0 L99.0,818.0 L103.0,818.0 L104.0,815.0 L105.0,810.0 L107.0,809.0 L115.0,809.0 L116.0,812.0 L117.0,818.0 L121.0,818.0 L122.0,812.0 L123.0,809.0 L125.0,810.0 L126.0,818.0 L127.0,822.0 L128.0,826.0 L129.0,822.0 L130.0,818.0 L136.0,818.0 L137.0,810.0 L138.0,800.0 L138.5,792.0 L139.0,800.0 L143.0,800.0 L144.0,806.0 L145.0,809.0 L151.0,809.0 L152.0,815.0 L153.0,825.0 L154.0,835.0 L156.0,835.0 L157.0,828.0 L158.0,820.0 L159.0,817.7 L180.4,817.7 L182.0,826.0 L185.4,826.0 L186.3,821.0 L187.0,818.3 L187.8,821.0 L189.0,826.3 L232.2,826.3 L232.7,835.0" fill="none" stroke="#111" stroke-width="1.3" stroke-linejoin="round"/>
</g>
</svg></body></html>
